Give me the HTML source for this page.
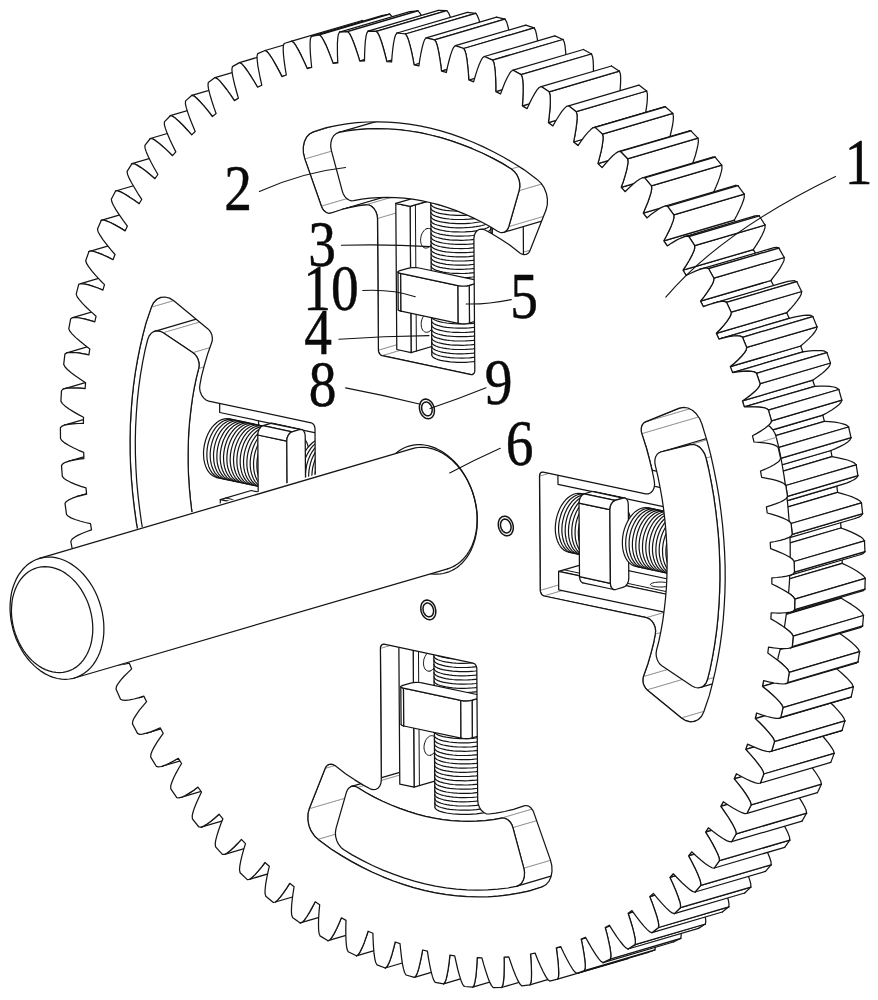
<!DOCTYPE html><html><head><meta charset="utf-8"><style>html,body{margin:0;padding:0;background:#fff}svg{display:block}</style></head><body><svg width="878" height="1000" viewBox="0 0 878 1000" stroke-linejoin="round" stroke-linecap="round"><path d="M86.6,494.2L81.8,495.3 76.7,496.7 147.1,476.1 152.1,474.7 157,473.6Z" fill="#fff"/>
<path d="M86.6,494.2L81.8,495.3 76.7,496.7" fill="none" stroke="#141414" stroke-width="1.25"/>
<path d="M157,473.6L152.1,474.7 147.1,476.1" fill="none" stroke="#141414" stroke-width="1.25"/>
<path d="M86.6,494.2L157,473.6" fill="none" stroke="#141414" stroke-width="1.25"/>
<path d="M76.7,496.7L147.1,476.1" fill="none" stroke="#141414" stroke-width="1.25"/>
<path d="M139.1,697.6L143.8,696.1 214.2,675.4 209.4,676.9Z" fill="#fff"/>
<path d="M139.1,697.6L143.8,696.1" fill="none" stroke="#141414" stroke-width="1.25"/>
<path d="M209.4,676.9L214.2,675.4" fill="none" stroke="#141414" stroke-width="1.25"/>
<path d="M139.1,697.6L209.4,676.9" fill="none" stroke="#141414" stroke-width="1.25"/>
<path d="M143.8,696.1L214.2,675.4" fill="none" stroke="#141414" stroke-width="1.25"/>
<path d="M146.3,733.2L150.7,731.8 155.6,729.9 160.2,727.9 230.6,707.2 226,709.2 221.1,711.2 216.7,712.6Z" fill="#fff"/>
<path d="M146.3,733.2L150.7,731.8 155.6,729.9 160.2,727.9" fill="none" stroke="#141414" stroke-width="1.25"/>
<path d="M216.7,712.6L221.1,711.2 226,709.2 230.6,707.2" fill="none" stroke="#141414" stroke-width="1.25"/>
<path d="M146.3,733.2L216.7,712.6" fill="none" stroke="#141414" stroke-width="1.25"/>
<path d="M160.2,727.9L230.6,707.2" fill="none" stroke="#141414" stroke-width="1.25"/>
<path d="M83.9,458.6L78.9,459.2 73.7,460.1 69.2,461.1 139.6,440.5 144.1,439.4 149.3,438.6 154.3,438Z" fill="#fff"/>
<path d="M83.9,458.6L78.9,459.2 73.7,460.1 69.2,461.1" fill="none" stroke="#141414" stroke-width="1.25"/>
<path d="M154.3,438L149.3,438.6 144.1,439.4 139.6,440.5" fill="none" stroke="#141414" stroke-width="1.25"/>
<path d="M83.9,458.6L154.3,438" fill="none" stroke="#141414" stroke-width="1.25"/>
<path d="M69.2,461.1L139.6,440.5" fill="none" stroke="#141414" stroke-width="1.25"/>
<path d="M161.2,766.5L165,765.2 169.2,763.3 173.9,760.8 178.3,758.3 248.6,737.6 244.3,740.2 239.6,742.6 235.3,744.5 231.6,745.8Z" fill="#fff"/>
<path d="M161.2,766.5L165,765.2 169.2,763.3 173.9,760.8 178.3,758.3" fill="none" stroke="#141414" stroke-width="1.25"/>
<path d="M231.6,745.8L235.3,744.5 239.6,742.6 244.3,740.2 248.6,737.6" fill="none" stroke="#141414" stroke-width="1.25"/>
<path d="M161.2,766.5L231.6,745.8" fill="none" stroke="#141414" stroke-width="1.25"/>
<path d="M178.3,758.3L248.6,737.6" fill="none" stroke="#141414" stroke-width="1.25"/>
<path d="M83.4,423.4L78.3,423.5 73,423.8 68.4,424.3 64.5,425.1 134.9,404.5 138.8,403.6 143.4,403.1 148.7,402.8 153.8,402.8Z" fill="#fff"/>
<path d="M83.4,423.4L78.3,423.5 73,423.8 68.4,424.3 64.5,425.1" fill="none" stroke="#141414" stroke-width="1.25"/>
<path d="M153.8,402.8L148.7,402.8 143.4,403.1 138.8,403.6 134.9,404.5" fill="none" stroke="#141414" stroke-width="1.25"/>
<path d="M83.4,423.4L153.8,402.8" fill="none" stroke="#141414" stroke-width="1.25"/>
<path d="M64.5,425.1L134.9,404.5" fill="none" stroke="#141414" stroke-width="1.25"/>
<path d="M181.6,797.2L185.3,795.5 189.3,793.1 193.8,790.2 197.9,787.1 268.3,766.5 264.1,769.5 259.7,772.5 255.6,774.8 252,776.5Z" fill="#fff"/>
<path d="M181.6,797.2L185.3,795.5 189.3,793.1 193.8,790.2 197.9,787.1" fill="none" stroke="#141414" stroke-width="1.25"/>
<path d="M252,776.5L255.6,774.8 259.7,772.5 264.1,769.5 268.3,766.5" fill="none" stroke="#141414" stroke-width="1.25"/>
<path d="M181.6,797.2L252,776.5" fill="none" stroke="#141414" stroke-width="1.25"/>
<path d="M197.9,787.1L268.3,766.5" fill="none" stroke="#141414" stroke-width="1.25"/>
<path d="M85.1,388.7L79.9,388.2 74.5,388 69.8,388 65.8,388.4 63.2,389.1 133.6,368.4 136.2,367.7 140.2,367.4 144.9,367.3 150.3,367.6 155.4,368.1Z" fill="#fff"/>
<path d="M85.1,388.7L79.9,388.2 74.5,388 69.8,388 65.8,388.4 63.2,389.1" fill="none" stroke="#141414" stroke-width="1.25"/>
<path d="M155.4,368.1L150.3,367.6 144.9,367.3 140.2,367.4 136.2,367.7 133.6,368.4" fill="none" stroke="#141414" stroke-width="1.25"/>
<path d="M85.1,388.7L155.4,368.1" fill="none" stroke="#141414" stroke-width="1.25"/>
<path d="M63.2,389.1L133.6,368.4" fill="none" stroke="#141414" stroke-width="1.25"/>
<path d="M201.1,827.1L203.6,826.1 207.1,824 210.9,821.2 215.1,817.7 219,814.2 289.4,793.6 285.5,797.1 281.3,800.5 277.5,803.4 274,805.5 271.5,806.5Z" fill="#fff"/>
<path d="M201.1,827.1L203.6,826.1 207.1,824 210.9,821.2 215.1,817.7 219,814.2" fill="none" stroke="#141414" stroke-width="1.25"/>
<path d="M271.5,806.5L274,805.5 277.5,803.4 281.3,800.5 285.5,797.1 289.4,793.6" fill="none" stroke="#141414" stroke-width="1.25"/>
<path d="M201.1,827.1L271.5,806.5" fill="none" stroke="#141414" stroke-width="1.25"/>
<path d="M219,814.2L289.4,793.6" fill="none" stroke="#141414" stroke-width="1.25"/>
<path d="M88.9,354.8L83.7,353.8 78.3,352.9 73.5,352.5 69.5,352.5 66.8,352.9 137.1,332.2 139.8,331.8 143.9,331.8 148.7,332.3 154.1,333.1 159.2,334.1Z" fill="#fff"/>
<path d="M88.9,354.8L83.7,353.8 78.3,352.9 73.5,352.5 69.5,352.5 66.8,352.9" fill="none" stroke="#141414" stroke-width="1.25"/>
<path d="M159.2,334.1L154.1,333.1 148.7,332.3 143.9,331.8 139.8,331.8 137.1,332.2" fill="none" stroke="#141414" stroke-width="1.25"/>
<path d="M88.9,354.8L159.2,334.1" fill="none" stroke="#141414" stroke-width="1.25"/>
<path d="M66.8,352.9L137.1,332.2" fill="none" stroke="#141414" stroke-width="1.25"/>
<path d="M224.7,854.3L227.1,853 230.3,850.5 233.9,847.3 237.8,843.3 241.4,839.4 311.8,818.7 308.2,822.7 304.3,826.6 300.7,829.9 297.4,832.4 295,833.7Z" fill="#fff"/>
<path d="M224.7,854.3L227.1,853 230.3,850.5 233.9,847.3 237.8,843.3 241.4,839.4" fill="none" stroke="#141414" stroke-width="1.25"/>
<path d="M295,833.7L297.4,832.4 300.7,829.9 304.3,826.6 308.2,822.7 311.8,818.7" fill="none" stroke="#141414" stroke-width="1.25"/>
<path d="M224.7,854.3L295,833.7" fill="none" stroke="#141414" stroke-width="1.25"/>
<path d="M241.4,839.4L311.8,818.7" fill="none" stroke="#141414" stroke-width="1.25"/>
<path d="M94.8,321.8L89.7,320.3 84.2,318.9 79.5,318 75.4,317.5 72.6,317.6 143,297 145.7,296.9 149.8,297.3 154.6,298.3 160,299.7 165.2,301.2Z" fill="#fff"/>
<path d="M94.8,321.8L89.7,320.3 84.2,318.9 79.5,318 75.4,317.5 72.6,317.6" fill="none" stroke="#141414" stroke-width="1.25"/>
<path d="M165.2,301.2L160,299.7 154.6,298.3 149.8,297.3 145.7,296.9 143,297" fill="none" stroke="#141414" stroke-width="1.25"/>
<path d="M94.8,321.8L165.2,301.2" fill="none" stroke="#141414" stroke-width="1.25"/>
<path d="M72.6,317.6L143,297" fill="none" stroke="#141414" stroke-width="1.25"/>
<path d="M249.5,879.3L251.7,877.7 254.8,874.9 258.1,871.2 261.7,866.8 265,862.5 335.4,841.8 332.1,846.2 328.5,850.6 325.2,854.2 322.1,857.1 319.8,858.7Z" fill="#fff"/>
<path d="M249.5,879.3L251.7,877.7 254.8,874.9 258.1,871.2 261.7,866.8 265,862.5" fill="none" stroke="#141414" stroke-width="1.25"/>
<path d="M319.8,858.7L322.1,857.1 325.2,854.2 328.5,850.6 332.1,846.2 335.4,841.8" fill="none" stroke="#141414" stroke-width="1.25"/>
<path d="M249.5,879.3L319.8,858.7" fill="none" stroke="#141414" stroke-width="1.25"/>
<path d="M265,862.5L335.4,841.8" fill="none" stroke="#141414" stroke-width="1.25"/>
<path d="M102.9,290.1L97.8,288 92.4,286.1 87.6,284.7 83.5,283.8 80.7,283.6 151.1,262.9 153.8,263.1 158,264 162.7,265.4 168.1,267.4 173.2,269.4Z" fill="#fff"/>
<path d="M102.9,290.1L97.8,288 92.4,286.1 87.6,284.7 83.5,283.8 80.7,283.6" fill="none" stroke="#141414" stroke-width="1.25"/>
<path d="M173.2,269.4L168.1,267.4 162.7,265.4 158,264 153.8,263.1 151.1,262.9" fill="none" stroke="#141414" stroke-width="1.25"/>
<path d="M102.9,290.1L173.2,269.4" fill="none" stroke="#141414" stroke-width="1.25"/>
<path d="M80.7,283.6L151.1,262.9" fill="none" stroke="#141414" stroke-width="1.25"/>
<path d="M275.4,902L277.5,900.2 280.4,896.9 283.4,892.9 286.7,888.1 289.7,883.3 360,862.7 357,867.4 353.8,872.2 350.7,876.3 347.9,879.5 345.8,881.3Z" fill="#fff"/>
<path d="M275.4,902L277.5,900.2 280.4,896.9 283.4,892.9 286.7,888.1 289.7,883.3" fill="none" stroke="#141414" stroke-width="1.25"/>
<path d="M345.8,881.3L347.9,879.5 350.7,876.3 353.8,872.2 357,867.4 360,862.7" fill="none" stroke="#141414" stroke-width="1.25"/>
<path d="M275.4,902L345.8,881.3" fill="none" stroke="#141414" stroke-width="1.25"/>
<path d="M289.7,883.3L360,862.7" fill="none" stroke="#141414" stroke-width="1.25"/>
<path d="M113,259.7L108,257.1 102.6,254.7 97.9,252.8 93.8,251.5 91,251 88.9,251.6 159.2,230.9 161.3,230.3 164.1,230.8 168.3,232.1 173,234 178.3,236.5 183.4,239Z" fill="#fff"/>
<path d="M113,259.7L108,257.1 102.6,254.7 97.9,252.8 93.8,251.5 91,251 88.9,251.6" fill="none" stroke="#141414" stroke-width="1.25"/>
<path d="M183.4,239L178.3,236.5 173,234 168.3,232.1 164.1,230.8 161.3,230.3 159.2,230.9" fill="none" stroke="#141414" stroke-width="1.25"/>
<path d="M113,259.7L183.4,239" fill="none" stroke="#141414" stroke-width="1.25"/>
<path d="M88.9,251.6L159.2,230.9" fill="none" stroke="#141414" stroke-width="1.25"/>
<path d="M300.2,922.9L302.3,922.2 304.3,920.1 306.9,916.5 309.6,912.1 312.5,906.9 315.2,901.8 385.5,881.2 382.9,886.3 380,891.5 377.2,895.9 374.6,899.4 372.6,901.5 370.6,902.3Z" fill="#fff"/>
<path d="M300.2,922.9L302.3,922.2 304.3,920.1 306.9,916.5 309.6,912.1 312.5,906.9 315.2,901.8" fill="none" stroke="#141414" stroke-width="1.25"/>
<path d="M370.6,902.3L372.6,901.5 374.6,899.4 377.2,895.9 380,891.5 382.9,886.3 385.5,881.2" fill="none" stroke="#141414" stroke-width="1.25"/>
<path d="M300.2,922.9L370.6,902.3" fill="none" stroke="#141414" stroke-width="1.25"/>
<path d="M315.2,901.8L385.5,881.2" fill="none" stroke="#141414" stroke-width="1.25"/>
<path d="M125.1,230.9L120.2,227.9 114.9,224.9 110.3,222.5 106.2,220.8 103.4,220 101.2,220.4 171.6,199.7 173.7,199.4 176.5,200.1 180.6,201.8 185.3,204.2 190.5,207.2 195.5,210.2Z" fill="#fff"/>
<path d="M125.1,230.9L120.2,227.9 114.9,224.9 110.3,222.5 106.2,220.8 103.4,220 101.2,220.4" fill="none" stroke="#141414" stroke-width="1.25"/>
<path d="M195.5,210.2L190.5,207.2 185.3,204.2 180.6,201.8 176.5,200.1 173.7,199.4 171.6,199.7" fill="none" stroke="#141414" stroke-width="1.25"/>
<path d="M125.1,230.9L195.5,210.2" fill="none" stroke="#141414" stroke-width="1.25"/>
<path d="M101.2,220.4L171.6,199.7" fill="none" stroke="#141414" stroke-width="1.25"/>
<path d="M328,940.7L330,939.7 331.8,937.4 334.1,933.6 336.6,928.8 339.1,923.2 341.4,917.8 411.7,897.2 409.5,902.6 406.9,908.2 404.5,912.9 402.2,916.8 400.3,919.1 398.4,920.1Z" fill="#fff"/>
<path d="M328,940.7L330,939.7 331.8,937.4 334.1,933.6 336.6,928.8 339.1,923.2 341.4,917.8" fill="none" stroke="#141414" stroke-width="1.25"/>
<path d="M398.4,920.1L400.3,919.1 402.2,916.8 404.5,912.9 406.9,908.2 409.5,902.6 411.7,897.2" fill="none" stroke="#141414" stroke-width="1.25"/>
<path d="M328,940.7L398.4,920.1" fill="none" stroke="#141414" stroke-width="1.25"/>
<path d="M341.4,917.8L411.7,897.2" fill="none" stroke="#141414" stroke-width="1.25"/>
<path d="M139.1,203.8L134.3,200.3 129.2,196.9 124.6,194 120.6,191.9 117.8,190.9 115.6,191 186,170.4 188.2,170.2 191,171.3 195,173.4 199.6,176.2 204.7,179.7 209.5,183.2Z" fill="#fff"/>
<path d="M139.1,203.8L134.3,200.3 129.2,196.9 124.6,194 120.6,191.9 117.8,190.9 115.6,191" fill="none" stroke="#141414" stroke-width="1.25"/>
<path d="M209.5,183.2L204.7,179.7 199.6,176.2 195,173.4 191,171.3 188.2,170.2 186,170.4" fill="none" stroke="#141414" stroke-width="1.25"/>
<path d="M139.1,203.8L209.5,183.2" fill="none" stroke="#141414" stroke-width="1.25"/>
<path d="M115.6,191L186,170.4" fill="none" stroke="#141414" stroke-width="1.25"/>
<path d="M356.4,955.8L358.3,954.6 359.9,952.1 362,947.9 364.1,942.9 366.2,937 368.1,931.2 438.5,910.6 436.6,916.3 434.4,922.2 432.4,927.3 430.3,931.4 428.6,933.9 426.8,935.1Z" fill="#fff"/>
<path d="M356.4,955.8L358.3,954.6 359.9,952.1 362,947.9 364.1,942.9 366.2,937 368.1,931.2" fill="none" stroke="#141414" stroke-width="1.25"/>
<path d="M426.8,935.1L428.6,933.9 430.3,931.4 432.4,927.3 434.4,922.2 436.6,916.3 438.5,910.6" fill="none" stroke="#141414" stroke-width="1.25"/>
<path d="M356.4,955.8L426.8,935.1" fill="none" stroke="#141414" stroke-width="1.25"/>
<path d="M368.1,931.2L438.5,910.6" fill="none" stroke="#141414" stroke-width="1.25"/>
<path d="M154.9,178.7L150.3,174.8 145.4,170.8 140.9,167.6 137,165.1 134.3,163.8 132,163.7 202.4,143 204.6,143.1 207.4,144.4 211.3,146.9 215.7,150.2 220.7,154.1 225.3,158.1Z" fill="#fff"/>
<path d="M154.9,178.7L150.3,174.8 145.4,170.8 140.9,167.6 137,165.1 134.3,163.8 132,163.7" fill="none" stroke="#141414" stroke-width="1.25"/>
<path d="M225.3,158.1L220.7,154.1 215.7,150.2 211.3,146.9 207.4,144.4 204.6,143.1 202.4,143" fill="none" stroke="#141414" stroke-width="1.25"/>
<path d="M154.9,178.7L225.3,158.1" fill="none" stroke="#141414" stroke-width="1.25"/>
<path d="M132,163.7L202.4,143" fill="none" stroke="#141414" stroke-width="1.25"/>
<path d="M385.3,968L387,966.6 388.5,963.9 390.3,959.5 392,954.2 393.7,948 395.2,942 465.6,921.3 464.1,927.3 462.4,933.5 460.6,938.8 458.9,943.2 457.4,946 455.6,947.4Z" fill="#fff"/>
<path d="M385.3,968L387,966.6 388.5,963.9 390.3,959.5 392,954.2 393.7,948 395.2,942" fill="none" stroke="#141414" stroke-width="1.25"/>
<path d="M455.6,947.4L457.4,946 458.9,943.2 460.6,938.8 462.4,933.5 464.1,927.3 465.6,921.3" fill="none" stroke="#141414" stroke-width="1.25"/>
<path d="M385.3,968L455.6,947.4" fill="none" stroke="#141414" stroke-width="1.25"/>
<path d="M395.2,942L465.6,921.3" fill="none" stroke="#141414" stroke-width="1.25"/>
<path d="M172.5,155.7L168.1,151.4 163.3,146.9 159,143.3 155.2,140.4 152.5,138.8 150.3,138.5 220.6,117.8 222.9,118.2 225.6,119.7 229.4,122.6 233.7,126.3 238.4,130.7 242.9,135.1Z" fill="#fff"/>
<path d="M172.5,155.7L168.1,151.4 163.3,146.9 159,143.3 155.2,140.4 152.5,138.8 150.3,138.5" fill="none" stroke="#141414" stroke-width="1.25"/>
<path d="M242.9,135.1L238.4,130.7 233.7,126.3 229.4,122.6 225.6,119.7 222.9,118.2 220.6,117.8" fill="none" stroke="#141414" stroke-width="1.25"/>
<path d="M172.5,155.7L242.9,135.1" fill="none" stroke="#141414" stroke-width="1.25"/>
<path d="M150.3,138.5L220.6,117.8" fill="none" stroke="#141414" stroke-width="1.25"/>
<path d="M414.4,977.4L416,975.8 417.3,972.9 418.8,968.2 420.1,962.7 421.5,956.2 422.6,950 492.9,929.3 491.8,935.6 490.5,942 489.1,947.6 487.7,952.2 486.4,955.1 484.7,956.7Z" fill="#fff"/>
<path d="M414.4,977.4L416,975.8 417.3,972.9 418.8,968.2 420.1,962.7 421.5,956.2 422.6,950" fill="none" stroke="#141414" stroke-width="1.25"/>
<path d="M484.7,956.7L486.4,955.1 487.7,952.2 489.1,947.6 490.5,942 491.8,935.6 492.9,929.3" fill="none" stroke="#141414" stroke-width="1.25"/>
<path d="M414.4,977.4L484.7,956.7" fill="none" stroke="#141414" stroke-width="1.25"/>
<path d="M422.6,950L492.9,929.3" fill="none" stroke="#141414" stroke-width="1.25"/>
<path d="M191.7,134.9L187.5,130.2 182.9,125.3 178.8,121.3 175.2,118.1 172.5,116.2 170.3,115.7 240.6,95 242.9,95.6 245.5,97.4 249.2,100.6 253.3,104.7 257.8,109.5 262.1,114.3Z" fill="#fff"/>
<path d="M191.7,134.9L187.5,130.2 182.9,125.3 178.8,121.3 175.2,118.1 172.5,116.2 170.3,115.7" fill="none" stroke="#141414" stroke-width="1.25"/>
<path d="M262.1,114.3L257.8,109.5 253.3,104.7 249.2,100.6 245.5,97.4 242.9,95.6 240.6,95" fill="none" stroke="#141414" stroke-width="1.25"/>
<path d="M191.7,134.9L262.1,114.3" fill="none" stroke="#141414" stroke-width="1.25"/>
<path d="M170.3,115.7L240.6,95" fill="none" stroke="#141414" stroke-width="1.25"/>
<path d="M443.6,983.8L445.1,982 446.2,978.9 447.3,974 448.3,968.3 449.2,961.6 449.9,955.2 520.3,934.6 519.6,941 518.7,947.6 517.7,953.4 516.5,958.2 515.5,961.3 513.9,963.1Z" fill="#fff"/>
<path d="M443.6,983.8L445.1,982 446.2,978.9 447.3,974 448.3,968.3 449.2,961.6 449.9,955.2" fill="none" stroke="#141414" stroke-width="1.25"/>
<path d="M513.9,963.1L515.5,961.3 516.5,958.2 517.7,953.4 518.7,947.6 519.6,941 520.3,934.6" fill="none" stroke="#141414" stroke-width="1.25"/>
<path d="M443.6,983.8L513.9,963.1" fill="none" stroke="#141414" stroke-width="1.25"/>
<path d="M449.9,955.2L520.3,934.6" fill="none" stroke="#141414" stroke-width="1.25"/>
<path d="M212.4,116.5L208.4,111.4 204.1,106.2 200.2,101.8 196.7,98.2 194.2,96.1 191.9,95.3 262.3,74.7 264.5,75.5 267.1,77.5 270.6,81.1 274.5,85.5 278.7,90.8 282.7,95.9Z" fill="#fff"/>
<path d="M212.4,116.5L208.4,111.4 204.1,106.2 200.2,101.8 196.7,98.2 194.2,96.1 191.9,95.3" fill="none" stroke="#141414" stroke-width="1.25"/>
<path d="M282.7,95.9L278.7,90.8 274.5,85.5 270.6,81.1 267.1,77.5 264.5,75.5 262.3,74.7" fill="none" stroke="#141414" stroke-width="1.25"/>
<path d="M212.4,116.5L282.7,95.9" fill="none" stroke="#141414" stroke-width="1.25"/>
<path d="M191.9,95.3L262.3,74.7" fill="none" stroke="#141414" stroke-width="1.25"/>
<path d="M472.7,987.2L474.1,985.2 474.9,981.9 475.8,976.9 476.4,971 476.9,964.2 477.2,957.6 547.5,937 547.2,943.5 546.8,950.4 546.1,956.3 545.3,961.3 544.4,964.5 543,966.5Z" fill="#fff"/>
<path d="M472.7,987.2L474.1,985.2 474.9,981.9 475.8,976.9 476.4,971 476.9,964.2 477.2,957.6" fill="none" stroke="#141414" stroke-width="1.25"/>
<path d="M543,966.5L544.4,964.5 545.3,961.3 546.1,956.3 546.8,950.4 547.2,943.5 547.5,937" fill="none" stroke="#141414" stroke-width="1.25"/>
<path d="M472.7,987.2L543,966.5" fill="none" stroke="#141414" stroke-width="1.25"/>
<path d="M477.2,957.6L547.5,937" fill="none" stroke="#141414" stroke-width="1.25"/>
<path d="M234.4,100.6L230.7,95.1 226.7,89.5 223,84.8 219.7,80.9 217.2,78.6 215,77.6 285.4,57 287.6,58 290,60.3 293.4,64.1 297,68.9 301.1,74.5 304.7,79.9Z" fill="#fff"/>
<path d="M234.4,100.6L230.7,95.1 226.7,89.5 223,84.8 219.7,80.9 217.2,78.6 215,77.6" fill="none" stroke="#141414" stroke-width="1.25"/>
<path d="M304.7,79.9L301.1,74.5 297,68.9 293.4,64.1 290,60.3 287.6,58 285.4,57" fill="none" stroke="#141414" stroke-width="1.25"/>
<path d="M234.4,100.6L304.7,79.9" fill="none" stroke="#141414" stroke-width="1.25"/>
<path d="M215,77.6L285.4,57" fill="none" stroke="#141414" stroke-width="1.25"/>
<path d="M501.5,987.5L502.7,985.4 503.4,982 503.9,976.9 504.1,970.8 504.2,963.9 504.1,957.2 574.4,936.6 574.6,943.2 574.5,950.2 574.2,956.2 573.7,961.4 573.1,964.7 571.9,966.9Z" fill="#fff"/>
<path d="M501.5,987.5L502.7,985.4 503.4,982 503.9,976.9 504.1,970.8 504.2,963.9 504.1,957.2" fill="none" stroke="#141414" stroke-width="1.25"/>
<path d="M571.9,966.9L573.1,964.7 573.7,961.4 574.2,956.2 574.5,950.2 574.6,943.2 574.4,936.6" fill="none" stroke="#141414" stroke-width="1.25"/>
<path d="M501.5,987.5L571.9,966.9" fill="none" stroke="#141414" stroke-width="1.25"/>
<path d="M504.1,957.2L574.4,936.6" fill="none" stroke="#141414" stroke-width="1.25"/>
<path d="M257.6,87.2L254.2,81.5 250.5,75.6 247.1,70.5 244,66.4 241.7,63.8 239.5,62.6 309.8,42 312,43.2 314.4,45.7 317.5,49.9 320.9,54.9 324.6,60.8 328,66.6Z" fill="#fff"/>
<path d="M257.6,87.2L254.2,81.5 250.5,75.6 247.1,70.5 244,66.4 241.7,63.8 239.5,62.6" fill="none" stroke="#141414" stroke-width="1.25"/>
<path d="M328,66.6L324.6,60.8 320.9,54.9 317.5,49.9 314.4,45.7 312,43.2 309.8,42" fill="none" stroke="#141414" stroke-width="1.25"/>
<path d="M257.6,87.2L328,66.6" fill="none" stroke="#141414" stroke-width="1.25"/>
<path d="M239.5,62.6L309.8,42" fill="none" stroke="#141414" stroke-width="1.25"/>
<path d="M529.8,984.9L530.9,982.6 531.4,979.1 531.5,973.8 531.4,967.7 531,960.7 530.5,954 600.9,933.3 601.4,940 601.8,947 601.9,953.2 601.7,958.5 601.3,961.9 600.2,964.2Z" fill="#fff"/>
<path d="M529.8,984.9L530.9,982.6 531.4,979.1 531.5,973.8 531.4,967.7 531,960.7 530.5,954" fill="none" stroke="#141414" stroke-width="1.25"/>
<path d="M600.2,964.2L601.3,961.9 601.7,958.5 601.9,953.2 601.8,947 601.4,940 600.9,933.3" fill="none" stroke="#141414" stroke-width="1.25"/>
<path d="M529.8,984.9L600.2,964.2" fill="none" stroke="#141414" stroke-width="1.25"/>
<path d="M530.5,954L600.9,933.3" fill="none" stroke="#141414" stroke-width="1.25"/>
<path d="M282,76.6L278.9,70.6 275.5,64.4 272.4,59 269.5,54.6 267.3,51.9 265.1,50.5 335.5,29.8 337.6,31.2 339.8,34 342.7,38.4 345.9,43.7 349.2,49.9 352.3,55.9Z" fill="#fff"/>
<path d="M282,76.6L278.9,70.6 275.5,64.4 272.4,59 269.5,54.6 267.3,51.9 265.1,50.5" fill="none" stroke="#141414" stroke-width="1.25"/>
<path d="M352.3,55.9L349.2,49.9 345.9,43.7 342.7,38.4 339.8,34 337.6,31.2 335.5,29.8" fill="none" stroke="#141414" stroke-width="1.25"/>
<path d="M282,76.6L352.3,55.9" fill="none" stroke="#141414" stroke-width="1.25"/>
<path d="M265.1,50.5L335.5,29.8" fill="none" stroke="#141414" stroke-width="1.25"/>
<path d="M557.5,979.2L558.5,976.8 558.7,973.2 558.5,967.9 558,961.7 557.2,954.6 556.3,947.9 626.6,927.3 627.6,934 628.4,941 628.9,947.2 629,952.6 628.8,956.1 627.9,958.6Z" fill="#fff"/>
<path d="M557.5,979.2L558.5,976.8 558.7,973.2 558.5,967.9 558,961.7 557.2,954.6 556.3,947.9" fill="none" stroke="#141414" stroke-width="1.25"/>
<path d="M627.9,958.6L628.8,956.1 629,952.6 628.9,947.2 628.4,941 627.6,934 626.6,927.3" fill="none" stroke="#141414" stroke-width="1.25"/>
<path d="M557.5,979.2L627.9,958.6" fill="none" stroke="#141414" stroke-width="1.25"/>
<path d="M556.3,947.9L626.6,927.3" fill="none" stroke="#141414" stroke-width="1.25"/>
<path d="M556.3,947.9L560.7,946.6 631.1,925.9 626.6,927.3Z" fill="#fff"/>
<path d="M556.3,947.9L560.7,946.6" fill="none" stroke="#141414" stroke-width="1.25"/>
<path d="M626.6,927.3L631.1,925.9" fill="none" stroke="#141414" stroke-width="1.25"/>
<path d="M556.3,947.9L626.6,927.3" fill="none" stroke="#141414" stroke-width="1.25"/>
<path d="M560.7,946.6L631.1,925.9" fill="none" stroke="#141414" stroke-width="1.25"/>
<path d="M307.2,68.6L304.5,62.4 301.4,55.9 298.6,50.4 295.9,45.7 293.9,42.8 291.8,41.2 362.2,20.5 364.3,22.2 366.3,25.1 369,29.7 371.8,35.3 374.8,41.7 377.6,48Z" fill="#fff"/>
<path d="M307.2,68.6L304.5,62.4 301.4,55.9 298.6,50.4 295.9,45.7 293.9,42.8 291.8,41.2" fill="none" stroke="#141414" stroke-width="1.25"/>
<path d="M377.6,48L374.8,41.7 371.8,35.3 369,29.7 366.3,25.1 364.3,22.2 362.2,20.5" fill="none" stroke="#141414" stroke-width="1.25"/>
<path d="M307.2,68.6L377.6,48" fill="none" stroke="#141414" stroke-width="1.25"/>
<path d="M291.8,41.2L362.2,20.5" fill="none" stroke="#141414" stroke-width="1.25"/>
<path d="M311.7,67.5L307.2,68.6 377.6,48 382.1,46.9Z" fill="#fff"/>
<path d="M311.7,67.5L307.2,68.6" fill="none" stroke="#141414" stroke-width="1.25"/>
<path d="M382.1,46.9L377.6,48" fill="none" stroke="#141414" stroke-width="1.25"/>
<path d="M311.7,67.5L382.1,46.9" fill="none" stroke="#141414" stroke-width="1.25"/>
<path d="M307.2,68.6L377.6,48" fill="none" stroke="#141414" stroke-width="1.25"/>
<path d="M576.8,973.3L584.4,970.6 654.8,949.9 647.2,952.7Z" fill="#fff"/>
<path d="M576.8,973.3L584.4,970.6" fill="none" stroke="#141414" stroke-width="1.25"/>
<path d="M647.2,952.7L654.8,949.9" fill="none" stroke="#141414" stroke-width="1.25"/>
<path d="M576.8,973.3L647.2,952.7" fill="none" stroke="#141414" stroke-width="1.25"/>
<path d="M584.4,970.6L654.8,949.9" fill="none" stroke="#141414" stroke-width="1.25"/>
<path d="M584.4,970.6L585.2,968 585.2,964.4 584.7,959 583.8,952.8 582.6,945.8 581.2,939.1 651.6,918.4 652.9,925.1 654.2,932.2 655,938.4 655.5,943.8 655.5,947.4 654.8,949.9Z" fill="#fff"/>
<path d="M584.4,970.6L585.2,968 585.2,964.4 584.7,959 583.8,952.8 582.6,945.8 581.2,939.1" fill="none" stroke="#141414" stroke-width="1.25"/>
<path d="M654.8,949.9L655.5,947.4 655.5,943.8 655,938.4 654.2,932.2 652.9,925.1 651.6,918.4" fill="none" stroke="#141414" stroke-width="1.25"/>
<path d="M584.4,970.6L654.8,949.9" fill="none" stroke="#141414" stroke-width="1.25"/>
<path d="M581.2,939.1L651.6,918.4" fill="none" stroke="#141414" stroke-width="1.25"/>
<path d="M319.4,34.9L311.4,36.4 381.8,15.7 389.7,14.2Z" fill="#fff"/>
<path d="M319.4,34.9L311.4,36.4" fill="none" stroke="#141414" stroke-width="1.25"/>
<path d="M389.7,14.2L381.8,15.7" fill="none" stroke="#141414" stroke-width="1.25"/>
<path d="M319.4,34.9L389.7,14.2" fill="none" stroke="#141414" stroke-width="1.25"/>
<path d="M311.4,36.4L381.8,15.7" fill="none" stroke="#141414" stroke-width="1.25"/>
<path d="M581.2,939.1L585.5,937.2 655.9,916.6 651.6,918.4Z" fill="#fff"/>
<path d="M581.2,939.1L585.5,937.2" fill="none" stroke="#141414" stroke-width="1.25"/>
<path d="M651.6,918.4L655.9,916.6" fill="none" stroke="#141414" stroke-width="1.25"/>
<path d="M581.2,939.1L651.6,918.4" fill="none" stroke="#141414" stroke-width="1.25"/>
<path d="M585.5,937.2L655.9,916.6" fill="none" stroke="#141414" stroke-width="1.25"/>
<path d="M333.2,63.5L330.8,57.1 328.2,50.4 325.7,44.6 323.2,39.8 321.4,36.7 319.4,34.9 389.7,14.2 391.7,16.1 393.6,19.1 396,24 398.5,29.7 401.2,36.4 403.6,42.8Z" fill="#fff"/>
<path d="M333.2,63.5L330.8,57.1 328.2,50.4 325.7,44.6 323.2,39.8 321.4,36.7 319.4,34.9" fill="none" stroke="#141414" stroke-width="1.25"/>
<path d="M403.6,42.8L401.2,36.4 398.5,29.7 396,24 393.6,19.1 391.7,16.1 389.7,14.2" fill="none" stroke="#141414" stroke-width="1.25"/>
<path d="M333.2,63.5L403.6,42.8" fill="none" stroke="#141414" stroke-width="1.25"/>
<path d="M319.4,34.9L389.7,14.2" fill="none" stroke="#141414" stroke-width="1.25"/>
<path d="M337.8,62.9L333.2,63.5 403.6,42.8 408.2,42.2Z" fill="#fff"/>
<path d="M337.8,62.9L333.2,63.5" fill="none" stroke="#141414" stroke-width="1.25"/>
<path d="M408.2,42.2L403.6,42.8" fill="none" stroke="#141414" stroke-width="1.25"/>
<path d="M337.8,62.9L408.2,42.2" fill="none" stroke="#141414" stroke-width="1.25"/>
<path d="M333.2,63.5L403.6,42.8" fill="none" stroke="#141414" stroke-width="1.25"/>
<path d="M603,962.6L610.3,959 680.7,938.4 673.4,942Z" fill="#fff"/>
<path d="M603,962.6L610.3,959" fill="none" stroke="#141414" stroke-width="1.25"/>
<path d="M673.4,942L680.7,938.4" fill="none" stroke="#141414" stroke-width="1.25"/>
<path d="M603,962.6L673.4,942" fill="none" stroke="#141414" stroke-width="1.25"/>
<path d="M610.3,959L680.7,938.4" fill="none" stroke="#141414" stroke-width="1.25"/>
<path d="M610.3,959L610.9,956.3 610.7,952.7 609.9,947.3 608.6,941.1 607,934.1 605.2,927.5 675.6,906.9 677.3,913.5 679,920.5 680.2,926.7 681,932.1 681.2,935.7 680.7,938.4Z" fill="#fff"/>
<path d="M610.3,959L610.9,956.3 610.7,952.7 609.9,947.3 608.6,941.1 607,934.1 605.2,927.5" fill="none" stroke="#141414" stroke-width="1.25"/>
<path d="M680.7,938.4L681.2,935.7 681,932.1 680.2,926.7 679,920.5 677.3,913.5 675.6,906.9" fill="none" stroke="#141414" stroke-width="1.25"/>
<path d="M610.3,959L680.7,938.4" fill="none" stroke="#141414" stroke-width="1.25"/>
<path d="M605.2,927.5L675.6,906.9" fill="none" stroke="#141414" stroke-width="1.25"/>
<path d="M347.6,31.6L339.5,32.2 409.8,11.6 417.9,10.9Z" fill="#fff"/>
<path d="M347.6,31.6L339.5,32.2" fill="none" stroke="#141414" stroke-width="1.25"/>
<path d="M417.9,10.9L409.8,11.6" fill="none" stroke="#141414" stroke-width="1.25"/>
<path d="M347.6,31.6L417.9,10.9" fill="none" stroke="#141414" stroke-width="1.25"/>
<path d="M339.5,32.2L409.8,11.6" fill="none" stroke="#141414" stroke-width="1.25"/>
<path d="M605.2,927.5L609.3,925.2 679.7,904.6 675.6,906.9Z" fill="#fff"/>
<path d="M605.2,927.5L609.3,925.2" fill="none" stroke="#141414" stroke-width="1.25"/>
<path d="M675.6,906.9L679.7,904.6" fill="none" stroke="#141414" stroke-width="1.25"/>
<path d="M605.2,927.5L675.6,906.9" fill="none" stroke="#141414" stroke-width="1.25"/>
<path d="M609.3,925.2L679.7,904.6" fill="none" stroke="#141414" stroke-width="1.25"/>
<path d="M359.8,61.1L357.8,54.6 355.5,47.8 353.3,41.8 351.2,36.8 349.5,33.6 347.6,31.6 417.9,10.9 419.8,12.9 421.6,16.2 423.7,21.2 425.9,27.1 428.2,33.9 430.2,40.5Z" fill="#fff"/>
<path d="M359.8,61.1L357.8,54.6 355.5,47.8 353.3,41.8 351.2,36.8 349.5,33.6 347.6,31.6" fill="none" stroke="#141414" stroke-width="1.25"/>
<path d="M430.2,40.5L428.2,33.9 425.9,27.1 423.7,21.2 421.6,16.2 419.8,12.9 417.9,10.9" fill="none" stroke="#141414" stroke-width="1.25"/>
<path d="M359.8,61.1L430.2,40.5" fill="none" stroke="#141414" stroke-width="1.25"/>
<path d="M347.6,31.6L417.9,10.9" fill="none" stroke="#141414" stroke-width="1.25"/>
<path d="M364.5,61L359.8,61.1 430.2,40.5 434.9,40.4Z" fill="#fff"/>
<path d="M364.5,61L359.8,61.1" fill="none" stroke="#141414" stroke-width="1.25"/>
<path d="M434.9,40.4L430.2,40.5" fill="none" stroke="#141414" stroke-width="1.25"/>
<path d="M364.5,61L434.9,40.4" fill="none" stroke="#141414" stroke-width="1.25"/>
<path d="M359.8,61.1L430.2,40.5" fill="none" stroke="#141414" stroke-width="1.25"/>
<path d="M628.1,949L635,944.6 705.4,924 698.5,928.4Z" fill="#fff"/>
<path d="M628.1,949L635,944.6" fill="none" stroke="#141414" stroke-width="1.25"/>
<path d="M698.5,928.4L705.4,924" fill="none" stroke="#141414" stroke-width="1.25"/>
<path d="M628.1,949L698.5,928.4" fill="none" stroke="#141414" stroke-width="1.25"/>
<path d="M635,944.6L705.4,924" fill="none" stroke="#141414" stroke-width="1.25"/>
<path d="M635,944.6L635.4,941.9 635,938.2 633.9,932.9 632.3,926.7 630.2,919.8 628.1,913.3 698.5,892.7 700.6,899.2 702.6,906.1 704.2,912.2 705.4,917.6 705.8,921.2 705.4,924Z" fill="#fff"/>
<path d="M635,944.6L635.4,941.9 635,938.2 633.9,932.9 632.3,926.7 630.2,919.8 628.1,913.3" fill="none" stroke="#141414" stroke-width="1.25"/>
<path d="M705.4,924L705.8,921.2 705.4,917.6 704.2,912.2 702.6,906.1 700.6,899.2 698.5,892.7" fill="none" stroke="#141414" stroke-width="1.25"/>
<path d="M635,944.6L705.4,924" fill="none" stroke="#141414" stroke-width="1.25"/>
<path d="M628.1,913.3L698.5,892.7" fill="none" stroke="#141414" stroke-width="1.25"/>
<path d="M628.1,913.3L632,910.6 702.4,889.9 698.5,892.7Z" fill="#fff"/>
<path d="M628.1,913.3L632,910.6" fill="none" stroke="#141414" stroke-width="1.25"/>
<path d="M698.5,892.7L702.4,889.9" fill="none" stroke="#141414" stroke-width="1.25"/>
<path d="M628.1,913.3L698.5,892.7" fill="none" stroke="#141414" stroke-width="1.25"/>
<path d="M632,910.6L702.4,889.9" fill="none" stroke="#141414" stroke-width="1.25"/>
<path d="M376.3,31.3L368.1,31.1 438.4,10.4 446.7,10.7Z" fill="#fff"/>
<path d="M376.3,31.3L368.1,31.1" fill="none" stroke="#141414" stroke-width="1.25"/>
<path d="M446.7,10.7L438.4,10.4" fill="none" stroke="#141414" stroke-width="1.25"/>
<path d="M376.3,31.3L446.7,10.7" fill="none" stroke="#141414" stroke-width="1.25"/>
<path d="M368.1,31.1L438.4,10.4" fill="none" stroke="#141414" stroke-width="1.25"/>
<path d="M386.8,61.6L385.2,55 383.3,48 381.5,42 379.6,36.8 378.1,33.5 376.3,31.3 446.7,10.7 448.5,12.8 450,16.2 451.9,21.3 453.7,27.4 455.6,34.3 457.2,41Z" fill="#fff"/>
<path d="M386.8,61.6L385.2,55 383.3,48 381.5,42 379.6,36.8 378.1,33.5 376.3,31.3" fill="none" stroke="#141414" stroke-width="1.25"/>
<path d="M457.2,41L455.6,34.3 453.7,27.4 451.9,21.3 450,16.2 448.5,12.8 446.7,10.7" fill="none" stroke="#141414" stroke-width="1.25"/>
<path d="M386.8,61.6L457.2,41" fill="none" stroke="#141414" stroke-width="1.25"/>
<path d="M376.3,31.3L446.7,10.7" fill="none" stroke="#141414" stroke-width="1.25"/>
<path d="M391.6,62L386.8,61.6 457.2,41 462,41.4Z" fill="#fff"/>
<path d="M391.6,62L386.8,61.6" fill="none" stroke="#141414" stroke-width="1.25"/>
<path d="M462,41.4L457.2,41" fill="none" stroke="#141414" stroke-width="1.25"/>
<path d="M391.6,62L462,41.4" fill="none" stroke="#141414" stroke-width="1.25"/>
<path d="M386.8,61.6L457.2,41" fill="none" stroke="#141414" stroke-width="1.25"/>
<path d="M651.9,932.7L658.5,927.5 728.8,906.8 722.3,912Z" fill="#fff"/>
<path d="M651.9,932.7L658.5,927.5" fill="none" stroke="#141414" stroke-width="1.25"/>
<path d="M722.3,912L728.8,906.8" fill="none" stroke="#141414" stroke-width="1.25"/>
<path d="M651.9,932.7L722.3,912" fill="none" stroke="#141414" stroke-width="1.25"/>
<path d="M658.5,927.5L728.8,906.8" fill="none" stroke="#141414" stroke-width="1.25"/>
<path d="M658.5,927.5L658.7,924.7 658,921 656.6,915.7 654.6,909.7 652.2,902.9 649.7,896.6 720.1,875.9 722.5,882.3 725,889.1 726.9,895.1 728.4,900.4 729,904 728.8,906.8Z" fill="#fff"/>
<path d="M658.5,927.5L658.7,924.7 658,921 656.6,915.7 654.6,909.7 652.2,902.9 649.7,896.6" fill="none" stroke="#141414" stroke-width="1.25"/>
<path d="M728.8,906.8L729,904 728.4,900.4 726.9,895.1 725,889.1 722.5,882.3 720.1,875.9" fill="none" stroke="#141414" stroke-width="1.25"/>
<path d="M658.5,927.5L728.8,906.8" fill="none" stroke="#141414" stroke-width="1.25"/>
<path d="M649.7,896.6L720.1,875.9" fill="none" stroke="#141414" stroke-width="1.25"/>
<path d="M649.7,896.6L653.4,893.4 723.7,872.7 720.1,875.9Z" fill="#fff"/>
<path d="M649.7,896.6L653.4,893.4" fill="none" stroke="#141414" stroke-width="1.25"/>
<path d="M720.1,875.9L723.7,872.7" fill="none" stroke="#141414" stroke-width="1.25"/>
<path d="M649.7,896.6L720.1,875.9" fill="none" stroke="#141414" stroke-width="1.25"/>
<path d="M653.4,893.4L723.7,872.7" fill="none" stroke="#141414" stroke-width="1.25"/>
<path d="M405.4,34L397.1,33 467.4,12.3 475.7,13.4Z" fill="#fff"/>
<path d="M405.4,34L397.1,33" fill="none" stroke="#141414" stroke-width="1.25"/>
<path d="M475.7,13.4L467.4,12.3" fill="none" stroke="#141414" stroke-width="1.25"/>
<path d="M405.4,34L475.7,13.4" fill="none" stroke="#141414" stroke-width="1.25"/>
<path d="M397.1,33L467.4,12.3" fill="none" stroke="#141414" stroke-width="1.25"/>
<path d="M414.1,65L412.9,58.3 411.4,51.2 409.9,45.1 408.4,39.8 407,36.4 405.4,34 475.7,13.4 477.4,15.7 478.8,19.2 480.3,24.4 481.8,30.6 483.3,37.6 484.5,44.3Z" fill="#fff"/>
<path d="M414.1,65L412.9,58.3 411.4,51.2 409.9,45.1 408.4,39.8 407,36.4 405.4,34" fill="none" stroke="#141414" stroke-width="1.25"/>
<path d="M484.5,44.3L483.3,37.6 481.8,30.6 480.3,24.4 478.8,19.2 477.4,15.7 475.7,13.4" fill="none" stroke="#141414" stroke-width="1.25"/>
<path d="M414.1,65L484.5,44.3" fill="none" stroke="#141414" stroke-width="1.25"/>
<path d="M405.4,34L475.7,13.4" fill="none" stroke="#141414" stroke-width="1.25"/>
<path d="M418.9,65.8L414.1,65 484.5,44.3 489.3,45.2Z" fill="#fff"/>
<path d="M418.9,65.8L414.1,65" fill="none" stroke="#141414" stroke-width="1.25"/>
<path d="M489.3,45.2L484.5,44.3" fill="none" stroke="#141414" stroke-width="1.25"/>
<path d="M418.9,65.8L489.3,45.2" fill="none" stroke="#141414" stroke-width="1.25"/>
<path d="M414.1,65L484.5,44.3" fill="none" stroke="#141414" stroke-width="1.25"/>
<path d="M674.3,913.6L680.4,907.7 750.8,887.1 744.7,893Z" fill="#fff"/>
<path d="M674.3,913.6L680.4,907.7" fill="none" stroke="#141414" stroke-width="1.25"/>
<path d="M744.7,893L750.8,887.1" fill="none" stroke="#141414" stroke-width="1.25"/>
<path d="M674.3,913.6L744.7,893" fill="none" stroke="#141414" stroke-width="1.25"/>
<path d="M680.4,907.7L750.8,887.1" fill="none" stroke="#141414" stroke-width="1.25"/>
<path d="M680.4,907.7L680.5,904.8 679.6,901.2 677.8,896 675.5,890.1 672.7,883.6 669.9,877.4 740.3,856.7 743.1,862.9 745.9,869.5 748.2,875.4 749.9,880.6 750.8,884.2 750.8,887.1Z" fill="#fff"/>
<path d="M680.4,907.7L680.5,904.8 679.6,901.2 677.8,896 675.5,890.1 672.7,883.6 669.9,877.4" fill="none" stroke="#141414" stroke-width="1.25"/>
<path d="M750.8,887.1L750.8,884.2 749.9,880.6 748.2,875.4 745.9,869.5 743.1,862.9 740.3,856.7" fill="none" stroke="#141414" stroke-width="1.25"/>
<path d="M680.4,907.7L750.8,887.1" fill="none" stroke="#141414" stroke-width="1.25"/>
<path d="M669.9,877.4L740.3,856.7" fill="none" stroke="#141414" stroke-width="1.25"/>
<path d="M669.9,877.4L673.3,873.8 743.7,853.1 740.3,856.7Z" fill="#fff"/>
<path d="M669.9,877.4L673.3,873.8" fill="none" stroke="#141414" stroke-width="1.25"/>
<path d="M740.3,856.7L743.7,853.1" fill="none" stroke="#141414" stroke-width="1.25"/>
<path d="M669.9,877.4L740.3,856.7" fill="none" stroke="#141414" stroke-width="1.25"/>
<path d="M673.3,873.8L743.7,853.1" fill="none" stroke="#141414" stroke-width="1.25"/>
<path d="M434.6,39.8L426.2,37.8 496.6,17.2 504.9,19.1Z" fill="#fff"/>
<path d="M434.6,39.8L426.2,37.8" fill="none" stroke="#141414" stroke-width="1.25"/>
<path d="M504.9,19.1L496.6,17.2" fill="none" stroke="#141414" stroke-width="1.25"/>
<path d="M434.6,39.8L504.9,19.1" fill="none" stroke="#141414" stroke-width="1.25"/>
<path d="M426.2,37.8L496.6,17.2" fill="none" stroke="#141414" stroke-width="1.25"/>
<path d="M441.5,71.1L440.7,64.4 439.6,57.3 438.5,51.1 437.3,45.8 436.1,42.2 434.6,39.8 504.9,19.1 506.5,21.6 507.6,25.1 508.9,30.5 510,36.7 511,43.7 511.9,50.5Z" fill="#fff"/>
<path d="M441.5,71.1L440.7,64.4 439.6,57.3 438.5,51.1 437.3,45.8 436.1,42.2 434.6,39.8" fill="none" stroke="#141414" stroke-width="1.25"/>
<path d="M511.9,50.5L511,43.7 510,36.7 508.9,30.5 507.6,25.1 506.5,21.6 504.9,19.1" fill="none" stroke="#141414" stroke-width="1.25"/>
<path d="M441.5,71.1L511.9,50.5" fill="none" stroke="#141414" stroke-width="1.25"/>
<path d="M434.6,39.8L504.9,19.1" fill="none" stroke="#141414" stroke-width="1.25"/>
<path d="M446.3,72.5L441.5,71.1 511.9,50.5 516.7,51.8Z" fill="#fff"/>
<path d="M446.3,72.5L441.5,71.1" fill="none" stroke="#141414" stroke-width="1.25"/>
<path d="M516.7,51.8L511.9,50.5" fill="none" stroke="#141414" stroke-width="1.25"/>
<path d="M446.3,72.5L516.7,51.8" fill="none" stroke="#141414" stroke-width="1.25"/>
<path d="M441.5,71.1L511.9,50.5" fill="none" stroke="#141414" stroke-width="1.25"/>
<path d="M695.1,892L700.8,885.4 771.1,864.8 765.5,871.4Z" fill="#fff"/>
<path d="M695.1,892L700.8,885.4" fill="none" stroke="#141414" stroke-width="1.25"/>
<path d="M765.5,871.4L771.1,864.8" fill="none" stroke="#141414" stroke-width="1.25"/>
<path d="M695.1,892L765.5,871.4" fill="none" stroke="#141414" stroke-width="1.25"/>
<path d="M700.8,885.4L771.1,864.8" fill="none" stroke="#141414" stroke-width="1.25"/>
<path d="M688.6,855.9L691.7,851.8 762,831.2 758.9,835.2Z" fill="#fff"/>
<path d="M688.6,855.9L691.7,851.8" fill="none" stroke="#141414" stroke-width="1.25"/>
<path d="M758.9,835.2L762,831.2" fill="none" stroke="#141414" stroke-width="1.25"/>
<path d="M688.6,855.9L758.9,835.2" fill="none" stroke="#141414" stroke-width="1.25"/>
<path d="M691.7,851.8L762,831.2" fill="none" stroke="#141414" stroke-width="1.25"/>
<path d="M700.8,885.4L700.6,882.5 699.6,878.9 697.5,873.8 694.9,868.1 691.7,861.8 688.6,855.9 758.9,835.2 762.1,841.1 765.3,847.5 767.9,853.2 769.9,858.3 771,861.8 771.1,864.8Z" fill="#fff"/>
<path d="M700.8,885.4L700.6,882.5 699.6,878.9 697.5,873.8 694.9,868.1 691.7,861.8 688.6,855.9" fill="none" stroke="#141414" stroke-width="1.25"/>
<path d="M771.1,864.8L771,861.8 769.9,858.3 767.9,853.2 765.3,847.5 762.1,841.1 758.9,835.2" fill="none" stroke="#141414" stroke-width="1.25"/>
<path d="M700.8,885.4L771.1,864.8" fill="none" stroke="#141414" stroke-width="1.25"/>
<path d="M688.6,855.9L758.9,835.2" fill="none" stroke="#141414" stroke-width="1.25"/>
<path d="M463.7,48.5L455.4,45.7 525.8,25.1 534.1,27.9Z" fill="#fff"/>
<path d="M463.7,48.5L455.4,45.7" fill="none" stroke="#141414" stroke-width="1.25"/>
<path d="M534.1,27.9L525.8,25.1" fill="none" stroke="#141414" stroke-width="1.25"/>
<path d="M463.7,48.5L534.1,27.9" fill="none" stroke="#141414" stroke-width="1.25"/>
<path d="M455.4,45.7L525.8,25.1" fill="none" stroke="#141414" stroke-width="1.25"/>
<path d="M473.6,81.9L468.8,80 539.2,59.4 543.9,61.2Z" fill="#fff"/>
<path d="M473.6,81.9L468.8,80" fill="none" stroke="#141414" stroke-width="1.25"/>
<path d="M543.9,61.2L539.2,59.4" fill="none" stroke="#141414" stroke-width="1.25"/>
<path d="M473.6,81.9L543.9,61.2" fill="none" stroke="#141414" stroke-width="1.25"/>
<path d="M468.8,80L539.2,59.4" fill="none" stroke="#141414" stroke-width="1.25"/>
<path d="M468.8,80L468.4,73.3 467.7,66.3 467,60.1 466.1,54.7 465.1,51.1 463.7,48.5 534.1,27.9 535.5,30.4 536.4,34 537.4,39.4 538.1,45.6 538.7,52.7 539.2,59.4Z" fill="#fff"/>
<path d="M468.8,80L468.4,73.3 467.7,66.3 467,60.1 466.1,54.7 465.1,51.1 463.7,48.5" fill="none" stroke="#141414" stroke-width="1.25"/>
<path d="M539.2,59.4L538.7,52.7 538.1,45.6 537.4,39.4 536.4,34 535.5,30.4 534.1,27.9" fill="none" stroke="#141414" stroke-width="1.25"/>
<path d="M468.8,80L539.2,59.4" fill="none" stroke="#141414" stroke-width="1.25"/>
<path d="M463.7,48.5L534.1,27.9" fill="none" stroke="#141414" stroke-width="1.25"/>
<path d="M714.3,868L719.4,860.7 789.8,840.1 784.7,847.3Z" fill="#fff"/>
<path d="M714.3,868L719.4,860.7" fill="none" stroke="#141414" stroke-width="1.25"/>
<path d="M784.7,847.3L789.8,840.1" fill="none" stroke="#141414" stroke-width="1.25"/>
<path d="M714.3,868L784.7,847.3" fill="none" stroke="#141414" stroke-width="1.25"/>
<path d="M719.4,860.7L789.8,840.1" fill="none" stroke="#141414" stroke-width="1.25"/>
<path d="M705.6,832.1L708.4,827.8 778.8,807.1 775.9,811.5Z" fill="#fff"/>
<path d="M705.6,832.1L708.4,827.8" fill="none" stroke="#141414" stroke-width="1.25"/>
<path d="M775.9,811.5L778.8,807.1" fill="none" stroke="#141414" stroke-width="1.25"/>
<path d="M705.6,832.1L775.9,811.5" fill="none" stroke="#141414" stroke-width="1.25"/>
<path d="M708.4,827.8L778.8,807.1" fill="none" stroke="#141414" stroke-width="1.25"/>
<path d="M719.4,860.7L719.1,857.8 717.8,854.3 715.5,849.4 712.6,843.9 709.1,837.8 705.6,832.1 775.9,811.5 779.4,817.2 782.9,823.2 785.9,828.7 788.2,833.6 789.5,837.1 789.8,840.1Z" fill="#fff"/>
<path d="M719.4,860.7L719.1,857.8 717.8,854.3 715.5,849.4 712.6,843.9 709.1,837.8 705.6,832.1" fill="none" stroke="#141414" stroke-width="1.25"/>
<path d="M789.8,840.1L789.5,837.1 788.2,833.6 785.9,828.7 782.9,823.2 779.4,817.2 775.9,811.5" fill="none" stroke="#141414" stroke-width="1.25"/>
<path d="M719.4,860.7L789.8,840.1" fill="none" stroke="#141414" stroke-width="1.25"/>
<path d="M705.6,832.1L775.9,811.5" fill="none" stroke="#141414" stroke-width="1.25"/>
<path d="M500.5,94L495.8,91.6 566.2,71 570.9,73.3Z" fill="#fff"/>
<path d="M500.5,94L495.8,91.6" fill="none" stroke="#141414" stroke-width="1.25"/>
<path d="M570.9,73.3L566.2,71" fill="none" stroke="#141414" stroke-width="1.25"/>
<path d="M500.5,94L570.9,73.3" fill="none" stroke="#141414" stroke-width="1.25"/>
<path d="M495.8,91.6L566.2,71" fill="none" stroke="#141414" stroke-width="1.25"/>
<path d="M492.6,60.1L484.4,56.5 554.8,35.9 563,39.5Z" fill="#fff"/>
<path d="M492.6,60.1L484.4,56.5" fill="none" stroke="#141414" stroke-width="1.25"/>
<path d="M563,39.5L554.8,35.9" fill="none" stroke="#141414" stroke-width="1.25"/>
<path d="M492.6,60.1L563,39.5" fill="none" stroke="#141414" stroke-width="1.25"/>
<path d="M484.4,56.5L554.8,35.9" fill="none" stroke="#141414" stroke-width="1.25"/>
<path d="M495.8,91.6L495.8,85 495.6,78 495.2,71.8 494.6,66.5 493.9,62.8 492.6,60.1 563,39.5 564.3,42.2 565,45.8 565.6,51.2 566,57.4 566.2,64.4 566.2,71Z" fill="#fff"/>
<path d="M495.8,91.6L495.8,85 495.6,78 495.2,71.8 494.6,66.5 493.9,62.8 492.6,60.1" fill="none" stroke="#141414" stroke-width="1.25"/>
<path d="M566.2,71L566.2,64.4 566,57.4 565.6,51.2 565,45.8 564.3,42.2 563,39.5" fill="none" stroke="#141414" stroke-width="1.25"/>
<path d="M495.8,91.6L566.2,71" fill="none" stroke="#141414" stroke-width="1.25"/>
<path d="M492.6,60.1L563,39.5" fill="none" stroke="#141414" stroke-width="1.25"/>
<path d="M720.8,806.4L723.3,801.7 793.7,781 791.2,785.7Z" fill="#fff"/>
<path d="M720.8,806.4L723.3,801.7" fill="none" stroke="#141414" stroke-width="1.25"/>
<path d="M791.2,785.7L793.7,781" fill="none" stroke="#141414" stroke-width="1.25"/>
<path d="M720.8,806.4L791.2,785.7" fill="none" stroke="#141414" stroke-width="1.25"/>
<path d="M723.3,801.7L793.7,781" fill="none" stroke="#141414" stroke-width="1.25"/>
<path d="M731.6,841.7L736.2,833.8 806.6,813.2 802,821.1Z" fill="#fff"/>
<path d="M731.6,841.7L736.2,833.8" fill="none" stroke="#141414" stroke-width="1.25"/>
<path d="M802,821.1L806.6,813.2" fill="none" stroke="#141414" stroke-width="1.25"/>
<path d="M731.6,841.7L802,821.1" fill="none" stroke="#141414" stroke-width="1.25"/>
<path d="M736.2,833.8L806.6,813.2" fill="none" stroke="#141414" stroke-width="1.25"/>
<path d="M736.2,833.8L735.7,830.9 734.2,827.5 731.7,822.8 728.4,817.5 724.6,811.8 720.8,806.4 791.2,785.7 795,791.1 798.8,796.9 802,802.1 804.6,806.8 806.1,810.2 806.6,813.2Z" fill="#fff"/>
<path d="M736.2,833.8L735.7,830.9 734.2,827.5 731.7,822.8 728.4,817.5 724.6,811.8 720.8,806.4" fill="none" stroke="#141414" stroke-width="1.25"/>
<path d="M806.6,813.2L806.1,810.2 804.6,806.8 802,802.1 798.8,796.9 795,791.1 791.2,785.7" fill="none" stroke="#141414" stroke-width="1.25"/>
<path d="M736.2,833.8L806.6,813.2" fill="none" stroke="#141414" stroke-width="1.25"/>
<path d="M720.8,806.4L791.2,785.7" fill="none" stroke="#141414" stroke-width="1.25"/>
<path d="M527,108.7L522.4,105.9 592.8,85.3 597.4,88Z" fill="#fff"/>
<path d="M527,108.7L522.4,105.9" fill="none" stroke="#141414" stroke-width="1.25"/>
<path d="M597.4,88L592.8,85.3" fill="none" stroke="#141414" stroke-width="1.25"/>
<path d="M527,108.7L597.4,88" fill="none" stroke="#141414" stroke-width="1.25"/>
<path d="M522.4,105.9L592.8,85.3" fill="none" stroke="#141414" stroke-width="1.25"/>
<path d="M521.1,74.6L513.1,70.2 583.4,49.5 591.5,54Z" fill="#fff"/>
<path d="M521.1,74.6L513.1,70.2" fill="none" stroke="#141414" stroke-width="1.25"/>
<path d="M591.5,54L583.4,49.5" fill="none" stroke="#141414" stroke-width="1.25"/>
<path d="M521.1,74.6L591.5,54" fill="none" stroke="#141414" stroke-width="1.25"/>
<path d="M513.1,70.2L583.4,49.5" fill="none" stroke="#141414" stroke-width="1.25"/>
<path d="M522.4,105.9L522.8,99.4 523.1,92.5 523.1,86.4 522.8,81 522.3,77.4 521.1,74.6 591.5,54 592.6,56.7 593.1,60.4 593.4,65.7 593.4,71.8 593.2,78.7 592.8,85.3Z" fill="#fff"/>
<path d="M522.4,105.9L522.8,99.4 523.1,92.5 523.1,86.4 522.8,81 522.3,77.4 521.1,74.6" fill="none" stroke="#141414" stroke-width="1.25"/>
<path d="M592.8,85.3L593.2,78.7 593.4,71.8 593.4,65.7 593.1,60.4 592.6,56.7 591.5,54" fill="none" stroke="#141414" stroke-width="1.25"/>
<path d="M522.4,105.9L592.8,85.3" fill="none" stroke="#141414" stroke-width="1.25"/>
<path d="M521.1,74.6L591.5,54" fill="none" stroke="#141414" stroke-width="1.25"/>
<path d="M734.2,778.8L736.4,773.7 806.8,753.1 804.6,758.1Z" fill="#fff"/>
<path d="M734.2,778.8L736.4,773.7" fill="none" stroke="#141414" stroke-width="1.25"/>
<path d="M804.6,758.1L806.8,753.1" fill="none" stroke="#141414" stroke-width="1.25"/>
<path d="M734.2,778.8L804.6,758.1" fill="none" stroke="#141414" stroke-width="1.25"/>
<path d="M736.4,773.7L806.8,753.1" fill="none" stroke="#141414" stroke-width="1.25"/>
<path d="M747,813.3L751.1,804.9 821.4,784.2 817.4,792.7Z" fill="#fff"/>
<path d="M747,813.3L751.1,804.9" fill="none" stroke="#141414" stroke-width="1.25"/>
<path d="M817.4,792.7L821.4,784.2" fill="none" stroke="#141414" stroke-width="1.25"/>
<path d="M747,813.3L817.4,792.7" fill="none" stroke="#141414" stroke-width="1.25"/>
<path d="M751.1,804.9L821.4,784.2" fill="none" stroke="#141414" stroke-width="1.25"/>
<path d="M751.1,804.9L750.4,801.9 748.7,798.7 745.9,794.2 742.4,789.2 738.3,783.8 734.2,778.8 804.6,758.1 808.6,763.1 812.8,768.6 816.3,773.5 819.1,778 820.8,781.3 821.4,784.2Z" fill="#fff"/>
<path d="M751.1,804.9L750.4,801.9 748.7,798.7 745.9,794.2 742.4,789.2 738.3,783.8 734.2,778.8" fill="none" stroke="#141414" stroke-width="1.25"/>
<path d="M821.4,784.2L820.8,781.3 819.1,778 816.3,773.5 812.8,768.6 808.6,763.1 804.6,758.1" fill="none" stroke="#141414" stroke-width="1.25"/>
<path d="M751.1,804.9L821.4,784.2" fill="none" stroke="#141414" stroke-width="1.25"/>
<path d="M734.2,778.8L804.6,758.1" fill="none" stroke="#141414" stroke-width="1.25"/>
<path d="M552.9,125.9L548.4,122.7 618.8,102.1 623.3,105.3Z" fill="#fff"/>
<path d="M552.9,125.9L548.4,122.7" fill="none" stroke="#141414" stroke-width="1.25"/>
<path d="M623.3,105.3L618.8,102.1" fill="none" stroke="#141414" stroke-width="1.25"/>
<path d="M552.9,125.9L623.3,105.3" fill="none" stroke="#141414" stroke-width="1.25"/>
<path d="M548.4,122.7L618.8,102.1" fill="none" stroke="#141414" stroke-width="1.25"/>
<path d="M548.4,122.7L549.2,116.4 549.9,109.6 550.3,103.6 550.3,98.3 550,94.7 549.1,91.8 619.4,71.2 620.4,74 620.7,77.7 620.6,82.9 620.2,89 619.6,95.7 618.8,102.1Z" fill="#fff"/>
<path d="M548.4,122.7L549.2,116.4 549.9,109.6 550.3,103.6 550.3,98.3 550,94.7 549.1,91.8" fill="none" stroke="#141414" stroke-width="1.25"/>
<path d="M618.8,102.1L619.6,95.7 620.2,89 620.6,82.9 620.7,77.7 620.4,74 619.4,71.2" fill="none" stroke="#141414" stroke-width="1.25"/>
<path d="M548.4,122.7L618.8,102.1" fill="none" stroke="#141414" stroke-width="1.25"/>
<path d="M549.1,91.8L619.4,71.2" fill="none" stroke="#141414" stroke-width="1.25"/>
<path d="M549.1,91.8L541.2,86.6 611.5,66 619.4,71.2Z" fill="#fff"/>
<path d="M549.1,91.8L541.2,86.6" fill="none" stroke="#141414" stroke-width="1.25"/>
<path d="M619.4,71.2L611.5,66" fill="none" stroke="#141414" stroke-width="1.25"/>
<path d="M549.1,91.8L619.4,71.2" fill="none" stroke="#141414" stroke-width="1.25"/>
<path d="M541.2,86.6L611.5,66" fill="none" stroke="#141414" stroke-width="1.25"/>
<path d="M745.7,749.4L747.5,744.1 817.9,723.5 816.1,728.8Z" fill="#fff"/>
<path d="M745.7,749.4L747.5,744.1" fill="none" stroke="#141414" stroke-width="1.25"/>
<path d="M816.1,728.8L817.9,723.5" fill="none" stroke="#141414" stroke-width="1.25"/>
<path d="M745.7,749.4L816.1,728.8" fill="none" stroke="#141414" stroke-width="1.25"/>
<path d="M747.5,744.1L817.9,723.5" fill="none" stroke="#141414" stroke-width="1.25"/>
<path d="M763.8,774L763,771.2 761.2,768 758.1,763.8 754.4,759.1 750,754.1 745.7,749.4 816.1,728.8 820.3,733.4 824.7,738.5 828.5,743.1 831.5,747.4 833.4,750.5 834.2,753.4Z" fill="#fff"/>
<path d="M763.8,774L763,771.2 761.2,768 758.1,763.8 754.4,759.1 750,754.1 745.7,749.4" fill="none" stroke="#141414" stroke-width="1.25"/>
<path d="M834.2,753.4L833.4,750.5 831.5,747.4 828.5,743.1 824.7,738.5 820.3,733.4 816.1,728.8" fill="none" stroke="#141414" stroke-width="1.25"/>
<path d="M763.8,774L834.2,753.4" fill="none" stroke="#141414" stroke-width="1.25"/>
<path d="M745.7,749.4L816.1,728.8" fill="none" stroke="#141414" stroke-width="1.25"/>
<path d="M578,145.6L573.6,142 644,121.3 648.3,125Z" fill="#fff"/>
<path d="M578,145.6L573.6,142" fill="none" stroke="#141414" stroke-width="1.25"/>
<path d="M648.3,125L644,121.3" fill="none" stroke="#141414" stroke-width="1.25"/>
<path d="M578,145.6L648.3,125" fill="none" stroke="#141414" stroke-width="1.25"/>
<path d="M573.6,142L644,121.3" fill="none" stroke="#141414" stroke-width="1.25"/>
<path d="M760.4,783L763.8,774 834.2,753.4 830.8,762.4Z" fill="#fff"/>
<path d="M760.4,783L763.8,774" fill="none" stroke="#141414" stroke-width="1.25"/>
<path d="M830.8,762.4L834.2,753.4" fill="none" stroke="#141414" stroke-width="1.25"/>
<path d="M760.4,783L830.8,762.4" fill="none" stroke="#141414" stroke-width="1.25"/>
<path d="M763.8,774L834.2,753.4" fill="none" stroke="#141414" stroke-width="1.25"/>
<path d="M573.6,142L574.8,135.8 575.9,129.3 576.7,123.4 577.1,118.2 577,114.6 576.2,111.7 646.6,91 647.4,93.9 647.4,97.5 647.1,102.7 646.3,108.6 645.2,115.2 644,121.3Z" fill="#fff"/>
<path d="M573.6,142L574.8,135.8 575.9,129.3 576.7,123.4 577.1,118.2 577,114.6 576.2,111.7" fill="none" stroke="#141414" stroke-width="1.25"/>
<path d="M644,121.3L645.2,115.2 646.3,108.6 647.1,102.7 647.4,97.5 647.4,93.9 646.6,91" fill="none" stroke="#141414" stroke-width="1.25"/>
<path d="M573.6,142L644,121.3" fill="none" stroke="#141414" stroke-width="1.25"/>
<path d="M576.2,111.7L646.6,91" fill="none" stroke="#141414" stroke-width="1.25"/>
<path d="M576.2,111.7L568.6,105.8 638.9,85.1 646.6,91Z" fill="#fff"/>
<path d="M576.2,111.7L568.6,105.8" fill="none" stroke="#141414" stroke-width="1.25"/>
<path d="M646.6,91L638.9,85.1" fill="none" stroke="#141414" stroke-width="1.25"/>
<path d="M576.2,111.7L646.6,91" fill="none" stroke="#141414" stroke-width="1.25"/>
<path d="M568.6,105.8L638.9,85.1" fill="none" stroke="#141414" stroke-width="1.25"/>
<path d="M755.2,718.6L756.6,713 827,692.4 825.5,697.9Z" fill="#fff"/>
<path d="M755.2,718.6L756.6,713" fill="none" stroke="#141414" stroke-width="1.25"/>
<path d="M825.5,697.9L827,692.4" fill="none" stroke="#141414" stroke-width="1.25"/>
<path d="M755.2,718.6L825.5,697.9" fill="none" stroke="#141414" stroke-width="1.25"/>
<path d="M756.6,713L827,692.4" fill="none" stroke="#141414" stroke-width="1.25"/>
<path d="M769.6,751.7L771.7,751 842.1,730.3 840,731.1Z" fill="#fff"/>
<path d="M769.6,751.7L771.7,751" fill="none" stroke="#141414" stroke-width="1.25"/>
<path d="M840,731.1L842.1,730.3" fill="none" stroke="#141414" stroke-width="1.25"/>
<path d="M769.6,751.7L840,731.1" fill="none" stroke="#141414" stroke-width="1.25"/>
<path d="M771.7,751L842.1,730.3" fill="none" stroke="#141414" stroke-width="1.25"/>
<path d="M602.1,167.6L597.9,163.6 668.3,142.9 672.5,146.9Z" fill="#fff"/>
<path d="M602.1,167.6L597.9,163.6" fill="none" stroke="#141414" stroke-width="1.25"/>
<path d="M672.5,146.9L668.3,142.9" fill="none" stroke="#141414" stroke-width="1.25"/>
<path d="M602.1,167.6L672.5,146.9" fill="none" stroke="#141414" stroke-width="1.25"/>
<path d="M597.9,163.6L668.3,142.9" fill="none" stroke="#141414" stroke-width="1.25"/>
<path d="M774.5,741.6L773.5,738.7 771.5,735.8 768.2,731.8 764.3,727.5 759.7,722.8 755.2,718.6 825.5,697.9 830,702.2 834.7,706.8 838.6,711.1 841.9,715.1 843.9,718.1 844.9,720.9Z" fill="#fff"/>
<path d="M774.5,741.6L773.5,738.7 771.5,735.8 768.2,731.8 764.3,727.5 759.7,722.8 755.2,718.6" fill="none" stroke="#141414" stroke-width="1.25"/>
<path d="M844.9,720.9L843.9,718.1 841.9,715.1 838.6,711.1 834.7,706.8 830,702.2 825.5,697.9" fill="none" stroke="#141414" stroke-width="1.25"/>
<path d="M774.5,741.6L844.9,720.9" fill="none" stroke="#141414" stroke-width="1.25"/>
<path d="M755.2,718.6L825.5,697.9" fill="none" stroke="#141414" stroke-width="1.25"/>
<path d="M771.7,751L774.5,741.6 844.9,720.9 842.1,730.3Z" fill="#fff"/>
<path d="M771.7,751L774.5,741.6" fill="none" stroke="#141414" stroke-width="1.25"/>
<path d="M842.1,730.3L844.9,720.9" fill="none" stroke="#141414" stroke-width="1.25"/>
<path d="M771.7,751L842.1,730.3" fill="none" stroke="#141414" stroke-width="1.25"/>
<path d="M774.5,741.6L844.9,720.9" fill="none" stroke="#141414" stroke-width="1.25"/>
<path d="M595.1,127.4L592.9,127.8 663.3,107.2 665.4,106.8Z" fill="#fff"/>
<path d="M595.1,127.4L592.9,127.8" fill="none" stroke="#141414" stroke-width="1.25"/>
<path d="M665.4,106.8L663.3,107.2" fill="none" stroke="#141414" stroke-width="1.25"/>
<path d="M595.1,127.4L665.4,106.8" fill="none" stroke="#141414" stroke-width="1.25"/>
<path d="M592.9,127.8L663.3,107.2" fill="none" stroke="#141414" stroke-width="1.25"/>
<path d="M597.9,163.6L599.5,157.6 601.1,151.3 602.2,145.6 602.9,140.5 603.1,137 602.4,134.1 672.8,113.4 673.4,116.3 673.3,119.9 672.6,125 671.4,130.6 669.9,137 668.3,142.9Z" fill="#fff"/>
<path d="M597.9,163.6L599.5,157.6 601.1,151.3 602.2,145.6 602.9,140.5 603.1,137 602.4,134.1" fill="none" stroke="#141414" stroke-width="1.25"/>
<path d="M668.3,142.9L669.9,137 671.4,130.6 672.6,125 673.3,119.9 673.4,116.3 672.8,113.4" fill="none" stroke="#141414" stroke-width="1.25"/>
<path d="M597.9,163.6L668.3,142.9" fill="none" stroke="#141414" stroke-width="1.25"/>
<path d="M602.4,134.1L672.8,113.4" fill="none" stroke="#141414" stroke-width="1.25"/>
<path d="M602.4,134.1L595.1,127.4 665.4,106.8 672.8,113.4Z" fill="#fff"/>
<path d="M602.4,134.1L595.1,127.4" fill="none" stroke="#141414" stroke-width="1.25"/>
<path d="M672.8,113.4L665.4,106.8" fill="none" stroke="#141414" stroke-width="1.25"/>
<path d="M602.4,134.1L672.8,113.4" fill="none" stroke="#141414" stroke-width="1.25"/>
<path d="M595.1,127.4L665.4,106.8" fill="none" stroke="#141414" stroke-width="1.25"/>
<path d="M762.5,686.4L763.6,680.6 834,660 832.9,665.7Z" fill="#fff"/>
<path d="M762.5,686.4L763.6,680.6" fill="none" stroke="#141414" stroke-width="1.25"/>
<path d="M832.9,665.7L834,660" fill="none" stroke="#141414" stroke-width="1.25"/>
<path d="M762.5,686.4L832.9,665.7" fill="none" stroke="#141414" stroke-width="1.25"/>
<path d="M763.6,680.6L834,660" fill="none" stroke="#141414" stroke-width="1.25"/>
<path d="M625.1,191.7L621.2,187.3 691.5,166.7 695.5,171.1Z" fill="#fff"/>
<path d="M625.1,191.7L621.2,187.3" fill="none" stroke="#141414" stroke-width="1.25"/>
<path d="M695.5,171.1L691.5,166.7" fill="none" stroke="#141414" stroke-width="1.25"/>
<path d="M625.1,191.7L695.5,171.1" fill="none" stroke="#141414" stroke-width="1.25"/>
<path d="M621.2,187.3L691.5,166.7" fill="none" stroke="#141414" stroke-width="1.25"/>
<path d="M778.8,718.4L780.8,717.4 851.2,696.8 849.2,697.7Z" fill="#fff"/>
<path d="M778.8,718.4L780.8,717.4" fill="none" stroke="#141414" stroke-width="1.25"/>
<path d="M849.2,697.7L851.2,696.8" fill="none" stroke="#141414" stroke-width="1.25"/>
<path d="M778.8,718.4L849.2,697.7" fill="none" stroke="#141414" stroke-width="1.25"/>
<path d="M780.8,717.4L851.2,696.8" fill="none" stroke="#141414" stroke-width="1.25"/>
<path d="M783,707.6L781.8,704.8 779.7,702.1 776.2,698.4 772.1,694.5 767.2,690.2 762.5,686.4 832.9,665.7 837.6,669.6 842.4,673.8 846.6,677.7 850,681.4 852.2,684.2 853.4,686.9Z" fill="#fff"/>
<path d="M783,707.6L781.8,704.8 779.7,702.1 776.2,698.4 772.1,694.5 767.2,690.2 762.5,686.4" fill="none" stroke="#141414" stroke-width="1.25"/>
<path d="M853.4,686.9L852.2,684.2 850,681.4 846.6,677.7 842.4,673.8 837.6,669.6 832.9,665.7" fill="none" stroke="#141414" stroke-width="1.25"/>
<path d="M783,707.6L853.4,686.9" fill="none" stroke="#141414" stroke-width="1.25"/>
<path d="M762.5,686.4L832.9,665.7" fill="none" stroke="#141414" stroke-width="1.25"/>
<path d="M780.8,717.4L783,707.6 853.4,686.9 851.2,696.8Z" fill="#fff"/>
<path d="M780.8,717.4L783,707.6" fill="none" stroke="#141414" stroke-width="1.25"/>
<path d="M851.2,696.8L853.4,686.9" fill="none" stroke="#141414" stroke-width="1.25"/>
<path d="M780.8,717.4L851.2,696.8" fill="none" stroke="#141414" stroke-width="1.25"/>
<path d="M783,707.6L853.4,686.9" fill="none" stroke="#141414" stroke-width="1.25"/>
<path d="M620.5,151.5L618.3,151.7 688.7,131 690.9,130.9Z" fill="#fff"/>
<path d="M620.5,151.5L618.3,151.7" fill="none" stroke="#141414" stroke-width="1.25"/>
<path d="M690.9,130.9L688.7,131" fill="none" stroke="#141414" stroke-width="1.25"/>
<path d="M620.5,151.5L690.9,130.9" fill="none" stroke="#141414" stroke-width="1.25"/>
<path d="M618.3,151.7L688.7,131" fill="none" stroke="#141414" stroke-width="1.25"/>
<path d="M621.2,187.3L623.2,181.7 625.1,175.6 626.6,170.1 627.6,165.2 628,161.7 627.5,158.8 697.9,138.1 698.4,141.1 698,144.6 696.9,149.5 695.5,155 693.5,161 691.5,166.7Z" fill="#fff"/>
<path d="M621.2,187.3L623.2,181.7 625.1,175.6 626.6,170.1 627.6,165.2 628,161.7 627.5,158.8" fill="none" stroke="#141414" stroke-width="1.25"/>
<path d="M691.5,166.7L693.5,161 695.5,155 696.9,149.5 698,144.6 698.4,141.1 697.9,138.1" fill="none" stroke="#141414" stroke-width="1.25"/>
<path d="M621.2,187.3L691.5,166.7" fill="none" stroke="#141414" stroke-width="1.25"/>
<path d="M627.5,158.8L697.9,138.1" fill="none" stroke="#141414" stroke-width="1.25"/>
<path d="M767.8,653.1L768.5,647.2 838.9,626.5 838.2,632.5Z" fill="#fff"/>
<path d="M767.8,653.1L768.5,647.2" fill="none" stroke="#141414" stroke-width="1.25"/>
<path d="M838.2,632.5L838.9,626.5" fill="none" stroke="#141414" stroke-width="1.25"/>
<path d="M767.8,653.1L838.2,632.5" fill="none" stroke="#141414" stroke-width="1.25"/>
<path d="M768.5,647.2L838.9,626.5" fill="none" stroke="#141414" stroke-width="1.25"/>
<path d="M627.5,158.8L620.5,151.5 690.9,130.9 697.9,138.1Z" fill="#fff"/>
<path d="M627.5,158.8L620.5,151.5" fill="none" stroke="#141414" stroke-width="1.25"/>
<path d="M697.9,138.1L690.9,130.9" fill="none" stroke="#141414" stroke-width="1.25"/>
<path d="M627.5,158.8L697.9,138.1" fill="none" stroke="#141414" stroke-width="1.25"/>
<path d="M620.5,151.5L690.9,130.9" fill="none" stroke="#141414" stroke-width="1.25"/>
<path d="M646.9,217.9L643.2,213.2 713.5,192.5 717.3,197.2Z" fill="#fff"/>
<path d="M646.9,217.9L643.2,213.2" fill="none" stroke="#141414" stroke-width="1.25"/>
<path d="M717.3,197.2L713.5,192.5" fill="none" stroke="#141414" stroke-width="1.25"/>
<path d="M646.9,217.9L717.3,197.2" fill="none" stroke="#141414" stroke-width="1.25"/>
<path d="M643.2,213.2L713.5,192.5" fill="none" stroke="#141414" stroke-width="1.25"/>
<path d="M789.2,672.4L787.9,669.7 785.6,667.1 782,663.8 777.7,660.2 772.6,656.5 767.8,653.1 838.2,632.5 843,635.8 848,639.6 852.4,643.1 856,646.5 858.3,649.1 859.6,651.7Z" fill="#fff"/>
<path d="M789.2,672.4L787.9,669.7 785.6,667.1 782,663.8 777.7,660.2 772.6,656.5 767.8,653.1" fill="none" stroke="#141414" stroke-width="1.25"/>
<path d="M859.6,651.7L858.3,649.1 856,646.5 852.4,643.1 848,639.6 843,635.8 838.2,632.5" fill="none" stroke="#141414" stroke-width="1.25"/>
<path d="M789.2,672.4L859.6,651.7" fill="none" stroke="#141414" stroke-width="1.25"/>
<path d="M767.8,653.1L838.2,632.5" fill="none" stroke="#141414" stroke-width="1.25"/>
<path d="M785.8,683.7L787.7,682.5 858,661.9 856.1,663.1Z" fill="#fff"/>
<path d="M785.8,683.7L787.7,682.5" fill="none" stroke="#141414" stroke-width="1.25"/>
<path d="M856.1,663.1L858,661.9" fill="none" stroke="#141414" stroke-width="1.25"/>
<path d="M785.8,683.7L856.1,663.1" fill="none" stroke="#141414" stroke-width="1.25"/>
<path d="M787.7,682.5L858,661.9" fill="none" stroke="#141414" stroke-width="1.25"/>
<path d="M787.7,682.5L789.2,672.4 859.6,651.7 858,661.9Z" fill="#fff"/>
<path d="M787.7,682.5L789.2,672.4" fill="none" stroke="#141414" stroke-width="1.25"/>
<path d="M858,661.9L859.6,651.7" fill="none" stroke="#141414" stroke-width="1.25"/>
<path d="M787.7,682.5L858,661.9" fill="none" stroke="#141414" stroke-width="1.25"/>
<path d="M789.2,672.4L859.6,651.7" fill="none" stroke="#141414" stroke-width="1.25"/>
<path d="M770.9,618.9L771.2,612.8 841.6,592.2 841.3,598.2Z" fill="#fff"/>
<path d="M770.9,618.9L771.2,612.8" fill="none" stroke="#141414" stroke-width="1.25"/>
<path d="M841.3,598.2L841.6,592.2" fill="none" stroke="#141414" stroke-width="1.25"/>
<path d="M770.9,618.9L841.3,598.2" fill="none" stroke="#141414" stroke-width="1.25"/>
<path d="M771.2,612.8L841.6,592.2" fill="none" stroke="#141414" stroke-width="1.25"/>
<path d="M643.2,213.2L645.5,207.8 647.9,202 649.7,196.8 651.1,192.1 651.7,188.7 651.4,185.8 721.7,165.1 722,168.1 721.4,171.4 720.1,176.1 718.2,181.4 715.9,187.1 713.5,192.5Z" fill="#fff"/>
<path d="M643.2,213.2L645.5,207.8 647.9,202 649.7,196.8 651.1,192.1 651.7,188.7 651.4,185.8" fill="none" stroke="#141414" stroke-width="1.25"/>
<path d="M713.5,192.5L715.9,187.1 718.2,181.4 720.1,176.1 721.4,171.4 722,168.1 721.7,165.1" fill="none" stroke="#141414" stroke-width="1.25"/>
<path d="M643.2,213.2L713.5,192.5" fill="none" stroke="#141414" stroke-width="1.25"/>
<path d="M651.4,185.8L721.7,165.1" fill="none" stroke="#141414" stroke-width="1.25"/>
<path d="M644.7,177.8L642.5,177.8 712.8,157.2 715.1,157.2Z" fill="#fff"/>
<path d="M644.7,177.8L642.5,177.8" fill="none" stroke="#141414" stroke-width="1.25"/>
<path d="M715.1,157.2L712.8,157.2" fill="none" stroke="#141414" stroke-width="1.25"/>
<path d="M644.7,177.8L715.1,157.2" fill="none" stroke="#141414" stroke-width="1.25"/>
<path d="M642.5,177.8L712.8,157.2" fill="none" stroke="#141414" stroke-width="1.25"/>
<path d="M667.3,245.9L663.8,240.8 734.2,220.2 737.7,225.2Z" fill="#fff"/>
<path d="M667.3,245.9L663.8,240.8" fill="none" stroke="#141414" stroke-width="1.25"/>
<path d="M737.7,225.2L734.2,220.2" fill="none" stroke="#141414" stroke-width="1.25"/>
<path d="M667.3,245.9L737.7,225.2" fill="none" stroke="#141414" stroke-width="1.25"/>
<path d="M663.8,240.8L734.2,220.2" fill="none" stroke="#141414" stroke-width="1.25"/>
<path d="M651.4,185.8L644.7,177.8 715.1,157.2 721.7,165.1Z" fill="#fff"/>
<path d="M651.4,185.8L644.7,177.8" fill="none" stroke="#141414" stroke-width="1.25"/>
<path d="M721.7,165.1L715.1,157.2" fill="none" stroke="#141414" stroke-width="1.25"/>
<path d="M651.4,185.8L721.7,165.1" fill="none" stroke="#141414" stroke-width="1.25"/>
<path d="M644.7,177.8L715.1,157.2" fill="none" stroke="#141414" stroke-width="1.25"/>
<path d="M793.2,636.1L791.7,633.6 789.3,631.2 785.5,628.2 781.1,625.1 775.9,621.8 770.9,618.9 841.3,598.2 846.2,601.2 851.4,604.4 855.9,607.5 859.7,610.6 862.1,612.9 863.5,615.5Z" fill="#fff"/>
<path d="M793.2,636.1L791.7,633.6 789.3,631.2 785.5,628.2 781.1,625.1 775.9,621.8 770.9,618.9" fill="none" stroke="#141414" stroke-width="1.25"/>
<path d="M863.5,615.5L862.1,612.9 859.7,610.6 855.9,607.5 851.4,604.4 846.2,601.2 841.3,598.2" fill="none" stroke="#141414" stroke-width="1.25"/>
<path d="M793.2,636.1L863.5,615.5" fill="none" stroke="#141414" stroke-width="1.25"/>
<path d="M770.9,618.9L841.3,598.2" fill="none" stroke="#141414" stroke-width="1.25"/>
<path d="M771.9,584L771.8,577.8 842.2,557.2 842.2,563.4Z" fill="#fff"/>
<path d="M771.9,584L771.8,577.8" fill="none" stroke="#141414" stroke-width="1.25"/>
<path d="M842.2,563.4L842.2,557.2" fill="none" stroke="#141414" stroke-width="1.25"/>
<path d="M771.9,584L842.2,563.4" fill="none" stroke="#141414" stroke-width="1.25"/>
<path d="M771.8,577.8L842.2,557.2" fill="none" stroke="#141414" stroke-width="1.25"/>
<path d="M790.5,647.9L792.3,646.6 862.6,625.9 860.9,627.3Z" fill="#fff"/>
<path d="M790.5,647.9L792.3,646.6" fill="none" stroke="#141414" stroke-width="1.25"/>
<path d="M860.9,627.3L862.6,625.9" fill="none" stroke="#141414" stroke-width="1.25"/>
<path d="M790.5,647.9L860.9,627.3" fill="none" stroke="#141414" stroke-width="1.25"/>
<path d="M792.3,646.6L862.6,625.9" fill="none" stroke="#141414" stroke-width="1.25"/>
<path d="M663.8,240.8L666.5,235.8 669.2,230.4 671.4,225.4 673.1,220.9 673.9,217.7 673.8,214.8 744.2,194.1 744.3,197 743.5,200.3 741.8,204.8 739.6,209.7 736.9,215.2 734.2,220.2Z" fill="#fff"/>
<path d="M663.8,240.8L666.5,235.8 669.2,230.4 671.4,225.4 673.1,220.9 673.9,217.7 673.8,214.8" fill="none" stroke="#141414" stroke-width="1.25"/>
<path d="M734.2,220.2L736.9,215.2 739.6,209.7 741.8,204.8 743.5,200.3 744.3,197 744.2,194.1" fill="none" stroke="#141414" stroke-width="1.25"/>
<path d="M663.8,240.8L734.2,220.2" fill="none" stroke="#141414" stroke-width="1.25"/>
<path d="M673.8,214.8L744.2,194.1" fill="none" stroke="#141414" stroke-width="1.25"/>
<path d="M686.2,275.5L683,270.2 753.3,249.6 756.5,254.9Z" fill="#fff"/>
<path d="M686.2,275.5L683,270.2" fill="none" stroke="#141414" stroke-width="1.25"/>
<path d="M756.5,254.9L753.3,249.6" fill="none" stroke="#141414" stroke-width="1.25"/>
<path d="M686.2,275.5L756.5,254.9" fill="none" stroke="#141414" stroke-width="1.25"/>
<path d="M683,270.2L753.3,249.6" fill="none" stroke="#141414" stroke-width="1.25"/>
<path d="M792.3,646.6L793.2,636.1 863.5,615.5 862.6,625.9Z" fill="#fff"/>
<path d="M792.3,646.6L793.2,636.1" fill="none" stroke="#141414" stroke-width="1.25"/>
<path d="M862.6,625.9L863.5,615.5" fill="none" stroke="#141414" stroke-width="1.25"/>
<path d="M792.3,646.6L862.6,625.9" fill="none" stroke="#141414" stroke-width="1.25"/>
<path d="M793.2,636.1L863.5,615.5" fill="none" stroke="#141414" stroke-width="1.25"/>
<path d="M667.6,206.3L665.3,206 735.7,185.4 737.9,185.6Z" fill="#fff"/>
<path d="M667.6,206.3L665.3,206" fill="none" stroke="#141414" stroke-width="1.25"/>
<path d="M737.9,185.6L735.7,185.4" fill="none" stroke="#141414" stroke-width="1.25"/>
<path d="M667.6,206.3L737.9,185.6" fill="none" stroke="#141414" stroke-width="1.25"/>
<path d="M665.3,206L735.7,185.4" fill="none" stroke="#141414" stroke-width="1.25"/>
<path d="M673.8,214.8L667.6,206.3 737.9,185.6 744.2,194.1Z" fill="#fff"/>
<path d="M673.8,214.8L667.6,206.3" fill="none" stroke="#141414" stroke-width="1.25"/>
<path d="M744.2,194.1L737.9,185.6" fill="none" stroke="#141414" stroke-width="1.25"/>
<path d="M673.8,214.8L744.2,194.1" fill="none" stroke="#141414" stroke-width="1.25"/>
<path d="M667.6,206.3L737.9,185.6" fill="none" stroke="#141414" stroke-width="1.25"/>
<path d="M770.6,548.6L770.2,542.4 840.6,521.7 841,528Z" fill="#fff"/>
<path d="M770.6,548.6L770.2,542.4" fill="none" stroke="#141414" stroke-width="1.25"/>
<path d="M841,528L840.6,521.7" fill="none" stroke="#141414" stroke-width="1.25"/>
<path d="M770.6,548.6L841,528" fill="none" stroke="#141414" stroke-width="1.25"/>
<path d="M770.2,542.4L840.6,521.7" fill="none" stroke="#141414" stroke-width="1.25"/>
<path d="M794.8,599.1L793.2,596.7 790.7,594.5 786.8,591.9 782.2,589.2 776.9,586.4 771.9,584 842.2,563.4 847.3,565.8 852.6,568.5 857.2,571.2 861.1,573.9 863.6,576 865.2,578.4Z" fill="#fff"/>
<path d="M794.8,599.1L793.2,596.7 790.7,594.5 786.8,591.9 782.2,589.2 776.9,586.4 771.9,584" fill="none" stroke="#141414" stroke-width="1.25"/>
<path d="M865.2,578.4L863.6,576 861.1,573.9 857.2,571.2 852.6,568.5 847.3,565.8 842.2,563.4" fill="none" stroke="#141414" stroke-width="1.25"/>
<path d="M794.8,599.1L865.2,578.4" fill="none" stroke="#141414" stroke-width="1.25"/>
<path d="M771.9,584L842.2,563.4" fill="none" stroke="#141414" stroke-width="1.25"/>
<path d="M703.4,306.7L700.5,301.1 770.9,280.5 773.8,286Z" fill="#fff"/>
<path d="M703.4,306.7L700.5,301.1" fill="none" stroke="#141414" stroke-width="1.25"/>
<path d="M773.8,286L770.9,280.5" fill="none" stroke="#141414" stroke-width="1.25"/>
<path d="M703.4,306.7L773.8,286" fill="none" stroke="#141414" stroke-width="1.25"/>
<path d="M700.5,301.1L770.9,280.5" fill="none" stroke="#141414" stroke-width="1.25"/>
<path d="M790.3,612.1L792.9,611.3 794.6,609.7 864.9,589.1 863.3,590.7 860.7,591.5Z" fill="#fff"/>
<path d="M790.3,612.1L792.9,611.3 794.6,609.7" fill="none" stroke="#141414" stroke-width="1.25"/>
<path d="M860.7,591.5L863.3,590.7 864.9,589.1" fill="none" stroke="#141414" stroke-width="1.25"/>
<path d="M790.3,612.1L860.7,591.5" fill="none" stroke="#141414" stroke-width="1.25"/>
<path d="M794.6,609.7L864.9,589.1" fill="none" stroke="#141414" stroke-width="1.25"/>
<path d="M683,270.2L686,265.6 689.1,260.5 691.6,255.9 693.6,251.6 694.6,248.5 694.7,245.6 765,225 765,227.9 763.9,231 762,235.2 759.5,239.9 756.4,244.9 753.3,249.6Z" fill="#fff"/>
<path d="M683,270.2L686,265.6 689.1,260.5 691.6,255.9 693.6,251.6 694.6,248.5 694.7,245.6" fill="none" stroke="#141414" stroke-width="1.25"/>
<path d="M753.3,249.6L756.4,244.9 759.5,239.9 762,235.2 763.9,231 765,227.9 765,225" fill="none" stroke="#141414" stroke-width="1.25"/>
<path d="M683,270.2L753.3,249.6" fill="none" stroke="#141414" stroke-width="1.25"/>
<path d="M694.7,245.6L765,225" fill="none" stroke="#141414" stroke-width="1.25"/>
<path d="M688.9,236.7L686.6,236.1 684,236.8 754.3,216.1 757,215.5 759.3,216Z" fill="#fff"/>
<path d="M688.9,236.7L686.6,236.1 684,236.8" fill="none" stroke="#141414" stroke-width="1.25"/>
<path d="M759.3,216L757,215.5 754.3,216.1" fill="none" stroke="#141414" stroke-width="1.25"/>
<path d="M688.9,236.7L759.3,216" fill="none" stroke="#141414" stroke-width="1.25"/>
<path d="M684,236.8L754.3,216.1" fill="none" stroke="#141414" stroke-width="1.25"/>
<path d="M767.2,513L766.4,506.8 836.8,486.1 837.6,492.4Z" fill="#fff"/>
<path d="M767.2,513L766.4,506.8" fill="none" stroke="#141414" stroke-width="1.25"/>
<path d="M837.6,492.4L836.8,486.1" fill="none" stroke="#141414" stroke-width="1.25"/>
<path d="M767.2,513L837.6,492.4" fill="none" stroke="#141414" stroke-width="1.25"/>
<path d="M766.4,506.8L836.8,486.1" fill="none" stroke="#141414" stroke-width="1.25"/>
<path d="M794.6,609.7L794.8,599.1 865.2,578.4 864.9,589.1Z" fill="#fff"/>
<path d="M794.6,609.7L794.8,599.1" fill="none" stroke="#141414" stroke-width="1.25"/>
<path d="M864.9,589.1L865.2,578.4" fill="none" stroke="#141414" stroke-width="1.25"/>
<path d="M794.6,609.7L864.9,589.1" fill="none" stroke="#141414" stroke-width="1.25"/>
<path d="M794.8,599.1L865.2,578.4" fill="none" stroke="#141414" stroke-width="1.25"/>
<path d="M718.9,339.1L716.3,333.3 786.7,312.7 789.3,318.4Z" fill="#fff"/>
<path d="M718.9,339.1L716.3,333.3" fill="none" stroke="#141414" stroke-width="1.25"/>
<path d="M789.3,318.4L786.7,312.7" fill="none" stroke="#141414" stroke-width="1.25"/>
<path d="M718.9,339.1L789.3,318.4" fill="none" stroke="#141414" stroke-width="1.25"/>
<path d="M716.3,333.3L786.7,312.7" fill="none" stroke="#141414" stroke-width="1.25"/>
<path d="M694.7,245.6L688.9,236.7 759.3,216 765,225Z" fill="#fff"/>
<path d="M694.7,245.6L688.9,236.7" fill="none" stroke="#141414" stroke-width="1.25"/>
<path d="M765,225L759.3,216" fill="none" stroke="#141414" stroke-width="1.25"/>
<path d="M694.7,245.6L765,225" fill="none" stroke="#141414" stroke-width="1.25"/>
<path d="M688.9,236.7L759.3,216" fill="none" stroke="#141414" stroke-width="1.25"/>
<path d="M794.1,561.5L792.4,559.2 789.8,557.3 785.8,555 781.1,552.8 775.8,550.6 770.6,548.6 841,528 846.1,529.9 851.5,532.1 856.2,534.4 860.2,536.6 862.8,538.5 864.5,540.8Z" fill="#fff"/>
<path d="M794.1,561.5L792.4,559.2 789.8,557.3 785.8,555 781.1,552.8 775.8,550.6 770.6,548.6" fill="none" stroke="#141414" stroke-width="1.25"/>
<path d="M864.5,540.8L862.8,538.5 860.2,536.6 856.2,534.4 851.5,532.1 846.1,529.9 841,528" fill="none" stroke="#141414" stroke-width="1.25"/>
<path d="M794.1,561.5L864.5,540.8" fill="none" stroke="#141414" stroke-width="1.25"/>
<path d="M770.6,548.6L841,528" fill="none" stroke="#141414" stroke-width="1.25"/>
<path d="M761.7,477.4L760.5,471.1 830.9,450.5 832,456.7Z" fill="#fff"/>
<path d="M761.7,477.4L760.5,471.1" fill="none" stroke="#141414" stroke-width="1.25"/>
<path d="M832,456.7L830.9,450.5" fill="none" stroke="#141414" stroke-width="1.25"/>
<path d="M761.7,477.4L832,456.7" fill="none" stroke="#141414" stroke-width="1.25"/>
<path d="M760.5,471.1L830.9,450.5" fill="none" stroke="#141414" stroke-width="1.25"/>
<path d="M732.6,372.6L730.3,366.6 800.7,346 802.9,351.9Z" fill="#fff"/>
<path d="M732.6,372.6L730.3,366.6" fill="none" stroke="#141414" stroke-width="1.25"/>
<path d="M802.9,351.9L800.7,346" fill="none" stroke="#141414" stroke-width="1.25"/>
<path d="M732.6,372.6L802.9,351.9" fill="none" stroke="#141414" stroke-width="1.25"/>
<path d="M730.3,366.6L800.7,346" fill="none" stroke="#141414" stroke-width="1.25"/>
<path d="M700.5,301.1L703.9,296.9 707.3,292.2 710.1,287.9 712.4,284 713.6,281 713.9,278.2 784.2,257.5 784,260.4 782.7,263.3 780.5,267.3 777.7,271.6 774.2,276.2 770.9,280.5Z" fill="#fff"/>
<path d="M700.5,301.1L703.9,296.9 707.3,292.2 710.1,287.9 712.4,284 713.6,281 713.9,278.2" fill="none" stroke="#141414" stroke-width="1.25"/>
<path d="M770.9,280.5L774.2,276.2 777.7,271.6 780.5,267.3 782.7,263.3 784,260.4 784.2,257.5" fill="none" stroke="#141414" stroke-width="1.25"/>
<path d="M700.5,301.1L770.9,280.5" fill="none" stroke="#141414" stroke-width="1.25"/>
<path d="M713.9,278.2L784.2,257.5" fill="none" stroke="#141414" stroke-width="1.25"/>
<path d="M790.5,575.1L793,574 794.5,572.2 864.9,551.6 863.4,553.4 860.9,554.5Z" fill="#fff"/>
<path d="M790.5,575.1L793,574 794.5,572.2" fill="none" stroke="#141414" stroke-width="1.25"/>
<path d="M860.9,554.5L863.4,553.4 864.9,551.6" fill="none" stroke="#141414" stroke-width="1.25"/>
<path d="M790.5,575.1L860.9,554.5" fill="none" stroke="#141414" stroke-width="1.25"/>
<path d="M794.5,572.2L864.9,551.6" fill="none" stroke="#141414" stroke-width="1.25"/>
<path d="M754,442L752.5,435.8 822.8,415.1 824.4,421.3Z" fill="#fff"/>
<path d="M754,442L752.5,435.8" fill="none" stroke="#141414" stroke-width="1.25"/>
<path d="M824.4,421.3L822.8,415.1" fill="none" stroke="#141414" stroke-width="1.25"/>
<path d="M754,442L824.4,421.3" fill="none" stroke="#141414" stroke-width="1.25"/>
<path d="M752.5,435.8L822.8,415.1" fill="none" stroke="#141414" stroke-width="1.25"/>
<path d="M744.3,406.9L742.4,400.9 812.7,380.2 814.7,386.3Z" fill="#fff"/>
<path d="M744.3,406.9L742.4,400.9" fill="none" stroke="#141414" stroke-width="1.25"/>
<path d="M814.7,386.3L812.7,380.2" fill="none" stroke="#141414" stroke-width="1.25"/>
<path d="M744.3,406.9L814.7,386.3" fill="none" stroke="#141414" stroke-width="1.25"/>
<path d="M742.4,400.9L812.7,380.2" fill="none" stroke="#141414" stroke-width="1.25"/>
<path d="M708.6,268.7L706.3,268 703.6,268.3 699.8,269.4 770.1,248.8 774,247.7 776.7,247.3 778.9,248.1Z" fill="#fff"/>
<path d="M708.6,268.7L706.3,268 703.6,268.3 699.8,269.4" fill="none" stroke="#141414" stroke-width="1.25"/>
<path d="M778.9,248.1L776.7,247.3 774,247.7 770.1,248.8" fill="none" stroke="#141414" stroke-width="1.25"/>
<path d="M708.6,268.7L778.9,248.1" fill="none" stroke="#141414" stroke-width="1.25"/>
<path d="M699.8,269.4L770.1,248.8" fill="none" stroke="#141414" stroke-width="1.25"/>
<path d="M794.5,572.2L794.1,561.5 864.5,540.8 864.9,551.6Z" fill="#fff"/>
<path d="M794.5,572.2L794.1,561.5" fill="none" stroke="#141414" stroke-width="1.25"/>
<path d="M864.9,551.6L864.5,540.8" fill="none" stroke="#141414" stroke-width="1.25"/>
<path d="M794.5,572.2L864.9,551.6" fill="none" stroke="#141414" stroke-width="1.25"/>
<path d="M794.1,561.5L864.5,540.8" fill="none" stroke="#141414" stroke-width="1.25"/>
<path d="M791.1,523.5L789.3,521.4 786.6,519.7 782.5,517.9 777.8,516.1 772.4,514.4 767.2,513 837.6,492.4 842.7,493.8 848.2,495.5 852.9,497.2 857,499.1 859.6,500.7 861.5,502.9Z" fill="#fff"/>
<path d="M791.1,523.5L789.3,521.4 786.6,519.7 782.5,517.9 777.8,516.1 772.4,514.4 767.2,513" fill="none" stroke="#141414" stroke-width="1.25"/>
<path d="M861.5,502.9L859.6,500.7 857,499.1 852.9,497.2 848.2,495.5 842.7,493.8 837.6,492.4" fill="none" stroke="#141414" stroke-width="1.25"/>
<path d="M791.1,523.5L861.5,502.9" fill="none" stroke="#141414" stroke-width="1.25"/>
<path d="M767.2,513L837.6,492.4" fill="none" stroke="#141414" stroke-width="1.25"/>
<path d="M713.9,278.2L708.6,268.7 778.9,248.1 784.2,257.5Z" fill="#fff"/>
<path d="M713.9,278.2L708.6,268.7" fill="none" stroke="#141414" stroke-width="1.25"/>
<path d="M784.2,257.5L778.9,248.1" fill="none" stroke="#141414" stroke-width="1.25"/>
<path d="M713.9,278.2L784.2,257.5" fill="none" stroke="#141414" stroke-width="1.25"/>
<path d="M708.6,268.7L778.9,248.1" fill="none" stroke="#141414" stroke-width="1.25"/>
<path d="M716.3,333.3L720,329.5 723.7,325.3 726.9,321.4 729.4,317.7 730.8,314.9 731.2,312.2 801.6,291.5 801.2,294.3 799.7,297.1 797.2,300.7 794.1,304.6 790.4,308.8 786.7,312.7Z" fill="#fff"/>
<path d="M716.3,333.3L720,329.5 723.7,325.3 726.9,321.4 729.4,317.7 730.8,314.9 731.2,312.2" fill="none" stroke="#141414" stroke-width="1.25"/>
<path d="M786.7,312.7L790.4,308.8 794.1,304.6 797.2,300.7 799.7,297.1 801.2,294.3 801.6,291.5" fill="none" stroke="#141414" stroke-width="1.25"/>
<path d="M716.3,333.3L786.7,312.7" fill="none" stroke="#141414" stroke-width="1.25"/>
<path d="M731.2,312.2L801.6,291.5" fill="none" stroke="#141414" stroke-width="1.25"/>
<path d="M784.7,539.2L788.4,537.7 790.8,536.3 792.2,534.4 862.6,513.7 861.2,515.7 858.8,517.1 855,518.5Z" fill="#fff"/>
<path d="M784.7,539.2L788.4,537.7 790.8,536.3 792.2,534.4" fill="none" stroke="#141414" stroke-width="1.25"/>
<path d="M855,518.5L858.8,517.1 861.2,515.7 862.6,513.7" fill="none" stroke="#141414" stroke-width="1.25"/>
<path d="M784.7,539.2L855,518.5" fill="none" stroke="#141414" stroke-width="1.25"/>
<path d="M792.2,534.4L862.6,513.7" fill="none" stroke="#141414" stroke-width="1.25"/>
<path d="M726.5,302.3L724.2,301.4 721.5,301.4 717.5,302.1 713.1,303.3 783.4,282.6 787.9,281.4 791.8,280.8 794.6,280.7 796.8,281.7Z" fill="#fff"/>
<path d="M726.5,302.3L724.2,301.4 721.5,301.4 717.5,302.1 713.1,303.3" fill="none" stroke="#141414" stroke-width="1.25"/>
<path d="M796.8,281.7L794.6,280.7 791.8,280.8 787.9,281.4 783.4,282.6" fill="none" stroke="#141414" stroke-width="1.25"/>
<path d="M726.5,302.3L796.8,281.7" fill="none" stroke="#141414" stroke-width="1.25"/>
<path d="M713.1,303.3L783.4,282.6" fill="none" stroke="#141414" stroke-width="1.25"/>
<path d="M742.5,337.3L740.3,336.1 737.5,335.8 733.5,336 728.9,336.7 723.7,337.8 718.9,339.1 789.3,318.4 794.1,317.2 799.2,316.1 803.8,315.4 807.9,315.2 810.6,315.4 812.8,316.6Z" fill="#fff"/>
<path d="M742.5,337.3L740.3,336.1 737.5,335.8 733.5,336 728.9,336.7 723.7,337.8 718.9,339.1" fill="none" stroke="#141414" stroke-width="1.25"/>
<path d="M812.8,316.6L810.6,315.4 807.9,315.2 803.8,315.4 799.2,316.1 794.1,317.2 789.3,318.4" fill="none" stroke="#141414" stroke-width="1.25"/>
<path d="M742.5,337.3L812.8,316.6" fill="none" stroke="#141414" stroke-width="1.25"/>
<path d="M718.9,339.1L789.3,318.4" fill="none" stroke="#141414" stroke-width="1.25"/>
<path d="M771.2,505.4L776.2,503.7 780.5,502 784,500.1 786.3,498.5 787.5,496.3 857.9,475.7 856.6,477.8 854.4,479.5 850.8,481.3 846.5,483.1 841.6,484.7Z" fill="#fff"/>
<path d="M771.2,505.4L776.2,503.7 780.5,502 784,500.1 786.3,498.5 787.5,496.3" fill="none" stroke="#141414" stroke-width="1.25"/>
<path d="M841.6,484.7L846.5,483.1 850.8,481.3 854.4,479.5 856.6,477.8 857.9,475.7" fill="none" stroke="#141414" stroke-width="1.25"/>
<path d="M771.2,505.4L841.6,484.7" fill="none" stroke="#141414" stroke-width="1.25"/>
<path d="M787.5,496.3L857.9,475.7" fill="none" stroke="#141414" stroke-width="1.25"/>
<path d="M785.8,485.5L783.9,483.5 781.1,482.1 777,480.7 772.3,479.4 766.8,478.3 761.7,477.4 832,456.7 837.2,457.6 842.6,458.8 847.4,460 851.5,461.5 854.2,462.9 856.2,464.8Z" fill="#fff"/>
<path d="M785.8,485.5L783.9,483.5 781.1,482.1 777,480.7 772.3,479.4 766.8,478.3 761.7,477.4" fill="none" stroke="#141414" stroke-width="1.25"/>
<path d="M856.2,464.8L854.2,462.9 851.5,461.5 847.4,460 842.6,458.8 837.2,457.6 832,456.7" fill="none" stroke="#141414" stroke-width="1.25"/>
<path d="M785.8,485.5L856.2,464.8" fill="none" stroke="#141414" stroke-width="1.25"/>
<path d="M761.7,477.4L832,456.7" fill="none" stroke="#141414" stroke-width="1.25"/>
<path d="M730.3,366.6L734.3,363.3 738.3,359.5 741.7,356 744.5,352.7 746.1,350.1 746.7,347.4 817,326.8 816.4,329.4 814.8,332 812.1,335.4 808.7,338.9 804.6,342.6 800.7,346Z" fill="#fff"/>
<path d="M730.3,366.6L734.3,363.3 738.3,359.5 741.7,356 744.5,352.7 746.1,350.1 746.7,347.4" fill="none" stroke="#141414" stroke-width="1.25"/>
<path d="M800.7,346L804.6,342.6 808.7,338.9 812.1,335.4 814.8,332 816.4,329.4 817,326.8" fill="none" stroke="#141414" stroke-width="1.25"/>
<path d="M730.3,366.6L800.7,346" fill="none" stroke="#141414" stroke-width="1.25"/>
<path d="M746.7,347.4L817,326.8" fill="none" stroke="#141414" stroke-width="1.25"/>
<path d="M760.5,471.1L765.1,469.2 769.9,467 774,464.8 777.4,462.6 779.5,460.7 780.6,458.4 851,437.7 849.9,440 847.8,441.9 844.4,444.2 840.3,446.4 835.5,448.6 830.9,450.5Z" fill="#fff"/>
<path d="M760.5,471.1L765.1,469.2 769.9,467 774,464.8 777.4,462.6 779.5,460.7 780.6,458.4" fill="none" stroke="#141414" stroke-width="1.25"/>
<path d="M830.9,450.5L835.5,448.6 840.3,446.4 844.4,444.2 847.8,441.9 849.9,440 851,437.7" fill="none" stroke="#141414" stroke-width="1.25"/>
<path d="M760.5,471.1L830.9,450.5" fill="none" stroke="#141414" stroke-width="1.25"/>
<path d="M780.6,458.4L851,437.7" fill="none" stroke="#141414" stroke-width="1.25"/>
<path d="M792.2,534.4L791.1,523.5 861.5,502.9 862.6,513.7Z" fill="#fff"/>
<path d="M792.2,534.4L791.1,523.5" fill="none" stroke="#141414" stroke-width="1.25"/>
<path d="M862.6,513.7L861.5,502.9" fill="none" stroke="#141414" stroke-width="1.25"/>
<path d="M792.2,534.4L862.6,513.7" fill="none" stroke="#141414" stroke-width="1.25"/>
<path d="M791.1,523.5L861.5,502.9" fill="none" stroke="#141414" stroke-width="1.25"/>
<path d="M756.5,373.3L754.3,371.9 751.5,371.3 747.5,371.1 742.8,371.3 737.5,371.9 732.6,372.6 802.9,351.9 807.9,351.2 813.1,350.7 817.8,350.5 821.9,350.7 824.7,351.2 826.9,352.6Z" fill="#fff"/>
<path d="M756.5,373.3L754.3,371.9 751.5,371.3 747.5,371.1 742.8,371.3 737.5,371.9 732.6,372.6" fill="none" stroke="#141414" stroke-width="1.25"/>
<path d="M826.9,352.6L824.7,351.2 821.9,350.7 817.8,350.5 813.1,350.7 807.9,351.2 802.9,351.9" fill="none" stroke="#141414" stroke-width="1.25"/>
<path d="M756.5,373.3L826.9,352.6" fill="none" stroke="#141414" stroke-width="1.25"/>
<path d="M732.6,372.6L802.9,351.9" fill="none" stroke="#141414" stroke-width="1.25"/>
<path d="M778.2,447.6L776.2,445.8 773.4,444.7 769.3,443.7 764.5,442.9 759.1,442.3 754,442 824.4,421.3 829.5,421.6 834.9,422.2 839.7,423 843.8,424.1 846.6,425.2 848.6,427Z" fill="#fff"/>
<path d="M778.2,447.6L776.2,445.8 773.4,444.7 769.3,443.7 764.5,442.9 759.1,442.3 754,442" fill="none" stroke="#141414" stroke-width="1.25"/>
<path d="M848.6,427L846.6,425.2 843.8,424.1 839.7,423 834.9,422.2 829.5,421.6 824.4,421.3" fill="none" stroke="#141414" stroke-width="1.25"/>
<path d="M778.2,447.6L848.6,427" fill="none" stroke="#141414" stroke-width="1.25"/>
<path d="M754,442L824.4,421.3" fill="none" stroke="#141414" stroke-width="1.25"/>
<path d="M742.4,400.9L746.6,398 750.9,394.7 754.6,391.6 757.5,388.6 759.3,386.2 760.1,383.7 830.5,363 829.7,365.6 827.9,368 824.9,371 821.3,374.1 816.9,377.3 812.7,380.2Z" fill="#fff"/>
<path d="M742.4,400.9L746.6,398 750.9,394.7 754.6,391.6 757.5,388.6 759.3,386.2 760.1,383.7" fill="none" stroke="#141414" stroke-width="1.25"/>
<path d="M812.7,380.2L816.9,377.3 821.3,374.1 824.9,371 827.9,368 829.7,365.6 830.5,363" fill="none" stroke="#141414" stroke-width="1.25"/>
<path d="M742.4,400.9L812.7,380.2" fill="none" stroke="#141414" stroke-width="1.25"/>
<path d="M760.1,383.7L830.5,363" fill="none" stroke="#141414" stroke-width="1.25"/>
<path d="M752.5,435.8L756.9,433.4 761.5,430.6 765.3,428 768.6,425.3 770.5,423.2 771.5,420.8 841.8,400.1 840.9,402.5 838.9,404.7 835.7,407.3 831.8,410 827.2,412.7 822.8,415.1Z" fill="#fff"/>
<path d="M752.5,435.8L756.9,433.4 761.5,430.6 765.3,428 768.6,425.3 770.5,423.2 771.5,420.8" fill="none" stroke="#141414" stroke-width="1.25"/>
<path d="M822.8,415.1L827.2,412.7 831.8,410 835.7,407.3 838.9,404.7 840.9,402.5 841.8,400.1" fill="none" stroke="#141414" stroke-width="1.25"/>
<path d="M752.5,435.8L822.8,415.1" fill="none" stroke="#141414" stroke-width="1.25"/>
<path d="M771.5,420.8L841.8,400.1" fill="none" stroke="#141414" stroke-width="1.25"/>
<path d="M768.4,410.1L766.4,408.5 763.6,407.7 759.4,407.1 754.7,406.8 749.4,406.8 744.3,406.9 814.7,386.3 819.7,386.1 825.1,386.1 829.8,386.4 833.9,387 836.7,387.9 838.8,389.5Z" fill="#fff"/>
<path d="M768.4,410.1L766.4,408.5 763.6,407.7 759.4,407.1 754.7,406.8 749.4,406.8 744.3,406.9" fill="none" stroke="#141414" stroke-width="1.25"/>
<path d="M838.8,389.5L836.7,387.9 833.9,387 829.8,386.4 825.1,386.1 819.7,386.1 814.7,386.3" fill="none" stroke="#141414" stroke-width="1.25"/>
<path d="M768.4,410.1L838.8,389.5" fill="none" stroke="#141414" stroke-width="1.25"/>
<path d="M744.3,406.9L814.7,386.3" fill="none" stroke="#141414" stroke-width="1.25"/>
<path d="M731.2,312.2L726.5,302.3 796.8,281.7 801.6,291.5Z" fill="#fff"/>
<path d="M731.2,312.2L726.5,302.3" fill="none" stroke="#141414" stroke-width="1.25"/>
<path d="M801.6,291.5L796.8,281.7" fill="none" stroke="#141414" stroke-width="1.25"/>
<path d="M731.2,312.2L801.6,291.5" fill="none" stroke="#141414" stroke-width="1.25"/>
<path d="M726.5,302.3L796.8,281.7" fill="none" stroke="#141414" stroke-width="1.25"/>
<path d="M787.5,496.3L785.8,485.5 856.2,464.8 857.9,475.7Z" fill="#fff"/>
<path d="M787.5,496.3L785.8,485.5" fill="none" stroke="#141414" stroke-width="1.25"/>
<path d="M857.9,475.7L856.2,464.8" fill="none" stroke="#141414" stroke-width="1.25"/>
<path d="M787.5,496.3L857.9,475.7" fill="none" stroke="#141414" stroke-width="1.25"/>
<path d="M785.8,485.5L856.2,464.8" fill="none" stroke="#141414" stroke-width="1.25"/>
<path d="M746.7,347.4L742.5,337.3 812.8,316.6 817,326.8Z" fill="#fff"/>
<path d="M746.7,347.4L742.5,337.3" fill="none" stroke="#141414" stroke-width="1.25"/>
<path d="M817,326.8L812.8,316.6" fill="none" stroke="#141414" stroke-width="1.25"/>
<path d="M746.7,347.4L817,326.8" fill="none" stroke="#141414" stroke-width="1.25"/>
<path d="M742.5,337.3L812.8,316.6" fill="none" stroke="#141414" stroke-width="1.25"/>
<path d="M780.6,458.4L778.2,447.6 848.6,427 851,437.7Z" fill="#fff"/>
<path d="M780.6,458.4L778.2,447.6" fill="none" stroke="#141414" stroke-width="1.25"/>
<path d="M851,437.7L848.6,427" fill="none" stroke="#141414" stroke-width="1.25"/>
<path d="M780.6,458.4L851,437.7" fill="none" stroke="#141414" stroke-width="1.25"/>
<path d="M778.2,447.6L848.6,427" fill="none" stroke="#141414" stroke-width="1.25"/>
<path d="M760.1,383.7L756.5,373.3 826.9,352.6 830.5,363Z" fill="#fff"/>
<path d="M760.1,383.7L756.5,373.3" fill="none" stroke="#141414" stroke-width="1.25"/>
<path d="M830.5,363L826.9,352.6" fill="none" stroke="#141414" stroke-width="1.25"/>
<path d="M760.1,383.7L830.5,363" fill="none" stroke="#141414" stroke-width="1.25"/>
<path d="M756.5,373.3L826.9,352.6" fill="none" stroke="#141414" stroke-width="1.25"/>
<path d="M771.5,420.8L768.4,410.1 838.8,389.5 841.8,400.1Z" fill="#fff"/>
<path d="M771.5,420.8L768.4,410.1" fill="none" stroke="#141414" stroke-width="1.25"/>
<path d="M841.8,400.1L838.8,389.5" fill="none" stroke="#141414" stroke-width="1.25"/>
<path d="M771.5,420.8L841.8,400.1" fill="none" stroke="#141414" stroke-width="1.25"/>
<path d="M768.4,410.1L838.8,389.5" fill="none" stroke="#141414" stroke-width="1.25"/>
<path d="M304.8,158.9L321.4,206.2 391.7,185.6 375.2,138.3Z" fill="#fff"/>
<path d="M304.8,158.9L321.4,206.2" fill="none" stroke="#141414" stroke-width="1.25"/>
<path d="M375.2,138.3L391.7,185.6" fill="none" stroke="#141414" stroke-width="1.25"/>
<path d="M304.8,158.9L375.2,138.3" fill="none" stroke="#8a8a8a" stroke-width="0.8"/>
<path d="M321.4,206.2L391.7,185.6" fill="none" stroke="#8a8a8a" stroke-width="0.8"/>
<path d="M321.4,206.2L322.4,208.5 323.9,210.5 325.6,212 327.4,213 329.3,213.3 331.2,213 401.5,192.4 399.7,192.7 397.8,192.3 395.9,191.4 394.2,189.8 392.8,187.9 391.7,185.6Z" fill="#fff"/>
<path d="M321.4,206.2L322.4,208.5 323.9,210.5 325.6,212 327.4,213 329.3,213.3 331.2,213" fill="none" stroke="#141414" stroke-width="1.25"/>
<path d="M391.7,185.6L392.8,187.9 394.2,189.8 395.9,191.4 397.8,192.3 399.7,192.7 401.5,192.4" fill="none" stroke="#141414" stroke-width="1.25"/>
<path d="M321.4,206.2L391.7,185.6" fill="none" stroke="#8a8a8a" stroke-width="0.8"/>
<path d="M331.2,213L401.5,192.4" fill="none" stroke="#141414" stroke-width="1.25"/>
<path d="M313.2,131.9L309.4,134 306.3,137.4 304.2,142 303.2,147.4 303.4,153.2 304.8,158.9 375.2,138.3 373.8,132.5 373.6,126.7 374.5,121.4 376.7,116.8 379.8,113.3 383.6,111.3Z" fill="#fff"/>
<path d="M313.2,131.9L309.4,134 306.3,137.4 304.2,142 303.2,147.4 303.4,153.2 304.8,158.9" fill="none" stroke="#141414" stroke-width="1.25"/>
<path d="M383.6,111.3L379.8,113.3 376.7,116.8 374.5,121.4 373.6,126.7 373.8,132.5 375.2,138.3" fill="none" stroke="#141414" stroke-width="1.25"/>
<path d="M313.2,131.9L383.6,111.3" fill="none" stroke="#8a8a8a" stroke-width="0.8"/>
<path d="M304.8,158.9L375.2,138.3" fill="none" stroke="#8a8a8a" stroke-width="0.8"/>
<path d="M378.4,350.1L378.5,351.4 378.9,352.6 379.5,353.7 380.3,354.7 381.2,355.3 382.2,355.7 452.5,335.1 451.6,334.7 450.6,334 449.9,333.1 449.3,332 448.9,330.7 448.7,329.4Z" fill="#fff"/>
<path d="M378.4,350.1L378.5,351.4 378.9,352.6 379.5,353.7 380.3,354.7 381.2,355.3 382.2,355.7" fill="none" stroke="#141414" stroke-width="1.25"/>
<path d="M448.7,329.4L448.9,330.7 449.3,332 449.9,333.1 450.6,334 451.6,334.7 452.5,335.1" fill="none" stroke="#141414" stroke-width="1.25"/>
<path d="M378.4,350.1L448.7,329.4" fill="none" stroke="#8a8a8a" stroke-width="0.8"/>
<path d="M382.2,355.7L452.5,335.1" fill="none" stroke="#8a8a8a" stroke-width="0.8"/>
<path d="M326.4,127.7L313.2,131.9 383.6,111.3 396.8,107.1Z" fill="#fff"/>
<path d="M326.4,127.7L313.2,131.9" fill="none" stroke="#141414" stroke-width="1.25"/>
<path d="M396.8,107.1L383.6,111.3" fill="none" stroke="#141414" stroke-width="1.25"/>
<path d="M326.4,127.7L396.8,107.1" fill="none" stroke="#141414" stroke-width="1.25"/>
<path d="M313.2,131.9L383.6,111.3" fill="none" stroke="#8a8a8a" stroke-width="0.8"/>
<path d="M341.7,209.5L350.4,207.3 359.3,205.6 366.2,204.8 436.5,184.1 429.7,184.9 420.8,186.6 412,188.8Z" fill="#fff"/>
<path d="M341.7,209.5L350.4,207.3 359.3,205.6 366.2,204.8" fill="none" stroke="#141414" stroke-width="1.25"/>
<path d="M412,188.8L420.8,186.6 429.7,184.9 436.5,184.1" fill="none" stroke="#141414" stroke-width="1.25"/>
<path d="M341.7,209.5L412,188.8" fill="none" stroke="#141414" stroke-width="1.25"/>
<path d="M366.2,204.8L436.5,184.1" fill="none" stroke="#8a8a8a" stroke-width="0.8"/>
<path d="M377.5,218.4L378.4,350.1 448.7,329.4 447.8,197.8Z" fill="#fff"/>
<path d="M377.5,218.4L378.4,350.1" fill="none" stroke="#141414" stroke-width="1.25"/>
<path d="M447.8,197.8L448.7,329.4" fill="none" stroke="#141414" stroke-width="1.25"/>
<path d="M377.5,218.4L447.8,197.8" fill="none" stroke="#8a8a8a" stroke-width="0.8"/>
<path d="M378.4,350.1L448.7,329.4" fill="none" stroke="#8a8a8a" stroke-width="0.8"/>
<path d="M366.2,204.8L368.9,205 371.5,206.3 373.9,208.5 375.8,211.5 377,214.9 377.5,218.4 447.8,197.8 447.4,194.2 446.2,190.8 444.3,187.9 441.9,185.7 439.2,184.4 436.5,184.1Z" fill="#fff"/>
<path d="M366.2,204.8L368.9,205 371.5,206.3 373.9,208.5 375.8,211.5 377,214.9 377.5,218.4" fill="none" stroke="#141414" stroke-width="1.25"/>
<path d="M436.5,184.1L439.2,184.4 441.9,185.7 444.3,187.9 446.2,190.8 447.4,194.2 447.8,197.8" fill="none" stroke="#141414" stroke-width="1.25"/>
<path d="M366.2,204.8L436.5,184.1" fill="none" stroke="#8a8a8a" stroke-width="0.8"/>
<path d="M377.5,218.4L447.8,197.8" fill="none" stroke="#8a8a8a" stroke-width="0.8"/>
<path d="M382.2,355.7L471.1,374.6 541.4,353.9 452.5,335.1Z" fill="#fff"/>
<path d="M382.2,355.7L471.1,374.6" fill="none" stroke="#141414" stroke-width="1.25"/>
<path d="M452.5,335.1L541.4,353.9" fill="none" stroke="#141414" stroke-width="1.25"/>
<path d="M382.2,355.7L452.5,335.1" fill="none" stroke="#8a8a8a" stroke-width="0.8"/>
<path d="M471.1,374.6L541.4,353.9" fill="none" stroke="#8a8a8a" stroke-width="0.8"/>
<path d="M471.1,374.6L472,374.6 542.4,354 541.4,353.9Z" fill="#fff"/>
<path d="M471.1,374.6L472,374.6" fill="none" stroke="#141414" stroke-width="1.25"/>
<path d="M541.4,353.9L542.4,354" fill="none" stroke="#141414" stroke-width="1.25"/>
<path d="M471.1,374.6L541.4,353.9" fill="none" stroke="#8a8a8a" stroke-width="0.8"/>
<path d="M472,374.6L542.4,354" fill="none" stroke="#141414" stroke-width="1.25"/>
<path d="M479.7,229.3L482.3,229.1 485.1,230 555.4,209.4 552.7,208.5 550,208.6Z" fill="#fff"/>
<path d="M479.7,229.3L482.3,229.1 485.1,230" fill="none" stroke="#141414" stroke-width="1.25"/>
<path d="M550,208.6L552.7,208.5 555.4,209.4" fill="none" stroke="#141414" stroke-width="1.25"/>
<path d="M479.7,229.3L550,208.6" fill="none" stroke="#141414" stroke-width="1.25"/>
<path d="M485.1,230L555.4,209.4" fill="none" stroke="#8a8a8a" stroke-width="0.8"/>
<path d="M485.1,230L491.9,233.7 500.9,239.2 509.7,245.1 520.2,253.2 590.6,232.5 580.1,224.5 571.2,218.6 562.3,213.1 555.4,209.4Z" fill="#fff"/>
<path d="M485.1,230L491.9,233.7 500.9,239.2 509.7,245.1 520.2,253.2" fill="none" stroke="#141414" stroke-width="1.25"/>
<path d="M555.4,209.4L562.3,213.1 571.2,218.6 580.1,224.5 590.6,232.5" fill="none" stroke="#141414" stroke-width="1.25"/>
<path d="M485.1,230L555.4,209.4" fill="none" stroke="#8a8a8a" stroke-width="0.8"/>
<path d="M520.2,253.2L590.6,232.5" fill="none" stroke="#8a8a8a" stroke-width="0.8"/>
<path d="M520.2,253.2L522.1,254.2 524,254.7 525.9,254.5 596.2,233.9 594.4,234.1 592.5,233.6 590.6,232.5Z" fill="#fff"/>
<path d="M520.2,253.2L522.1,254.2 524,254.7 525.9,254.5" fill="none" stroke="#141414" stroke-width="1.25"/>
<path d="M590.6,232.5L592.5,233.6 594.4,234.1 596.2,233.9" fill="none" stroke="#141414" stroke-width="1.25"/>
<path d="M520.2,253.2L590.6,232.5" fill="none" stroke="#8a8a8a" stroke-width="0.8"/>
<path d="M525.9,254.5L596.2,233.9" fill="none" stroke="#141414" stroke-width="1.25"/>
<path d="M411.1,352.6L410.1,206.4 441,197.3 442,343.5Z" fill="#fff"/>
<path d="M411.1,352.6L410.1,206.4 441,197.3 442,343.5 411.1,352.6" fill="none" stroke="#141414" stroke-width="1.25"/>
<path d="M411.1,352.6L410.1,206.4 395.8,203.3 396.8,349.5Z" fill="#fff"/>
<path d="M411.1,352.6L410.1,206.4 395.8,203.3 396.8,349.5 411.1,352.6" fill="none" stroke="#141414" stroke-width="1.25"/>
<path d="M410.1,206.4L395.8,203.3 426.7,194.3 441,197.3Z" fill="#fff"/>
<path d="M410.1,206.4L395.8,203.3 426.7,194.3 441,197.3 410.1,206.4" fill="none" stroke="#141414" stroke-width="1.25"/>
<path d="M416.4,351L415.4,204.8" fill="none" stroke="#141414" stroke-width="1"/>
<path d="M493.2,370L492.2,223.8 523.2,214.7 524.1,360.9Z" fill="#fff"/>
<path d="M493.2,370L492.2,223.8 523.2,214.7 524.1,360.9 493.2,370" fill="none" stroke="#141414" stroke-width="1.25"/>
<path d="M493.2,370L492.2,223.8 477.9,220.8 478.9,366.9Z" fill="#fff"/>
<path d="M493.2,370L492.2,223.8 477.9,220.8 478.9,366.9 493.2,370" fill="none" stroke="#141414" stroke-width="1.25"/>
<path d="M492.2,223.8L477.9,220.8 508.8,211.7 523.2,214.7Z" fill="#fff"/>
<path d="M492.2,223.8L477.9,220.8 508.8,211.7 523.2,214.7 492.2,223.8" fill="none" stroke="#141414" stroke-width="1.25"/>
<path d="M427.7,312.8L426.5,313.3 425.4,314 424.4,315 423.5,316.3 422.6,317.7 422,319.3 421.5,321 421.2,322.7 421.2,324.4 421.3,326 421.6,327.6 422.1,329 422.7,330.2 423.6,331.1 424.5,331.8 425.5,332.2 426.7,332.3 427.8,332.1 428.9,331.7 430,330.9 431.1,329.9 432,328.6 432.8,327.2 433.5,325.6 433.9,324 434.2,322.2 434.3,320.5 434.2,318.9 433.9,317.3 433.4,315.9 432.7,314.8 431.9,313.8 431,313.1 429.9,312.7 428.8,312.6 427.7,312.8" fill="none" stroke="#141414" stroke-width="1"/>
<path d="M427.1,228.6L425.9,229 424.8,229.8 423.8,230.8 422.9,232.1 422.1,233.5 421.4,235.1 421,236.7 420.7,238.5 420.6,240.2 420.7,241.8 421,243.4 421.5,244.7 422.2,245.9 423,246.9 423.9,247.6 425,248 426.1,248.1 427.2,247.9 428.4,247.4 429.5,246.7 430.5,245.7 431.4,244.4 432.2,243 432.9,241.4 433.4,239.7 433.6,238 433.7,236.3 433.6,234.7 433.3,233.1 432.8,231.7 432.1,230.5 431.3,229.6 430.4,228.9 429.3,228.5 428.2,228.4 427.1,228.6" fill="none" stroke="#141414" stroke-width="1"/>
<path d="M431.9,354.5L431.5,307.6 432,306.6 433,305.7 434.5,304.7 436.5,303.9 438.9,303.1 441.6,302.4 444.8,301.7 448.1,301.2 451.8,300.8 455.6,300.5 459.4,300.4 463.4,300.4 467.3,300.5 471.1,300.7 474.7,301 478.1,301.5 481.2,302.1 484,302.8 486.4,303.5 488.4,304.4 489.9,305.3 490.9,306.2 491.4,307.2 491.4,308.2 491.7,355.1 491.2,356.1 490.2,357 488.7,358 486.8,358.8 484.4,359.6 481.6,360.3 478.5,361 475.1,361.5 471.5,361.9 467.7,362.2 463.8,362.3 459.9,362.3 456,362.2 452.2,362 448.6,361.7 445.2,361.2 442.1,360.6 439.3,359.9 436.9,359.2 434.9,358.3 433.4,357.4 432.4,356.5 431.9,355.5Z" fill="#fff"/>
<path d="M431.8,355L431.5,308.1" fill="none" stroke="#141414" stroke-width="1.25"/>
<path d="M491.8,354.6L491.5,307.7" fill="none" stroke="#141414" stroke-width="1.25"/>
<path d="M484.1,312.7L486.5,311.9 488.4,311 489.9,310.1 490.9,309.1 491.4,308.2 491.4,307.2 490.9,306.2 489.9,305.3 488.4,304.4 486.4,303.5 484,302.8 481.2,302.1 478.1,301.5 474.7,301 471.1,300.7 467.3,300.5 463.4,300.4 459.4,300.4 455.6,300.5 451.8,300.8 448.1,301.2 444.8,301.7 441.6,302.4 438.9,303.1 436.5,303.9 434.5,304.7 433,305.7 432,306.6 431.5,307.6 431.5,308.6 432.1,309.5 433.1,310.5 434.6,311.4 436.6,312.2 439,313 441.8,313.7 444.9,314.2 448.3,314.7 451.9,315.1 455.7,315.3 459.6,315.4 463.5,315.4 467.4,315.2 471.2,314.9 474.8,314.5 478.2,314 481.3,313.4 484.1,312.7" fill="none" stroke="#141414" stroke-width="1.2"/>
<path d="M431.8,355L432.1,356 432.8,357 434.1,357.9 435.8,358.8 438,359.6 440.6,360.3 443.6,360.9 446.8,361.4 450.4,361.9 454.1,362.1 457.9,362.3 461.8,362.3 465.8,362.3 469.6,362 473.3,361.7 476.8,361.2 480.1,360.7 483,360 485.6,359.2 487.8,358.4 489.5,357.5 490.8,356.6 491.5,355.6 491.8,354.6" fill="none" stroke="#141414" stroke-width="1.2"/>
<path d="M431.8,350.8L432,351.7 432.8,352.7 434.1,353.6 435.8,354.5 438,355.3 440.6,356 443.5,356.6 446.8,357.2 450.3,357.6 454.1,357.9 457.9,358 461.8,358.1 465.7,358 469.6,357.8 473.3,357.4 476.8,357 480.1,356.4 483,355.7 485.6,355 487.8,354.1 489.5,353.2 490.8,352.3 491.5,351.3 491.8,350.4" fill="none" stroke="#141414" stroke-width="1.2"/>
<path d="M431.7,346.5L432,347.5 432.8,348.4 434,349.4 435.8,350.2 438,351 440.6,351.8 443.5,352.4 446.8,352.9 450.3,353.3 454,353.6 457.9,353.8 461.8,353.8 465.7,353.7 469.6,353.5 473.3,353.2 476.8,352.7 480,352.1 483,351.5 485.6,350.7 487.7,349.9 489.5,349 490.7,348 491.5,347.1 491.7,346.1" fill="none" stroke="#141414" stroke-width="1.2"/>
<path d="M431.7,342.2L432,343.2 432.7,344.2 434,345.1 435.8,346 437.9,346.8 440.5,347.5 443.5,348.1 446.8,348.6 450.3,349 454,349.3 457.8,349.5 461.8,349.5 465.7,349.4 469.5,349.2 473.2,348.9 476.8,348.4 480,347.9 483,347.2 485.5,346.4 487.7,345.6 489.4,344.7 490.7,343.8 491.5,342.8 491.7,341.8" fill="none" stroke="#141414" stroke-width="1.2"/>
<path d="M431.7,338L431.9,338.9 432.7,339.9 434,340.8 435.7,341.7 437.9,342.5 440.5,343.2 443.5,343.8 446.7,344.4 450.2,344.8 454,345.1 457.8,345.2 461.7,345.3 465.6,345.2 469.5,345 473.2,344.6 476.7,344.2 480,343.6 482.9,342.9 485.5,342.2 487.7,341.3 489.4,340.4 490.7,339.5 491.4,338.5 491.7,337.5" fill="none" stroke="#141414" stroke-width="1.2"/>
<path d="M431.7,333.7L431.9,334.7 432.7,335.6 434,336.6 435.7,337.4 437.9,338.2 440.5,338.9 443.4,339.6 446.7,340.1 450.2,340.5 453.9,340.8 457.8,341 461.7,341 465.6,340.9 469.5,340.7 473.2,340.4 476.7,339.9 480,339.3 482.9,338.7 485.5,337.9 487.7,337.1 489.4,336.2 490.6,335.2 491.4,334.3 491.7,333.3" fill="none" stroke="#141414" stroke-width="1.2"/>
<path d="M431.6,329.4L431.9,330.4 432.7,331.4 433.9,332.3 435.7,333.2 437.9,334 440.4,334.7 443.4,335.3 446.7,335.8 450.2,336.2 453.9,336.5 457.8,336.7 461.7,336.7 465.6,336.6 469.4,336.4 473.2,336.1 476.7,335.6 479.9,335.1 482.9,334.4 485.5,333.6 487.6,332.8 489.4,331.9 490.6,331 491.4,330 491.6,329" fill="none" stroke="#141414" stroke-width="1.2"/>
<path d="M431.6,325.2L431.9,326.1 432.6,327.1 433.9,328 435.6,328.9 437.8,329.7 440.4,330.4 443.4,331 446.6,331.6 450.2,332 453.9,332.3 457.7,332.4 461.6,332.5 465.6,332.4 469.4,332.2 473.1,331.8 476.6,331.4 479.9,330.8 482.8,330.1 485.4,329.4 487.6,328.5 489.3,327.6 490.6,326.7 491.3,325.7 491.6,324.7" fill="none" stroke="#141414" stroke-width="1.2"/>
<path d="M431.6,320.9L431.8,321.9 432.6,322.8 433.9,323.7 435.6,324.6 437.8,325.4 440.4,326.1 443.3,326.8 446.6,327.3 450.1,327.7 453.9,328 457.7,328.2 461.6,328.2 465.5,328.1 469.4,327.9 473.1,327.5 476.6,327.1 479.9,326.5 482.8,325.8 485.4,325.1 487.6,324.3 489.3,323.4 490.6,322.4 491.3,321.5 491.6,320.5" fill="none" stroke="#141414" stroke-width="1.2"/>
<path d="M431.5,316.6L431.8,317.6 432.6,318.6 433.8,319.5 435.6,320.3 437.8,321.2 440.4,321.9 443.3,322.5 446.6,323 450.1,323.4 453.8,323.7 457.7,323.9 461.6,323.9 465.5,323.8 469.3,323.6 473.1,323.3 476.6,322.8 479.8,322.2 482.8,321.6 485.4,320.8 487.5,320 489.3,319.1 490.5,318.2 491.3,317.2 491.5,316.2" fill="none" stroke="#141414" stroke-width="1.2"/>
<path d="M431.5,312.3L431.8,313.3 432.5,314.3 433.8,315.2 435.6,316.1 437.7,316.9 440.3,317.6 443.3,318.2 446.6,318.8 450.1,319.2 453.8,319.5 457.6,319.6 461.6,319.7 465.5,319.6 469.3,319.3 473,319 476.6,318.5 479.8,318 482.8,317.3 485.3,316.6 487.5,315.7 489.2,314.8 490.5,313.9 491.3,312.9 491.5,311.9" fill="none" stroke="#141414" stroke-width="1.2"/>
<path d="M490.1,189.5L490.6,190.5 490.6,191.5 491.2,270.4 490.7,271.4 489.6,272.3 488.2,273.3 486.2,274.1 483.8,274.9 481.1,275.6 477.9,276.3 474.5,276.8 470.9,277.2 467.1,277.4 463.3,277.6 459.3,277.6 455.4,277.5 451.6,277.3 448,277 444.6,276.5 441.5,275.9 438.7,275.2 436.3,274.5 434.3,273.6 432.8,272.7 431.8,271.8 431.3,270.8 431.3,269.8 430.7,190.9 431.2,190 432.3,189 433.7,188.1 435.7,187.2 438.1,186.4 440.9,185.7 444,185.1 447.4,184.6 451,184.2 454.8,183.9 458.7,183.7 462.6,183.7 466.5,183.8 470.3,184 473.9,184.4 477.3,184.9 480.4,185.4 483.2,186.1 485.6,186.9 487.6,187.7 489.1,188.6Z" fill="#fff"/>
<path d="M431.2,270.3L430.7,191.4" fill="none" stroke="#141414" stroke-width="1.25"/>
<path d="M491.2,269.9L490.7,191" fill="none" stroke="#141414" stroke-width="1.25"/>
<path d="M483.3,196L485.7,195.2 487.6,194.4 489.1,193.4 490.1,192.5 490.6,191.5 490.6,190.5 490.1,189.5 489.1,188.6 487.6,187.7 485.6,186.9 483.2,186.1 480.4,185.4 477.3,184.9 473.9,184.4 470.3,184 466.5,183.8 462.6,183.7 458.7,183.7 454.8,183.9 451,184.2 447.4,184.6 444,185.1 440.9,185.7 438.1,186.4 435.7,187.2 433.7,188.1 432.3,189 431.2,190 430.7,190.9 430.8,191.9 431.3,192.9 432.3,193.8 433.8,194.7 435.8,195.6 438.2,196.3 441,197 444.1,197.6 447.5,198.1 451.1,198.4 454.9,198.6 458.8,198.7 462.7,198.7 466.6,198.5 470.4,198.3 474,197.9 477.4,197.4 480.5,196.7 483.3,196" fill="none" stroke="#141414" stroke-width="1.2"/>
<path d="M431.2,270.3L431.5,271.3 432.3,272.3 433.5,273.2 435.3,274.1 437.5,274.9 440,275.6 443,276.2 446.3,276.7 449.8,277.1 453.5,277.4 457.4,277.6 461.3,277.6 465.2,277.5 469,277.3 472.7,277 476.3,276.5 479.5,276 482.5,275.3 485.1,274.5 487.2,273.7 489,272.8 490.2,271.9 491,270.9 491.2,269.9" fill="none" stroke="#141414" stroke-width="1.2"/>
<path d="M431.2,266.2L431.5,267.2 432.2,268.1 433.5,269 435.2,269.9 437.4,270.7 440,271.4 443,272.1 446.2,272.6 449.8,273 453.5,273.3 457.3,273.4 461.2,273.5 465.2,273.4 469,273.2 472.7,272.8 476.2,272.4 479.5,271.8 482.4,271.1 485,270.4 487.2,269.5 488.9,268.7 490.2,267.7 490.9,266.7 491.2,265.8" fill="none" stroke="#141414" stroke-width="1.2"/>
<path d="M431.2,262L431.4,263 432.2,264 433.5,264.9 435.2,265.8 437.4,266.6 440,267.3 442.9,267.9 446.2,268.4 449.7,268.8 453.4,269.1 457.3,269.3 461.2,269.3 465.1,269.2 469,269 472.7,268.7 476.2,268.2 479.5,267.7 482.4,267 485,266.2 487.2,265.4 488.9,264.5 490.2,263.6 490.9,262.6 491.2,261.6" fill="none" stroke="#141414" stroke-width="1.2"/>
<path d="M431.1,257.9L431.4,258.8 432.2,259.8 433.4,260.7 435.2,261.6 437.4,262.4 440,263.1 442.9,263.7 446.2,264.3 449.7,264.7 453.4,265 457.3,265.1 461.2,265.2 465.1,265.1 468.9,264.9 472.7,264.5 476.2,264.1 479.4,263.5 482.4,262.8 485,262.1 487.1,261.2 488.9,260.3 490.1,259.4 490.9,258.4 491.1,257.5" fill="none" stroke="#141414" stroke-width="1.2"/>
<path d="M431.1,253.7L431.4,254.7 432.1,255.7 433.4,256.6 435.2,257.4 437.3,258.2 439.9,259 442.9,259.6 446.2,260.1 449.7,260.5 453.4,260.8 457.2,261 461.2,261 465.1,260.9 468.9,260.7 472.6,260.4 476.2,259.9 479.4,259.3 482.4,258.7 484.9,257.9 487.1,257.1 488.8,256.2 490.1,255.3 490.9,254.3 491.1,253.3" fill="none" stroke="#141414" stroke-width="1.2"/>
<path d="M431.1,249.6L431.3,250.5 432.1,251.5 433.4,252.4 435.1,253.3 437.3,254.1 439.9,254.8 442.9,255.4 446.1,256 449.6,256.4 453.4,256.7 457.2,256.8 461.1,256.9 465,256.8 468.9,256.6 472.6,256.2 476.1,255.8 479.4,255.2 482.3,254.5 484.9,253.8 487.1,252.9 488.8,252 490.1,251.1 490.8,250.1 491.1,249.1" fill="none" stroke="#141414" stroke-width="1.2"/>
<path d="M431.1,245.4L431.3,246.4 432.1,247.3 433.4,248.3 435.1,249.1 437.3,249.9 439.9,250.7 442.8,251.3 446.1,251.8 449.6,252.2 453.3,252.5 457.2,252.7 461.1,252.7 465,252.6 468.9,252.4 472.6,252.1 476.1,251.6 479.4,251 482.3,250.4 484.9,249.6 487.1,248.8 488.8,247.9 490,246.9 490.8,246 491,245" fill="none" stroke="#141414" stroke-width="1.2"/>
<path d="M431,241.3L431.3,242.2 432.1,243.2 433.3,244.1 435.1,245 437.3,245.8 439.8,246.5 442.8,247.1 446.1,247.7 449.6,248.1 453.3,248.4 457.2,248.5 461.1,248.6 465,248.5 468.8,248.3 472.5,247.9 476.1,247.5 479.3,246.9 482.3,246.2 484.9,245.5 487,244.6 488.8,243.7 490,242.8 490.8,241.8 491,240.8" fill="none" stroke="#141414" stroke-width="1.2"/>
<path d="M431,237.1L431.3,238.1 432,239 433.3,240 435,240.8 437.2,241.6 439.8,242.4 442.8,243 446,243.5 449.6,243.9 453.3,244.2 457.1,244.4 461,244.4 465,244.3 468.8,244.1 472.5,243.8 476,243.3 479.3,242.7 482.2,242.1 484.8,241.3 487,240.5 488.7,239.6 490,238.6 490.7,237.7 491,236.7" fill="none" stroke="#141414" stroke-width="1.2"/>
<path d="M431,233L431.2,233.9 432,234.9 433.3,235.8 435,236.7 437.2,237.5 439.8,238.2 442.7,238.8 446,239.4 449.5,239.8 453.3,240.1 457.1,240.2 461,240.3 464.9,240.2 468.8,240 472.5,239.6 476,239.2 479.3,238.6 482.2,237.9 484.8,237.2 487,236.3 488.7,235.4 490,234.5 490.7,233.5 491,232.5" fill="none" stroke="#141414" stroke-width="1.2"/>
<path d="M430.9,228.8L431.2,229.8 432,230.7 433.2,231.7 435,232.5 437.2,233.3 439.8,234.1 442.7,234.7 446,235.2 449.5,235.6 453.2,235.9 457.1,236.1 461,236.1 464.9,236 468.8,235.8 472.5,235.5 476,235 479.2,234.4 482.2,233.8 484.8,233 486.9,232.2 488.7,231.3 489.9,230.3 490.7,229.4 490.9,228.4" fill="none" stroke="#141414" stroke-width="1.2"/>
<path d="M430.9,224.6L431.2,225.6 431.9,226.6 433.2,227.5 435,228.4 437.1,229.2 439.7,229.9 442.7,230.5 446,231.1 449.5,231.5 453.2,231.8 457,231.9 461,232 464.9,231.9 468.7,231.6 472.4,231.3 476,230.8 479.2,230.3 482.2,229.6 484.7,228.9 486.9,228 488.6,227.1 489.9,226.2 490.7,225.2 490.9,224.2" fill="none" stroke="#141414" stroke-width="1.2"/>
<path d="M430.9,220.5L431.1,221.5 431.9,222.4 433.2,223.4 434.9,224.2 437.1,225 439.7,225.7 442.7,226.4 445.9,226.9 449.4,227.3 453.2,227.6 457,227.8 460.9,227.8 464.8,227.7 468.7,227.5 472.4,227.2 475.9,226.7 479.2,226.1 482.1,225.5 484.7,224.7 486.9,223.9 488.6,223 489.9,222 490.6,221.1 490.9,220.1" fill="none" stroke="#141414" stroke-width="1.2"/>
<path d="M430.9,216.3L431.1,217.3 431.9,218.3 433.2,219.2 434.9,220.1 437.1,220.9 439.7,221.6 442.6,222.2 445.9,222.7 449.4,223.2 453.1,223.4 457,223.6 460.9,223.7 464.8,223.6 468.7,223.3 472.4,223 475.9,222.5 479.2,222 482.1,221.3 484.7,220.5 486.9,219.7 488.6,218.8 489.8,217.9 490.6,216.9 490.9,215.9" fill="none" stroke="#141414" stroke-width="1.2"/>
<path d="M430.8,212.2L431.1,213.2 431.9,214.1 433.1,215 434.9,215.9 437.1,216.7 439.6,217.4 442.6,218.1 445.9,218.6 449.4,219 453.1,219.3 457,219.5 460.9,219.5 464.8,219.4 468.6,219.2 472.4,218.8 475.9,218.4 479.1,217.8 482.1,217.2 484.7,216.4 486.8,215.6 488.6,214.7 489.8,213.7 490.6,212.8 490.8,211.8" fill="none" stroke="#141414" stroke-width="1.2"/>
<path d="M430.8,208L431.1,209 431.8,210 433.1,210.9 434.8,211.8 437,212.6 439.6,213.3 442.6,213.9 445.8,214.4 449.4,214.9 453.1,215.1 456.9,215.3 460.8,215.3 464.8,215.3 468.6,215 472.3,214.7 475.8,214.2 479.1,213.7 482,213 484.6,212.2 486.8,211.4 488.5,210.5 489.8,209.6 490.5,208.6 490.8,207.6" fill="none" stroke="#141414" stroke-width="1.2"/>
<path d="M430.8,203.9L431,204.9 431.8,205.8 433.1,206.7 434.8,207.6 437,208.4 439.6,209.1 442.5,209.8 445.8,210.3 449.3,210.7 453.1,211 456.9,211.2 460.8,211.2 464.7,211.1 468.6,210.9 472.3,210.5 475.8,210.1 479.1,209.5 482,208.8 484.6,208.1 486.8,207.3 488.5,206.4 489.8,205.4 490.5,204.5 490.8,203.5" fill="none" stroke="#141414" stroke-width="1.2"/>
<path d="M430.7,199.7L431,200.7 431.8,201.7 433,202.6 434.8,203.5 437,204.3 439.6,205 442.5,205.6 445.8,206.1 449.3,206.5 453,206.8 456.9,207 460.8,207 464.7,206.9 468.6,206.7 472.3,206.4 475.8,205.9 479,205.4 482,204.7 484.6,203.9 486.7,203.1 488.5,202.2 489.7,201.3 490.5,200.3 490.7,199.3" fill="none" stroke="#141414" stroke-width="1.2"/>
<path d="M430.7,195.6L431,196.6 431.7,197.5 433,198.4 434.8,199.3 436.9,200.1 439.5,200.8 442.5,201.5 445.8,202 449.3,202.4 453,202.7 456.8,202.9 460.8,202.9 464.7,202.8 468.5,202.6 472.2,202.2 475.8,201.8 479,201.2 482,200.5 484.5,199.8 486.7,199 488.4,198.1 489.7,197.1 490.5,196.1 490.7,195.2" fill="none" stroke="#141414" stroke-width="1.2"/>
<path d="M398.2,309.8L399.1,310.6 401,311.2 400.7,273.4 398.8,272.8 398,272Z" fill="#fff"/>
<path d="M398.2,309.8L399.1,310.6 401,311.2" fill="none" stroke="#141414" stroke-width="1.25"/>
<path d="M398,272L398.8,272.8 400.7,273.4" fill="none" stroke="#141414" stroke-width="1.25"/>
<path d="M398.2,309.8L398,272" fill="none" stroke="#141414" stroke-width="1.25"/>
<path d="M401,311.2L400.7,273.4" fill="none" stroke="#141414" stroke-width="1.25"/>
<path d="M401,311.2L458.2,323.3 458,285.6 400.7,273.4Z" fill="#fff"/>
<path d="M401,311.2L458.2,323.3" fill="none" stroke="#141414" stroke-width="1.25"/>
<path d="M400.7,273.4L458,285.6" fill="none" stroke="#141414" stroke-width="1.25"/>
<path d="M401,311.2L400.7,273.4" fill="none" stroke="#141414" stroke-width="1.25"/>
<path d="M458.2,323.3L458,285.6" fill="none" stroke="#141414" stroke-width="1.25"/>
<path d="M477.4,320.7L478.9,320 479.3,319.3 479.1,281.5 478.7,282.3 477.1,283Z" fill="#fff"/>
<path d="M477.4,320.7L478.9,320 479.3,319.3" fill="none" stroke="#141414" stroke-width="1.25"/>
<path d="M477.1,283L478.7,282.3 479.1,281.5" fill="none" stroke="#141414" stroke-width="1.25"/>
<path d="M477.4,320.7L477.1,283" fill="none" stroke="#141414" stroke-width="1.25"/>
<path d="M479.3,319.3L479.1,281.5" fill="none" stroke="#141414" stroke-width="1.25"/>
<path d="M469.5,323L477.4,320.7 477.1,283 469.2,285.3Z" fill="#fff"/>
<path d="M469.5,323L477.4,320.7" fill="none" stroke="#141414" stroke-width="1.25"/>
<path d="M469.2,285.3L477.1,283" fill="none" stroke="#141414" stroke-width="1.25"/>
<path d="M469.5,323L469.2,285.3" fill="none" stroke="#141414" stroke-width="1.25"/>
<path d="M477.4,320.7L477.1,283" fill="none" stroke="#141414" stroke-width="1.25"/>
<path d="M458.2,323.3L460.9,323.7 464,323.8 467,323.5 469.5,323 469.2,285.3 466.8,285.8 463.8,286 460.7,285.9 458,285.6Z" fill="#fff"/>
<path d="M458.2,323.3L460.9,323.7 464,323.8 467,323.5 469.5,323" fill="none" stroke="#141414" stroke-width="1.25"/>
<path d="M458,285.6L460.7,285.9 463.8,286 466.8,285.8 469.2,285.3" fill="none" stroke="#141414" stroke-width="1.25"/>
<path d="M458.2,323.3L458,285.6" fill="none" stroke="#141414" stroke-width="1.25"/>
<path d="M469.5,323L469.2,285.3" fill="none" stroke="#141414" stroke-width="1.25"/>
<path d="M477.1,283L478.7,282.3 479.1,281.5 478.3,280.8 476.4,280.2 419.1,268 416.4,267.6 413.3,267.5 410.3,267.8 407.8,268.3 399.9,270.6 398.4,271.3 398,272 398.8,272.8 400.7,273.4 458,285.6 460.7,285.9 463.8,286 466.8,285.8 469.2,285.3Z" fill="#fff"/>
<path d="M477.1,283L478.7,282.3 479.1,281.5 478.3,280.8 476.4,280.2 419.1,268 416.4,267.6 413.3,267.5 410.3,267.8 407.8,268.3 399.9,270.6 398.4,271.3 398,272 398.8,272.8 400.7,273.4 458,285.6 460.7,285.9 463.8,286 466.8,285.8 469.2,285.3 477.1,283" fill="none" stroke="#141414" stroke-width="1.25"/>
<path d="M511.3,169L503.1,163.9 492.9,158.4 482.6,153.3 472.2,148.7 461.8,144.6 451.3,140.9 440.8,137.7 430.3,135 419.8,132.7 409.3,131 398.8,129.7 388.3,129 377.9,128.7 367.6,128.9 357.3,129.6 347.2,130.8 339,132.4 409.4,111.8 417.5,110.2 427.7,109 437.9,108.3 448.3,108 458.7,108.3 469.1,109.1 479.6,110.3 490.1,112.1 500.7,114.3 511.2,117 521.7,120.2 532.2,123.9 542.6,128.1 553,132.7 563.3,137.8 573.5,143.3 581.6,148.3Z" fill="#fff"/>
<path d="M511.3,169L503.1,163.9 492.9,158.4 482.6,153.3 472.2,148.7 461.8,144.6 451.3,140.9 440.8,137.7 430.3,135 419.8,132.7 409.3,131 398.8,129.7 388.3,129 377.9,128.7 367.6,128.9 357.3,129.6 347.2,130.8 339,132.4" fill="none" stroke="#141414" stroke-width="1.25"/>
<path d="M581.6,148.3L573.5,143.3 563.3,137.8 553,132.7 542.6,128.1 532.2,123.9 521.7,120.2 511.2,117 500.7,114.3 490.1,112.1 479.6,110.3 469.1,109.1 458.7,108.3 448.3,108 437.9,108.3 427.7,109 417.5,110.2 409.4,111.8" fill="none" stroke="#141414" stroke-width="1.25"/>
<path d="M511.3,169L581.6,148.3" fill="none" stroke="#8a8a8a" stroke-width="0.8"/>
<path d="M339,132.4L409.4,111.8" fill="none" stroke="#141414" stroke-width="1.25"/>
<path d="M504.4,232.1L506.3,230.8 507.8,228.9 508.8,226.5 579.2,205.9 578.2,208.3 576.7,210.2 574.7,211.4Z" fill="#fff"/>
<path d="M504.4,232.1L506.3,230.8 507.8,228.9 508.8,226.5" fill="none" stroke="#141414" stroke-width="1.25"/>
<path d="M574.7,211.4L576.7,210.2 578.2,208.3 579.2,205.9" fill="none" stroke="#141414" stroke-width="1.25"/>
<path d="M504.4,232.1L574.7,211.4" fill="none" stroke="#141414" stroke-width="1.25"/>
<path d="M508.8,226.5L579.2,205.9" fill="none" stroke="#8a8a8a" stroke-width="0.8"/>
<path d="M508.8,226.5L519.1,190.6 589.5,169.9 579.2,205.9Z" fill="#fff"/>
<path d="M508.8,226.5L519.1,190.6" fill="none" stroke="#141414" stroke-width="1.25"/>
<path d="M579.2,205.9L589.5,169.9" fill="none" stroke="#141414" stroke-width="1.25"/>
<path d="M508.8,226.5L579.2,205.9" fill="none" stroke="#8a8a8a" stroke-width="0.8"/>
<path d="M519.1,190.6L589.5,169.9" fill="none" stroke="#8a8a8a" stroke-width="0.8"/>
<path d="M519.1,190.6L519.8,186.7 519.6,182.5 518.5,178.4 516.7,174.6 514.2,171.4 511.3,169 581.6,148.3 584.6,150.7 587,153.9 588.9,157.7 589.9,161.9 590.1,166 589.5,169.9Z" fill="#fff"/>
<path d="M519.1,190.6L519.8,186.7 519.6,182.5 518.5,178.4 516.7,174.6 514.2,171.4 511.3,169" fill="none" stroke="#141414" stroke-width="1.25"/>
<path d="M589.5,169.9L590.1,166 589.9,161.9 588.9,157.7 587,153.9 584.6,150.7 581.6,148.3" fill="none" stroke="#141414" stroke-width="1.25"/>
<path d="M519.1,190.6L589.5,169.9" fill="none" stroke="#8a8a8a" stroke-width="0.8"/>
<path d="M511.3,169L581.6,148.3" fill="none" stroke="#8a8a8a" stroke-width="0.8"/>
<path d="M519.1,190.6L519.8,186.7 519.6,182.5 518.5,178.4 516.7,174.6 514.2,171.4 511.3,169 503.1,163.9 492.9,158.4 482.6,153.3 472.2,148.7 461.8,144.6 451.3,140.9 440.8,137.7 430.3,135 419.8,132.7 409.3,131 398.8,129.7 388.3,129 377.9,128.7 367.6,128.9 357.3,129.6 347.2,130.8 339,132.4 336.1,133.6 333.7,135.7 331.9,138.8 330.9,142.5 330.7,146.6 331.4,150.7 342.3,191.1 343.3,194 344.9,196.6 346.8,198.6 349,200 351.3,200.8 353.6,200.7 361.7,199.1 370,198.1 378.4,197.6 386.9,197.4 395.4,197.6 404,198.2 412.6,199.2 421.2,200.7 429.8,202.5 438.4,204.7 447,207.4 455.6,210.4 464.2,213.8 472.7,217.6 481.1,221.7 489.5,226.3 497.6,231.3 499.9,232.3 502.2,232.6 504.4,232.1 506.3,230.8 507.8,228.9 508.8,226.5Z" fill="#fff" stroke="#141414" stroke-width="1.25"/>
<path d="M540.2,590.3L540.4,591.6 540.8,592.9 541.4,594 542.1,594.9 543.1,595.6 544,596 614.4,575.3 613.4,575 612.5,574.3 611.7,573.3 611.1,572.2 610.7,571 610.6,569.7Z" fill="#fff"/>
<path d="M540.2,590.3L540.4,591.6 540.8,592.9 541.4,594 542.1,594.9 543.1,595.6 544,596" fill="none" stroke="#141414" stroke-width="1.25"/>
<path d="M610.6,569.7L610.7,571 611.1,572.2 611.7,573.3 612.5,574.3 613.4,575 614.4,575.3" fill="none" stroke="#141414" stroke-width="1.25"/>
<path d="M540.2,590.3L610.6,569.7" fill="none" stroke="#8a8a8a" stroke-width="0.8"/>
<path d="M544,596L614.4,575.3" fill="none" stroke="#8a8a8a" stroke-width="0.8"/>
<path d="M539.5,476.1L540.2,590.3 610.6,569.7 609.8,455.5Z" fill="#fff"/>
<path d="M539.5,476.1L540.2,590.3" fill="none" stroke="#141414" stroke-width="1.25"/>
<path d="M609.8,455.5L610.6,569.7" fill="none" stroke="#141414" stroke-width="1.25"/>
<path d="M539.5,476.1L609.8,455.5" fill="none" stroke="#8a8a8a" stroke-width="0.8"/>
<path d="M540.2,590.3L610.6,569.7" fill="none" stroke="#8a8a8a" stroke-width="0.8"/>
<path d="M542.2,472L541.3,472.3 540.5,472.9 539.9,473.8 539.6,474.9 539.5,476.1 609.8,455.5 609.9,454.2 610.3,453.1 610.9,452.3 611.7,451.7 612.6,451.4Z" fill="#fff"/>
<path d="M542.2,472L541.3,472.3 540.5,472.9 539.9,473.8 539.6,474.9 539.5,476.1" fill="none" stroke="#141414" stroke-width="1.25"/>
<path d="M612.6,451.4L611.7,451.7 610.9,452.3 610.3,453.1 609.9,454.2 609.8,455.5" fill="none" stroke="#141414" stroke-width="1.25"/>
<path d="M542.2,472L612.6,451.4" fill="none" stroke="#141414" stroke-width="1.25"/>
<path d="M539.5,476.1L609.8,455.5" fill="none" stroke="#8a8a8a" stroke-width="0.8"/>
<path d="M544,596L646.5,617.7 716.8,597.1 614.4,575.3Z" fill="#fff"/>
<path d="M544,596L646.5,617.7" fill="none" stroke="#141414" stroke-width="1.25"/>
<path d="M614.4,575.3L716.8,597.1" fill="none" stroke="#141414" stroke-width="1.25"/>
<path d="M544,596L614.4,575.3" fill="none" stroke="#8a8a8a" stroke-width="0.8"/>
<path d="M646.5,617.7L716.8,597.1" fill="none" stroke="#8a8a8a" stroke-width="0.8"/>
<path d="M643.4,676.5L642.9,678.8 642.9,681.2 643.3,683.7 644.3,686.1 645.6,688.2 647.2,689.9 717.5,669.2 715.9,667.5 714.6,665.4 713.7,663.1 713.2,660.6 713.3,658.1 713.8,655.9Z" fill="#fff"/>
<path d="M643.4,676.5L642.9,678.8 642.9,681.2 643.3,683.7 644.3,686.1 645.6,688.2 647.2,689.9" fill="none" stroke="#141414" stroke-width="1.25"/>
<path d="M713.8,655.9L713.3,658.1 713.2,660.6 713.7,663.1 714.6,665.4 715.9,667.5 717.5,669.2" fill="none" stroke="#141414" stroke-width="1.25"/>
<path d="M643.4,676.5L713.8,655.9" fill="none" stroke="#8a8a8a" stroke-width="0.8"/>
<path d="M647.2,689.9L717.5,669.2" fill="none" stroke="#8a8a8a" stroke-width="0.8"/>
<path d="M647.2,689.9L681.4,718 751.8,697.4 717.5,669.2Z" fill="#fff"/>
<path d="M647.2,689.9L681.4,718" fill="none" stroke="#141414" stroke-width="1.25"/>
<path d="M717.5,669.2L751.8,697.4" fill="none" stroke="#141414" stroke-width="1.25"/>
<path d="M647.2,689.9L717.5,669.2" fill="none" stroke="#8a8a8a" stroke-width="0.8"/>
<path d="M681.4,718L751.8,697.4" fill="none" stroke="#8a8a8a" stroke-width="0.8"/>
<path d="M655.3,634L653.7,642.5 650.9,653.3 647.8,664 643.4,676.5 713.8,655.9 718.2,643.3 721.3,632.7 724,621.8 725.7,613.4Z" fill="#fff"/>
<path d="M655.3,634L653.7,642.5 650.9,653.3 647.8,664 643.4,676.5" fill="none" stroke="#141414" stroke-width="1.25"/>
<path d="M725.7,613.4L724,621.8 721.3,632.7 718.2,643.3 713.8,655.9" fill="none" stroke="#141414" stroke-width="1.25"/>
<path d="M655.3,634L725.7,613.4" fill="none" stroke="#8a8a8a" stroke-width="0.8"/>
<path d="M643.4,676.5L713.8,655.9" fill="none" stroke="#8a8a8a" stroke-width="0.8"/>
<path d="M646.5,617.7L649.2,618.8 651.6,620.9 653.6,623.7 655,627.1 655.6,630.6 655.3,634 725.7,613.4 725.9,610 725.3,606.4 724,603.1 722,600.2 719.5,598.2 716.8,597.1Z" fill="#fff"/>
<path d="M646.5,617.7L649.2,618.8 651.6,620.9 653.6,623.7 655,627.1 655.6,630.6 655.3,634" fill="none" stroke="#141414" stroke-width="1.25"/>
<path d="M716.8,597.1L719.5,598.2 722,600.2 724,603.1 725.3,606.4 725.9,610 725.7,613.4" fill="none" stroke="#141414" stroke-width="1.25"/>
<path d="M646.5,617.7L716.8,597.1" fill="none" stroke="#8a8a8a" stroke-width="0.8"/>
<path d="M655.3,634L725.7,613.4" fill="none" stroke="#8a8a8a" stroke-width="0.8"/>
<path d="M681.4,718L685.7,720.7 690.2,721.8 694.5,721.4 764.9,700.8 760.6,701.2 756.1,700 751.8,697.4Z" fill="#fff"/>
<path d="M681.4,718L685.7,720.7 690.2,721.8 694.5,721.4" fill="none" stroke="#141414" stroke-width="1.25"/>
<path d="M751.8,697.4L756.1,700 760.6,701.2 764.9,700.8" fill="none" stroke="#141414" stroke-width="1.25"/>
<path d="M681.4,718L751.8,697.4" fill="none" stroke="#8a8a8a" stroke-width="0.8"/>
<path d="M694.5,721.4L764.9,700.8" fill="none" stroke="#141414" stroke-width="1.25"/>
<path d="M654.3,481.2L654.6,484.8 654,488.1 652.7,490.8 650.7,492.8 648.3,493.9 718.7,473.2 721.1,472.2 723.1,470.2 724.4,467.4 724.9,464.1 724.6,460.6Z" fill="#fff"/>
<path d="M654.3,481.2L654.6,484.8 654,488.1 652.7,490.8 650.7,492.8 648.3,493.9" fill="none" stroke="#141414" stroke-width="1.25"/>
<path d="M724.6,460.6L724.9,464.1 724.4,467.4 723.1,470.2 721.1,472.2 718.7,473.2" fill="none" stroke="#141414" stroke-width="1.25"/>
<path d="M654.3,481.2L724.6,460.6" fill="none" stroke="#8a8a8a" stroke-width="0.8"/>
<path d="M648.3,493.9L718.7,473.2" fill="none" stroke="#141414" stroke-width="1.25"/>
<path d="M641.8,433.6L646.4,448 649.6,460 652.5,472 654.3,481.2 724.6,460.6 722.9,451.4 720,439.3 716.7,427.4 712.1,412.9Z" fill="#fff"/>
<path d="M641.8,433.6L646.4,448 649.6,460 652.5,472 654.3,481.2" fill="none" stroke="#141414" stroke-width="1.25"/>
<path d="M712.1,412.9L716.7,427.4 720,439.3 722.9,451.4 724.6,460.6" fill="none" stroke="#141414" stroke-width="1.25"/>
<path d="M641.8,433.6L712.1,412.9" fill="none" stroke="#8a8a8a" stroke-width="0.8"/>
<path d="M654.3,481.2L724.6,460.6" fill="none" stroke="#8a8a8a" stroke-width="0.8"/>
<path d="M645.4,421.8L643.8,422.8 642.5,424.3 641.6,426.3 641.2,428.6 641.2,431.1 641.8,433.6 712.1,412.9 711.6,410.4 711.5,407.9 711.9,405.6 712.8,403.7 714.1,402.1 715.7,401.1Z" fill="#fff"/>
<path d="M645.4,421.8L643.8,422.8 642.5,424.3 641.6,426.3 641.2,428.6 641.2,431.1 641.8,433.6" fill="none" stroke="#141414" stroke-width="1.25"/>
<path d="M715.7,401.1L714.1,402.1 712.8,403.7 711.9,405.6 711.5,407.9 711.6,410.4 712.1,412.9" fill="none" stroke="#141414" stroke-width="1.25"/>
<path d="M645.4,421.8L715.7,401.1" fill="none" stroke="#8a8a8a" stroke-width="0.8"/>
<path d="M641.8,433.6L712.1,412.9" fill="none" stroke="#8a8a8a" stroke-width="0.8"/>
<path d="M679.3,408.1L645.4,421.8 715.7,401.1 749.7,387.5Z" fill="#fff"/>
<path d="M679.3,408.1L645.4,421.8" fill="none" stroke="#141414" stroke-width="1.25"/>
<path d="M749.7,387.5L715.7,401.1" fill="none" stroke="#141414" stroke-width="1.25"/>
<path d="M679.3,408.1L749.7,387.5" fill="none" stroke="#141414" stroke-width="1.25"/>
<path d="M645.4,421.8L715.7,401.1" fill="none" stroke="#8a8a8a" stroke-width="0.8"/>
<path d="M558.6,571.4L672.3,595.5 703.2,586.5 589.5,562.3Z" fill="#fff"/>
<path d="M558.6,571.4L672.3,595.5 703.2,586.5 589.5,562.3 558.6,571.4" fill="none" stroke="#141414" stroke-width="1.25"/>
<path d="M558.7,589.8L672.4,613.9 672.3,595.5 558.6,571.4Z" fill="#fff"/>
<path d="M558.7,589.8L672.4,613.9 672.3,595.5 558.6,571.4 558.7,589.8" fill="none" stroke="#141414" stroke-width="1.25"/>
<path d="M672.4,613.9L672.3,595.5 703.2,586.5 703.3,604.9Z" fill="#fff"/>
<path d="M672.4,613.9L672.3,595.5 703.2,586.5 703.3,604.9 672.4,613.9" fill="none" stroke="#141414" stroke-width="1.25"/>
<path d="M563.8,569.8L677.6,594" fill="none" stroke="#141414" stroke-width="1"/>
<path d="M557.8,465.9L671.6,490 702.5,480.9 588.7,456.8Z" fill="#fff"/>
<path d="M557.8,465.9L671.6,490 702.5,480.9 588.7,456.8 557.8,465.9" fill="none" stroke="#141414" stroke-width="1.25"/>
<path d="M558,484.3L671.7,508.4 671.6,490 557.8,465.9Z" fill="#fff"/>
<path d="M558,484.3L671.7,508.4 671.6,490 557.8,465.9 558,484.3" fill="none" stroke="#141414" stroke-width="1.25"/>
<path d="M671.7,508.4L671.6,490 702.5,480.9 702.6,499.3Z" fill="#fff"/>
<path d="M671.7,508.4L671.6,490 702.5,480.9 702.6,499.3 671.7,508.4" fill="none" stroke="#141414" stroke-width="1.25"/>
<path d="M602.4,572.2L601.2,572.5 599.7,572.8 598.1,573 596.4,573.1 594.7,573.1 593,573.1 591.3,573 589.7,572.8 588.3,572.6 587.1,572.2 586.2,571.9 585.4,571.5 585,571.1 584.9,570.6 585.1,570.2 585.6,569.8 586.3,569.4 587.4,569 588.6,568.7 590.1,568.5 591.7,568.3 593.4,568.2 595.1,568.1 596.8,568.2 598.5,568.3 600.1,568.4 601.5,568.7 602.7,569 603.7,569.4 604.4,569.7 604.8,570.2 604.9,570.6 604.7,571 604.2,571.5 603.5,571.9 602.4,572.2" fill="none" stroke="#141414" stroke-width="1"/>
<path d="M668,586.1L666.7,586.4 665.3,586.7 663.7,586.9 662,587 660.2,587 658.5,587 656.8,586.9 655.3,586.7 653.9,586.5 652.7,586.2 651.7,585.8 651,585.4 650.6,585 650.4,584.5 650.6,584.1 651.1,583.7 651.9,583.3 652.9,582.9 654.2,582.6 655.6,582.4 657.2,582.2 658.9,582.1 660.6,582 662.4,582.1 664,582.2 665.6,582.4 667,582.6 668.2,582.9 669.2,583.3 669.9,583.7 670.3,584.1 670.4,584.5 670.3,585 669.8,585.4 669,585.8 668,586.1" fill="none" stroke="#141414" stroke-width="1"/>
<path d="M618.5,501.5L620.9,502.5 623,504 625,505.9 626.7,508.3 628.2,511 629.3,514.1 630.2,517.5 630.7,521 630.9,524.8 630.8,528.6 630.3,532.5 629.5,536.3 628.4,540.1 627,543.7 625.3,547 623.3,550.1 621.2,552.8 618.9,555.2 616.5,557.1 614,558.6 611.4,559.6 608.8,560.1 606.3,560.1 603.8,559.6 567.7,551.9 565.3,550.9 563.2,549.5 561.2,547.5 559.5,545.2 558,542.4 556.9,539.4 556,536 555.5,532.4 555.3,528.7 555.4,524.8 555.9,521 556.7,517.1 557.8,513.4 559.3,509.8 560.9,506.5 562.9,503.4 565,500.6 567.3,498.3 569.7,496.3 572.3,494.9 574.8,493.9 577.4,493.3 579.9,493.3 582.4,493.9Z" fill="#fff"/>
<path d="M581.3,493.6L617.4,501.2" fill="none" stroke="#141414" stroke-width="1.25"/>
<path d="M568.8,552.2L605,559.9" fill="none" stroke="#141414" stroke-width="1.25"/>
<path d="M611.4,559.6L614,558.6 616.5,557.1 618.9,555.2 621.2,552.8 623.3,550.1 625.3,547 627,543.7 628.4,540.1 629.5,536.3 630.3,532.5 630.8,528.6 630.9,524.8 630.7,521 630.2,517.5 629.3,514.1 628.2,511 626.7,508.3 625,505.9 623,504 620.9,502.5 618.5,501.5 616.1,501 613.6,501 611,501.5 608.4,502.5 605.9,504 603.4,506 601.1,508.3 599,511.1 597.1,514.1 595.4,517.5 594,521.1 592.9,524.8 592.1,528.7 591.6,532.5 591.5,536.4 591.6,540.1 592.2,543.7 593,547 594.2,550.1 595.7,552.8 597.4,555.2 599.3,557.1 601.5,558.6 603.8,559.6 606.3,560.1 608.8,560.1 611.4,559.6" fill="none" stroke="#141414" stroke-width="1.2"/>
<path d="M581.3,493.6L578.8,493.3 576.2,493.5 573.6,494.3 571.1,495.5 568.6,497.2 566.2,499.3 564,501.9 561.9,504.8 560.1,508 558.6,511.5 557.3,515.1 556.3,518.9 555.7,522.8 555.3,526.7 555.3,530.5 555.7,534.1 556.4,537.6 557.4,540.8 558.7,543.8 560.3,546.3 562.1,548.5 564.2,550.2 566.4,551.5 568.8,552.2" fill="none" stroke="#141414" stroke-width="1.2"/>
<path d="M584.5,494.3L582,494 579.5,494.2 576.9,495 574.3,496.2 571.9,497.9 569.5,500 567.3,502.6 565.2,505.5 563.4,508.7 561.8,512.2 560.6,515.8 559.6,519.6 558.9,523.5 558.6,527.4 558.6,531.2 559,534.8 559.7,538.3 560.7,541.5 562,544.5 563.6,547 565.4,549.2 567.4,550.9 569.7,552.2 572.1,552.9" fill="none" stroke="#141414" stroke-width="1.2"/>
<path d="M587.8,494.9L585.3,494.7 582.8,494.9 580.2,495.7 577.6,496.9 575.1,498.6 572.8,500.7 570.5,503.3 568.5,506.2 566.7,509.4 565.1,512.9 563.9,516.5 562.9,520.3 562.2,524.2 561.9,528.1 561.9,531.9 562.3,535.5 563,539 564,542.2 565.3,545.2 566.8,547.7 568.7,549.9 570.7,551.6 573,552.9 575.4,553.6" fill="none" stroke="#141414" stroke-width="1.2"/>
<path d="M591.1,495.6L588.6,495.4 586.1,495.6 583.5,496.4 580.9,497.6 578.4,499.3 576.1,501.4 573.8,504 571.8,506.9 570,510.1 568.4,513.6 567.1,517.2 566.2,521 565.5,524.9 565.2,528.8 565.2,532.6 565.6,536.2 566.2,539.7 567.2,542.9 568.5,545.9 570.1,548.4 572,550.6 574,552.3 576.3,553.6 578.7,554.3" fill="none" stroke="#141414" stroke-width="1.2"/>
<path d="M594.4,496.3L591.9,496.1 589.3,496.3 586.8,497.1 584.2,498.3 581.7,500 579.3,502.1 577.1,504.7 575.1,507.6 573.3,510.8 571.7,514.3 570.4,517.9 569.5,521.7 568.8,525.6 568.5,529.4 568.5,533.3 568.8,536.9 569.5,540.4 570.5,543.6 571.8,546.6 573.4,549.1 575.3,551.3 577.3,553 579.6,554.3 581.9,555" fill="none" stroke="#141414" stroke-width="1.2"/>
<path d="M597.7,497L595.2,496.8 592.6,497 590.1,497.8 587.5,499 585,500.7 582.6,502.8 580.4,505.4 578.4,508.3 576.5,511.5 575,515 573.7,518.6 572.7,522.4 572.1,526.3 571.8,530.1 571.8,533.9 572.1,537.6 572.8,541.1 573.8,544.3 575.1,547.3 576.7,549.8 578.5,552 580.6,553.7 582.8,555 585.2,555.7" fill="none" stroke="#141414" stroke-width="1.2"/>
<path d="M601,497.7L598.5,497.5 595.9,497.7 593.3,498.5 590.8,499.7 588.3,501.4 585.9,503.5 583.7,506.1 581.7,509 579.8,512.2 578.3,515.7 577,519.3 576,523.1 575.4,527 575.1,530.8 575.1,534.6 575.4,538.3 576.1,541.8 577.1,545 578.4,547.9 580,550.5 581.8,552.7 583.9,554.4 586.1,555.7 588.5,556.4" fill="none" stroke="#141414" stroke-width="1.2"/>
<path d="M604.3,498.4L601.8,498.2 599.2,498.4 596.6,499.2 594.1,500.4 591.6,502.1 589.2,504.2 587,506.8 584.9,509.7 583.1,512.9 581.6,516.4 580.3,520 579.3,523.8 578.7,527.7 578.3,531.5 578.4,535.3 578.7,539 579.4,542.5 580.4,545.7 581.7,548.6 583.3,551.2 585.1,553.4 587.2,555.1 589.4,556.4 591.8,557.1" fill="none" stroke="#141414" stroke-width="1.2"/>
<path d="M607.6,499.1L605.1,498.9 602.5,499.1 599.9,499.8 597.4,501.1 594.9,502.8 592.5,504.9 590.3,507.5 588.2,510.4 586.4,513.6 584.9,517 583.6,520.7 582.6,524.5 581.9,528.4 581.6,532.2 581.6,536 582,539.7 582.7,543.2 583.7,546.4 585,549.3 586.6,551.9 588.4,554.1 590.5,555.8 592.7,557.1 595.1,557.8" fill="none" stroke="#141414" stroke-width="1.2"/>
<path d="M610.8,499.8L608.3,499.6 605.8,499.8 603.2,500.5 600.6,501.8 598.2,503.5 595.8,505.6 593.5,508.2 591.5,511.1 589.7,514.3 588.1,517.7 586.9,521.4 585.9,525.2 585.2,529.1 584.9,532.9 584.9,536.7 585.3,540.4 586,543.9 587,547.1 588.3,550 589.9,552.6 591.7,554.8 593.7,556.5 596,557.8 598.4,558.5" fill="none" stroke="#141414" stroke-width="1.2"/>
<path d="M614.1,500.5L611.6,500.3 609.1,500.5 606.5,501.2 603.9,502.5 601.4,504.2 599.1,506.3 596.8,508.9 594.8,511.8 593,515 591.4,518.4 590.1,522.1 589.2,525.9 588.5,529.8 588.2,533.6 588.2,537.4 588.6,541.1 589.3,544.6 590.3,547.8 591.6,550.7 593.1,553.3 595,555.5 597,557.2 599.3,558.5 601.7,559.2" fill="none" stroke="#141414" stroke-width="1.2"/>
<path d="M579.5,576.7L580,579.6 581.1,581.7 582.8,582.9 613.7,589.5 612,588.3 610.8,586.1 610.4,583.3Z" fill="#fff"/>
<path d="M579.5,576.7L580,579.6 581.1,581.7 582.8,582.9" fill="none" stroke="#141414" stroke-width="1.25"/>
<path d="M610.4,583.3L610.8,586.1 612,588.3 613.7,589.5" fill="none" stroke="#141414" stroke-width="1.25"/>
<path d="M579.5,576.7L610.4,583.3" fill="none" stroke="#141414" stroke-width="1.25"/>
<path d="M582.8,582.9L613.7,589.5" fill="none" stroke="#141414" stroke-width="1.25"/>
<path d="M594.2,491.5L592.1,491.5 623,498.1 625,498.1Z" fill="#fff"/>
<path d="M594.2,491.5L592.1,491.5" fill="none" stroke="#141414" stroke-width="1.25"/>
<path d="M625,498.1L623,498.1" fill="none" stroke="#141414" stroke-width="1.25"/>
<path d="M594.2,491.5L625,498.1" fill="none" stroke="#141414" stroke-width="1.25"/>
<path d="M592.1,491.5L623,498.1" fill="none" stroke="#141414" stroke-width="1.25"/>
<path d="M579,503.1L579.5,576.7 610.4,583.3 609.9,509.7Z" fill="#fff"/>
<path d="M579,503.1L579.5,576.7" fill="none" stroke="#141414" stroke-width="1.25"/>
<path d="M609.9,509.7L610.4,583.3" fill="none" stroke="#141414" stroke-width="1.25"/>
<path d="M579,503.1L609.9,509.7" fill="none" stroke="#141414" stroke-width="1.25"/>
<path d="M579.5,576.7L610.4,583.3" fill="none" stroke="#141414" stroke-width="1.25"/>
<path d="M592.1,491.5L584.2,493.9 615.1,500.4 623,498.1Z" fill="#fff"/>
<path d="M592.1,491.5L584.2,493.9" fill="none" stroke="#141414" stroke-width="1.25"/>
<path d="M623,498.1L615.1,500.4" fill="none" stroke="#141414" stroke-width="1.25"/>
<path d="M592.1,491.5L623,498.1" fill="none" stroke="#141414" stroke-width="1.25"/>
<path d="M584.2,493.9L615.1,500.4" fill="none" stroke="#141414" stroke-width="1.25"/>
<path d="M584.2,493.9L582.2,495 580.5,497.2 579.4,500.1 579,503.1 609.9,509.7 610.3,506.6 611.4,503.8 613.1,501.6 615.1,500.4Z" fill="#fff"/>
<path d="M584.2,493.9L582.2,495 580.5,497.2 579.4,500.1 579,503.1" fill="none" stroke="#141414" stroke-width="1.25"/>
<path d="M615.1,500.4L613.1,501.6 611.4,503.8 610.3,506.6 609.9,509.7" fill="none" stroke="#141414" stroke-width="1.25"/>
<path d="M584.2,493.9L615.1,500.4" fill="none" stroke="#141414" stroke-width="1.25"/>
<path d="M579,503.1L609.9,509.7" fill="none" stroke="#141414" stroke-width="1.25"/>
<path d="M623.6,587.2L625.6,586 627.3,583.8 628.5,581 628.8,577.9 628.3,504.3 627.9,501.5 626.8,499.3 625,498.1 623,498.1 615.1,500.4 613.1,501.6 611.4,503.8 610.3,506.6 609.9,509.7 610.4,583.3 610.8,586.1 612,588.3 613.7,589.5 615.7,589.5Z" fill="#fff"/>
<path d="M623.6,587.2L625.6,586 627.3,583.8 628.5,581 628.8,577.9 628.3,504.3 627.9,501.5 626.8,499.3 625,498.1 623,498.1 615.1,500.4 613.1,501.6 611.4,503.8 610.3,506.6 609.9,509.7 610.4,583.3 610.8,586.1 612,588.3 613.7,589.5 615.7,589.5 623.6,587.2" fill="none" stroke="#141414" stroke-width="1.25"/>
<path d="M709.7,520.9L712,521.9 714.2,523.4 716.1,525.3 717.9,527.6 719.3,530.4 720.5,533.5 721.3,536.8 721.9,540.4 722.1,544.1 721.9,548 721.4,551.8 720.6,555.7 719.5,559.4 718.1,563 716.4,566.4 714.5,569.4 712.4,572.2 710.1,574.5 707.6,576.5 705.1,578 702.5,579 700,579.5 697.4,579.5 695,579 634.7,566.2 632.4,565.2 630.2,563.7 628.3,561.8 626.5,559.4 625.1,556.7 623.9,553.6 623.1,550.2 622.5,546.7 622.3,542.9 622.5,539.1 623,535.2 623.8,531.4 624.9,527.6 626.3,524 628,520.7 629.9,517.6 632,514.9 634.3,512.5 636.8,510.6 639.3,509.1 641.9,508.1 644.4,507.6 647,507.6 649.4,508.1Z" fill="#fff"/>
<path d="M648.3,507.8L708.6,520.6" fill="none" stroke="#141414" stroke-width="1.25"/>
<path d="M635.8,566.5L696.1,579.3" fill="none" stroke="#141414" stroke-width="1.25"/>
<path d="M702.5,579L705.1,578 707.6,576.5 710.1,574.5 712.4,572.2 714.5,569.4 716.4,566.4 718.1,563 719.5,559.4 720.6,555.7 721.4,551.8 721.9,548 722.1,544.1 721.9,540.4 721.3,536.8 720.5,533.5 719.3,530.4 717.9,527.6 716.1,525.3 714.2,523.4 712,521.9 709.7,520.9 707.2,520.4 704.7,520.4 702.1,520.9 699.6,521.9 697,523.4 694.6,525.3 692.3,527.7 690.2,530.4 688.2,533.5 686.6,536.8 685.1,540.4 684,544.2 683.2,548 682.7,551.9 682.6,555.7 682.8,559.5 683.3,563 684.2,566.4 685.3,569.5 686.8,572.2 688.5,574.6 690.5,576.5 692.6,578 695,579 697.4,579.5 700,579.5 702.5,579" fill="none" stroke="#141414" stroke-width="1.2"/>
<path d="M648.3,507.8L645.8,507.5 643.2,507.8 640.7,508.5 638.1,509.7 635.6,511.4 633.2,513.6 631,516.1 629,519 627.2,522.2 625.6,525.7 624.3,529.4 623.3,533.2 622.7,537 622.4,540.9 622.4,544.7 622.7,548.4 623.4,551.8 624.4,555.1 625.7,558 627.3,560.6 629.1,562.7 631.2,564.4 633.4,565.7 635.8,566.5" fill="none" stroke="#141414" stroke-width="1.2"/>
<path d="M651.6,508.5L649.1,508.2 646.6,508.5 644,509.2 641.5,510.4 639,512.1 636.6,514.3 634.4,516.8 632.3,519.7 630.5,522.9 628.9,526.4 627.7,530.1 626.7,533.9 626,537.7 625.7,541.6 625.7,545.4 626.1,549.1 626.8,552.6 627.8,555.8 629.1,558.7 630.7,561.3 632.5,563.4 634.6,565.2 636.8,566.4 639.2,567.2" fill="none" stroke="#141414" stroke-width="1.2"/>
<path d="M655,509.2L652.5,508.9 649.9,509.2 647.4,509.9 644.8,511.2 642.3,512.9 639.9,515 637.7,517.5 635.7,520.4 633.9,523.7 632.3,527.1 631,530.8 630,534.6 629.4,538.4 629.1,542.3 629.1,546.1 629.4,549.8 630.1,553.3 631.1,556.5 632.4,559.4 634,562 635.8,564.1 637.9,565.9 640.1,567.1 642.5,567.9" fill="none" stroke="#141414" stroke-width="1.2"/>
<path d="M658.3,509.9L655.8,509.6 653.3,509.9 650.7,510.6 648.1,511.9 645.7,513.6 643.3,515.7 641.1,518.2 639,521.1 637.2,524.4 635.6,527.8 634.4,531.5 633.4,535.3 632.7,539.2 632.4,543 632.4,546.8 632.8,550.5 633.5,554 634.5,557.2 635.8,560.1 637.4,562.7 639.2,564.9 641.2,566.6 643.5,567.8 645.9,568.6" fill="none" stroke="#141414" stroke-width="1.2"/>
<path d="M661.7,510.6L659.2,510.4 656.6,510.6 654.1,511.3 651.5,512.6 649,514.3 646.6,516.4 644.4,519 642.4,521.9 640.5,525.1 639,528.5 637.7,532.2 636.7,536 636.1,539.9 635.8,543.7 635.8,547.5 636.1,551.2 636.8,554.7 637.8,557.9 639.1,560.8 640.7,563.4 642.5,565.6 644.6,567.3 646.8,568.6 649.2,569.3" fill="none" stroke="#141414" stroke-width="1.2"/>
<path d="M665,511.3L662.5,511.1 660,511.3 657.4,512.1 654.8,513.3 652.4,515 650,517.1 647.7,519.7 645.7,522.6 643.9,525.8 642.3,529.3 641.1,532.9 640.1,536.7 639.4,540.6 639.1,544.4 639.1,548.2 639.5,551.9 640.2,555.4 641.2,558.6 642.5,561.5 644.1,564.1 645.9,566.3 647.9,568 650.2,569.3 652.6,570" fill="none" stroke="#141414" stroke-width="1.2"/>
<path d="M668.4,512L665.9,511.8 663.3,512 660.7,512.8 658.2,514 655.7,515.7 653.3,517.8 651.1,520.4 649.1,523.3 647.2,526.5 645.7,530 644.4,533.6 643.4,537.4 642.8,541.3 642.5,545.2 642.5,549 642.8,552.6 643.5,556.1 644.5,559.3 645.8,562.3 647.4,564.8 649.2,567 651.3,568.7 653.5,570 655.9,570.7" fill="none" stroke="#141414" stroke-width="1.2"/>
<path d="M671.7,512.8L669.2,512.5 666.7,512.7 664.1,513.5 661.5,514.7 659.1,516.4 656.7,518.5 654.4,521.1 652.4,524 650.6,527.2 649,530.7 647.8,534.3 646.8,538.1 646.1,542 645.8,545.9 645.8,549.7 646.2,553.3 646.9,556.8 647.9,560 649.2,563 650.7,565.5 652.6,567.7 654.6,569.4 656.9,570.7 659.3,571.5" fill="none" stroke="#141414" stroke-width="1.2"/>
<path d="M675.1,513.5L672.6,513.2 670,513.4 667.4,514.2 664.9,515.4 662.4,517.1 660,519.3 657.8,521.8 655.8,524.7 653.9,527.9 652.4,531.4 651.1,535 650.1,538.8 649.5,542.7 649.2,546.6 649.2,550.4 649.5,554 650.2,557.5 651.2,560.8 652.5,563.7 654.1,566.2 655.9,568.4 658,570.1 660.2,571.4 662.6,572.2" fill="none" stroke="#141414" stroke-width="1.2"/>
<path d="M678.4,514.2L675.9,513.9 673.4,514.2 670.8,514.9 668.2,516.1 665.7,517.8 663.4,520 661.1,522.5 659.1,525.4 657.3,528.6 655.7,532.1 654.5,535.8 653.5,539.6 652.8,543.4 652.5,547.3 652.5,551.1 652.9,554.8 653.6,558.2 654.6,561.5 655.9,564.4 657.4,567 659.3,569.1 661.3,570.8 663.6,572.1 666,572.9" fill="none" stroke="#141414" stroke-width="1.2"/>
<path d="M681.8,514.9L679.3,514.6 676.7,514.9 674.1,515.6 671.6,516.8 669.1,518.5 666.7,520.7 664.5,523.2 662.5,526.1 660.6,529.3 659.1,532.8 657.8,536.5 656.8,540.3 656.2,544.1 655.9,548 655.9,551.8 656.2,555.5 656.9,559 657.9,562.2 659.2,565.1 660.8,567.7 662.6,569.8 664.7,571.6 666.9,572.8 669.3,573.6" fill="none" stroke="#141414" stroke-width="1.2"/>
<path d="M685.1,515.6L682.6,515.3 680.1,515.6 677.5,516.3 674.9,517.5 672.4,519.2 670.1,521.4 667.8,523.9 665.8,526.8 664,530 662.4,533.5 661.1,537.2 660.2,541 659.5,544.8 659.2,548.7 659.2,552.5 659.6,556.2 660.3,559.7 661.3,562.9 662.6,565.8 664.1,568.4 666,570.5 668,572.3 670.3,573.5 672.7,574.3" fill="none" stroke="#141414" stroke-width="1.2"/>
<path d="M688.5,516.3L686,516 683.4,516.3 680.8,517 678.3,518.3 675.8,520 673.4,522.1 671.2,524.6 669.1,527.5 667.3,530.8 665.8,534.2 664.5,537.9 663.5,541.7 662.9,545.5 662.5,549.4 662.6,553.2 662.9,556.9 663.6,560.4 664.6,563.6 665.9,566.5 667.5,569.1 669.3,571.3 671.4,573 673.6,574.2 676,575" fill="none" stroke="#141414" stroke-width="1.2"/>
<path d="M691.8,517L689.3,516.8 686.8,517 684.2,517.7 681.6,519 679.1,520.7 676.8,522.8 674.5,525.4 672.5,528.3 670.7,531.5 669.1,534.9 667.8,538.6 666.9,542.4 666.2,546.3 665.9,550.1 665.9,553.9 666.3,557.6 666.9,561.1 667.9,564.3 669.3,567.2 670.8,569.8 672.7,572 674.7,573.7 677,574.9 679.4,575.7" fill="none" stroke="#141414" stroke-width="1.2"/>
<path d="M695.2,517.7L692.7,517.5 690.1,517.7 687.5,518.4 685,519.7 682.5,521.4 680.1,523.5 677.9,526.1 675.8,529 674,532.2 672.5,535.6 671.2,539.3 670.2,543.1 669.6,547 669.2,550.8 669.3,554.6 669.6,558.3 670.3,561.8 671.3,565 672.6,567.9 674.2,570.5 676,572.7 678.1,574.4 680.3,575.7 682.7,576.4" fill="none" stroke="#141414" stroke-width="1.2"/>
<path d="M698.5,518.4L696,518.2 693.5,518.4 690.9,519.2 688.3,520.4 685.8,522.1 683.5,524.2 681.2,526.8 679.2,529.7 677.4,532.9 675.8,536.4 674.5,540 673.6,543.8 672.9,547.7 672.6,551.5 672.6,555.4 673,559 673.6,562.5 674.6,565.7 675.9,568.7 677.5,571.2 679.4,573.4 681.4,575.1 683.7,576.4 686.1,577.1" fill="none" stroke="#141414" stroke-width="1.2"/>
<path d="M701.9,519.2L699.4,518.9 696.8,519.1 694.2,519.9 691.7,521.1 689.2,522.8 686.8,524.9 684.6,527.5 682.5,530.4 680.7,533.6 679.2,537.1 677.9,540.7 676.9,544.5 676.3,548.4 675.9,552.3 676,556.1 676.3,559.7 677,563.2 678,566.4 679.3,569.4 680.9,571.9 682.7,574.1 684.8,575.8 687,577.1 689.4,577.8" fill="none" stroke="#141414" stroke-width="1.2"/>
<path d="M705.2,519.9L702.7,519.6 700.2,519.8 697.6,520.6 695,521.8 692.5,523.5 690.2,525.7 687.9,528.2 685.9,531.1 684.1,534.3 682.5,537.8 681.2,541.4 680.3,545.2 679.6,549.1 679.3,553 679.3,556.8 679.7,560.4 680.3,563.9 681.3,567.2 682.6,570.1 684.2,572.6 686.1,574.8 688.1,576.5 690.4,577.8 692.8,578.6" fill="none" stroke="#141414" stroke-width="1.2"/>
<path d="M701.4,687.2L704,685.5 706.1,682.8 707.5,679.3 777.8,658.7 776.5,662.1 774.4,664.8 771.8,666.6Z" fill="#fff"/>
<path d="M701.4,687.2L704,685.5 706.1,682.8 707.5,679.3" fill="none" stroke="#141414" stroke-width="1.25"/>
<path d="M771.8,666.6L774.4,664.8 776.5,662.1 777.8,658.7" fill="none" stroke="#141414" stroke-width="1.25"/>
<path d="M701.4,687.2L771.8,666.6" fill="none" stroke="#141414" stroke-width="1.25"/>
<path d="M707.5,679.3L777.8,658.7" fill="none" stroke="#8a8a8a" stroke-width="0.8"/>
<path d="M690.4,444.7L660.8,452 731.1,431.4 760.7,424.1Z" fill="#fff"/>
<path d="M690.4,444.7L660.8,452" fill="none" stroke="#141414" stroke-width="1.25"/>
<path d="M760.7,424.1L731.1,431.4" fill="none" stroke="#141414" stroke-width="1.25"/>
<path d="M690.4,444.7L760.7,424.1" fill="none" stroke="#8a8a8a" stroke-width="0.8"/>
<path d="M660.8,452L731.1,431.4" fill="none" stroke="#141414" stroke-width="1.25"/>
<path d="M707.5,679.3L710,669.4 712.5,656.9 714.7,644.1 716.5,631.2 717.9,618.2 718.9,605 719.6,591.6 719.9,578.2 719.8,564.7 719.3,551.1 718.5,537.4 717.2,523.7 715.6,510 713.7,496.3 711.3,482.6 708.6,469 706,458 776.3,437.3 779,448.3 781.7,462 784,475.7 786,489.4 787.6,503.1 788.8,516.8 789.7,530.4 790.2,544 790.2,557.5 790,571 789.3,584.3 788.2,597.5 786.8,610.6 785,623.5 782.9,636.2 780.3,648.8 777.8,658.7Z" fill="#fff"/>
<path d="M707.5,679.3L710,669.4 712.5,656.9 714.7,644.1 716.5,631.2 717.9,618.2 718.9,605 719.6,591.6 719.9,578.2 719.8,564.7 719.3,551.1 718.5,537.4 717.2,523.7 715.6,510 713.7,496.3 711.3,482.6 708.6,469 706,458" fill="none" stroke="#141414" stroke-width="1.25"/>
<path d="M777.8,658.7L780.3,648.8 782.9,636.2 785,623.5 786.8,610.6 788.2,597.5 789.3,584.3 790,571 790.2,557.5 790.2,544 789.7,530.4 788.8,516.8 787.6,503.1 786,489.4 784,475.7 781.7,462 779,448.3 776.3,437.3" fill="none" stroke="#141414" stroke-width="1.25"/>
<path d="M707.5,679.3L777.8,658.7" fill="none" stroke="#8a8a8a" stroke-width="0.8"/>
<path d="M706,458L776.3,437.3" fill="none" stroke="#8a8a8a" stroke-width="0.8"/>
<path d="M706,458L704.6,453.9 702.4,450.3 699.8,447.4 696.7,445.5 693.5,444.5 690.4,444.7 760.7,424.1 763.9,423.9 767.1,424.8 770.1,426.8 772.8,429.7 774.9,433.3 776.3,437.3Z" fill="#fff"/>
<path d="M706,458L704.6,453.9 702.4,450.3 699.8,447.4 696.7,445.5 693.5,444.5 690.4,444.7" fill="none" stroke="#141414" stroke-width="1.25"/>
<path d="M776.3,437.3L774.9,433.3 772.8,429.7 770.1,426.8 767.1,424.8 763.9,423.9 760.7,424.1" fill="none" stroke="#141414" stroke-width="1.25"/>
<path d="M706,458L776.3,437.3" fill="none" stroke="#8a8a8a" stroke-width="0.8"/>
<path d="M690.4,444.7L760.7,424.1" fill="none" stroke="#8a8a8a" stroke-width="0.8"/>
<path d="M692,686L695.2,687.5 698.4,687.9 701.4,687.2 704,685.5 706.1,682.8 707.5,679.3 710,669.4 712.5,656.9 714.7,644.1 716.5,631.2 717.9,618.2 718.9,605 719.6,591.6 719.9,578.2 719.8,564.7 719.3,551.1 718.5,537.4 717.2,523.7 715.6,510 713.7,496.3 711.3,482.6 708.6,469 706,458 704.6,453.9 702.4,450.3 699.8,447.4 696.7,445.5 693.5,444.5 690.4,444.7 660.8,452 658.7,452.9 657,454.5 655.7,456.7 655,459.4 654.8,462.3 655.3,465.3 657.9,476.3 660.1,487.5 662.1,498.7 663.7,509.9 665,521.1 666,532.4 666.7,543.6 667.1,554.7 667.1,565.8 666.9,576.8 666.4,587.7 665.5,598.5 664.3,609.2 662.9,619.8 661.1,630.3 659,640.5 656.5,650.4 656.1,653.3 656.3,656.3 657.1,659.2 658.4,662 660.1,664.3 662.2,666.1Z" fill="#fff" stroke="#141414" stroke-width="1.25"/>
<path d="M309.2,808.7L307.9,813.9 307.8,819.6 308.8,825.4 311,830.9 314.2,835.7 318.1,839.4 388.4,818.7 384.5,815 381.4,810.2 379.2,804.7 378.1,798.9 378.3,793.2 379.6,788Z" fill="#fff"/>
<path d="M309.2,808.7L307.9,813.9 307.8,819.6 308.8,825.4 311,830.9 314.2,835.7 318.1,839.4" fill="none" stroke="#141414" stroke-width="1.25"/>
<path d="M379.6,788L378.3,793.2 378.1,798.9 379.2,804.7 381.4,810.2 384.5,815 388.4,818.7" fill="none" stroke="#141414" stroke-width="1.25"/>
<path d="M309.2,808.7L379.6,788" fill="none" stroke="#8a8a8a" stroke-width="0.8"/>
<path d="M318.1,839.4L388.4,818.7" fill="none" stroke="#8a8a8a" stroke-width="0.8"/>
<path d="M325.2,768.3L309.2,808.7 379.6,788 395.6,747.6Z" fill="#fff"/>
<path d="M325.2,768.3L309.2,808.7" fill="none" stroke="#141414" stroke-width="1.25"/>
<path d="M395.6,747.6L379.6,788" fill="none" stroke="#141414" stroke-width="1.25"/>
<path d="M325.2,768.3L395.6,747.6" fill="none" stroke="#8a8a8a" stroke-width="0.8"/>
<path d="M309.2,808.7L379.6,788" fill="none" stroke="#8a8a8a" stroke-width="0.8"/>
<path d="M329.3,764.3L327.6,765.1 326.2,766.4 325.2,768.3 395.6,747.6 396.6,745.8 398,744.4 399.7,743.6Z" fill="#fff"/>
<path d="M329.3,764.3L327.6,765.1 326.2,766.4 325.2,768.3" fill="none" stroke="#141414" stroke-width="1.25"/>
<path d="M399.7,743.6L398,744.4 396.6,745.8 395.6,747.6" fill="none" stroke="#141414" stroke-width="1.25"/>
<path d="M329.3,764.3L399.7,743.6" fill="none" stroke="#141414" stroke-width="1.25"/>
<path d="M325.2,768.3L395.6,747.6" fill="none" stroke="#8a8a8a" stroke-width="0.8"/>
<path d="M381.3,779.9L380.9,783.3 379.7,786.2 377.9,788.3 375.5,789.5 445.9,768.9 448.2,767.7 450.1,765.5 451.3,762.6 451.7,759.2Z" fill="#fff"/>
<path d="M381.3,779.9L380.9,783.3 379.7,786.2 377.9,788.3 375.5,789.5" fill="none" stroke="#141414" stroke-width="1.25"/>
<path d="M451.7,759.2L451.3,762.6 450.1,765.5 448.2,767.7 445.9,768.9" fill="none" stroke="#141414" stroke-width="1.25"/>
<path d="M381.3,779.9L451.7,759.2" fill="none" stroke="#8a8a8a" stroke-width="0.8"/>
<path d="M375.5,789.5L445.9,768.9" fill="none" stroke="#141414" stroke-width="1.25"/>
<path d="M318.1,839.4L331.3,849.2 341.4,855.6 351.6,861.6 361.9,867.1 372.3,872.2 382.7,876.8 393.2,881 403.7,884.7 414.3,887.9 424.9,890.6 435.5,892.9 446.1,894.6 456.6,895.9 467.2,896.7 477.6,897 488.1,896.8 498.4,896.1 508.6,894.9 518.8,893.2 528.8,891.1 599.2,870.4 589.1,872.6 579,874.3 568.8,875.4 558.4,876.1 548,876.3 537.5,876 527,875.2 516.5,874 505.9,872.2 495.3,870 484.7,867.2 474.1,864 463.6,860.3 453.1,856.2 442.6,851.6 432.3,846.5 422,840.9 411.8,834.9 401.7,828.5 388.4,818.7Z" fill="#fff"/>
<path d="M318.1,839.4L331.3,849.2 341.4,855.6 351.6,861.6 361.9,867.1 372.3,872.2 382.7,876.8 393.2,881 403.7,884.7 414.3,887.9 424.9,890.6 435.5,892.9 446.1,894.6 456.6,895.9 467.2,896.7 477.6,897 488.1,896.8 498.4,896.1 508.6,894.9 518.8,893.2 528.8,891.1" fill="none" stroke="#141414" stroke-width="1.25"/>
<path d="M388.4,818.7L401.7,828.5 411.8,834.9 422,840.9 432.3,846.5 442.6,851.6 453.1,856.2 463.6,860.3 474.1,864 484.7,867.2 495.3,870 505.9,872.2 516.5,874 527,875.2 537.5,876 548,876.3 558.4,876.1 568.8,875.4 579,874.3 589.1,872.6 599.2,870.4" fill="none" stroke="#141414" stroke-width="1.25"/>
<path d="M318.1,839.4L388.4,818.7" fill="none" stroke="#8a8a8a" stroke-width="0.8"/>
<path d="M528.8,891.1L599.2,870.4" fill="none" stroke="#141414" stroke-width="1.25"/>
<path d="M380.4,648.3L381.3,779.9 451.7,759.2 450.8,627.6Z" fill="#fff"/>
<path d="M380.4,648.3L381.3,779.9" fill="none" stroke="#141414" stroke-width="1.25"/>
<path d="M450.8,627.6L451.7,759.2" fill="none" stroke="#141414" stroke-width="1.25"/>
<path d="M380.4,648.3L450.8,627.6" fill="none" stroke="#8a8a8a" stroke-width="0.8"/>
<path d="M381.3,779.9L451.7,759.2" fill="none" stroke="#8a8a8a" stroke-width="0.8"/>
<path d="M383.2,644.2L382.3,644.5 381.5,645.1 380.9,645.9 380.5,647 380.4,648.3 450.8,627.6 450.9,626.4 451.3,625.3 451.8,624.4 452.6,623.8 453.5,623.5Z" fill="#fff"/>
<path d="M383.2,644.2L382.3,644.5 381.5,645.1 380.9,645.9 380.5,647 380.4,648.3" fill="none" stroke="#141414" stroke-width="1.25"/>
<path d="M453.5,623.5L452.6,623.8 451.8,624.4 451.3,625.3 450.9,626.4 450.8,627.6" fill="none" stroke="#141414" stroke-width="1.25"/>
<path d="M383.2,644.2L453.5,623.5" fill="none" stroke="#141414" stroke-width="1.25"/>
<path d="M380.4,648.3L450.8,627.6" fill="none" stroke="#8a8a8a" stroke-width="0.8"/>
<path d="M524,805.8L513.5,809.3 583.9,788.7 594.4,785.1Z" fill="#fff"/>
<path d="M524,805.8L513.5,809.3" fill="none" stroke="#141414" stroke-width="1.25"/>
<path d="M594.4,785.1L583.9,788.7" fill="none" stroke="#141414" stroke-width="1.25"/>
<path d="M524,805.8L594.4,785.1" fill="none" stroke="#141414" stroke-width="1.25"/>
<path d="M513.5,809.3L583.9,788.7" fill="none" stroke="#141414" stroke-width="1.25"/>
<path d="M357.6,787.5L355.3,786.5 353,786.2 350.8,786.7 421.2,766.1 423.4,765.6 425.6,765.8 427.9,766.9Z" fill="#fff"/>
<path d="M357.6,787.5L355.3,786.5 353,786.2 350.8,786.7" fill="none" stroke="#141414" stroke-width="1.25"/>
<path d="M427.9,766.9L425.6,765.8 423.4,765.6 421.2,766.1" fill="none" stroke="#141414" stroke-width="1.25"/>
<path d="M357.6,787.5L427.9,766.9" fill="none" stroke="#8a8a8a" stroke-width="0.8"/>
<path d="M350.8,786.7L421.2,766.1" fill="none" stroke="#141414" stroke-width="1.25"/>
<path d="M501.6,818.1L493.5,819.7 485.2,820.7 476.8,821.2 468.3,821.4 459.8,821.2 451.2,820.6 442.6,819.6 434,818.1 425.4,816.3 416.8,814.1 408.2,811.4 399.6,808.4 391,805 382.5,801.2 374.1,797.1 365.7,792.5 357.6,787.5 427.9,766.9 436.1,771.9 444.4,776.4 452.9,780.6 461.4,784.4 469.9,787.8 478.5,790.8 487.1,793.4 495.7,795.6 504.4,797.5 513,798.9 521.6,799.9 530.2,800.6 538.7,800.8 547.2,800.6 555.6,800 563.9,799 572,797.4Z" fill="#fff"/>
<path d="M501.6,818.1L493.5,819.7 485.2,820.7 476.8,821.2 468.3,821.4 459.8,821.2 451.2,820.6 442.6,819.6 434,818.1 425.4,816.3 416.8,814.1 408.2,811.4 399.6,808.4 391,805 382.5,801.2 374.1,797.1 365.7,792.5 357.6,787.5" fill="none" stroke="#141414" stroke-width="1.25"/>
<path d="M572,797.4L563.9,799 555.6,800 547.2,800.6 538.7,800.8 530.2,800.6 521.6,799.9 513,798.9 504.4,797.5 495.7,795.6 487.1,793.4 478.5,790.8 469.9,787.8 461.4,784.4 452.9,780.6 444.4,776.4 436.1,771.9 427.9,766.9" fill="none" stroke="#141414" stroke-width="1.25"/>
<path d="M501.6,818.1L572,797.4" fill="none" stroke="#8a8a8a" stroke-width="0.8"/>
<path d="M357.6,787.5L427.9,766.9" fill="none" stroke="#8a8a8a" stroke-width="0.8"/>
<path d="M516.2,886.4L519.1,885.2 521.5,883.1 523.3,880 524.3,876.3 524.5,872.2 523.8,868.1 594.1,847.4 594.8,851.6 594.7,855.7 593.6,859.4 591.9,862.4 589.4,864.6 586.5,865.7Z" fill="#fff"/>
<path d="M516.2,886.4L519.1,885.2 521.5,883.1 523.3,880 524.3,876.3 524.5,872.2 523.8,868.1" fill="none" stroke="#141414" stroke-width="1.25"/>
<path d="M586.5,865.7L589.4,864.6 591.9,862.4 593.6,859.4 594.7,855.7 594.8,851.6 594.1,847.4" fill="none" stroke="#141414" stroke-width="1.25"/>
<path d="M516.2,886.4L586.5,865.7" fill="none" stroke="#141414" stroke-width="1.25"/>
<path d="M523.8,868.1L594.1,847.4" fill="none" stroke="#8a8a8a" stroke-width="0.8"/>
<path d="M512.9,827.7L511.9,824.8 510.3,822.2 508.4,820.2 506.2,818.8 503.9,818 501.6,818.1 572,797.4 574.3,797.4 576.6,798.1 578.8,799.5 580.7,801.6 582.2,804.1 583.3,807Z" fill="#fff"/>
<path d="M512.9,827.7L511.9,824.8 510.3,822.2 508.4,820.2 506.2,818.8 503.9,818 501.6,818.1" fill="none" stroke="#141414" stroke-width="1.25"/>
<path d="M583.3,807L582.2,804.1 580.7,801.6 578.8,799.5 576.6,798.1 574.3,797.4 572,797.4" fill="none" stroke="#141414" stroke-width="1.25"/>
<path d="M512.9,827.7L583.3,807" fill="none" stroke="#8a8a8a" stroke-width="0.8"/>
<path d="M501.6,818.1L572,797.4" fill="none" stroke="#8a8a8a" stroke-width="0.8"/>
<path d="M523.8,868.1L512.9,827.7 583.3,807 594.1,847.4Z" fill="#fff"/>
<path d="M523.8,868.1L512.9,827.7" fill="none" stroke="#141414" stroke-width="1.25"/>
<path d="M594.1,847.4L583.3,807" fill="none" stroke="#141414" stroke-width="1.25"/>
<path d="M523.8,868.1L594.1,847.4" fill="none" stroke="#8a8a8a" stroke-width="0.8"/>
<path d="M512.9,827.7L583.3,807" fill="none" stroke="#8a8a8a" stroke-width="0.8"/>
<path d="M336.1,828.2L335.4,832.1 335.6,836.3 336.7,840.4 338.5,844.2 341,847.4 343.9,849.8 352.1,854.9 362.3,860.4 372.6,865.5 383,870.1 393.4,874.2 403.9,877.9 414.4,881.1 424.9,883.8 435.4,886.1 445.9,887.8 456.4,889.1 466.9,889.8 477.3,890.1 487.6,889.9 497.9,889.2 508,888 516.2,886.4 519.1,885.2 521.5,883.1 523.3,880 524.3,876.3 524.5,872.2 523.8,868.1 512.9,827.7 511.9,824.8 510.3,822.2 508.4,820.2 506.2,818.8 503.9,818 501.6,818.1 493.5,819.7 485.2,820.7 476.8,821.2 468.3,821.4 459.8,821.2 451.2,820.6 442.6,819.6 434,818.1 425.4,816.3 416.8,814.1 408.2,811.4 399.6,808.4 391,805 382.5,801.2 374.1,797.1 365.7,792.5 357.6,787.5 355.3,786.5 353,786.2 350.8,786.7 348.9,788 347.4,789.9 346.4,792.3Z" fill="#fff" stroke="#141414" stroke-width="1.25"/>
<path d="M413.1,641L414.1,787.2 445,778.2 444,632Z" fill="#fff"/>
<path d="M413.1,641L414.1,787.2 445,778.2 444,632 413.1,641" fill="none" stroke="#141414" stroke-width="1.25"/>
<path d="M398.8,638L399.8,784.2 414.1,787.2 413.1,641Z" fill="#fff"/>
<path d="M398.8,638L399.8,784.2 414.1,787.2 413.1,641 398.8,638" fill="none" stroke="#141414" stroke-width="1.25"/>
<path d="M398.8,638L413.1,641 444,632 429.7,628.9Z" fill="#fff"/>
<path d="M398.8,638L413.1,641 444,632 429.7,628.9 398.8,638" fill="none" stroke="#141414" stroke-width="1.25"/>
<path d="M418.4,639.5L419.4,785.7" fill="none" stroke="#141414" stroke-width="1"/>
<path d="M495.2,658.5L496.2,804.7 527.1,795.6 526.1,649.4Z" fill="#fff"/>
<path d="M495.2,658.5L496.2,804.7 527.1,795.6 526.1,649.4 495.2,658.5" fill="none" stroke="#141414" stroke-width="1.25"/>
<path d="M480.9,655.4L481.9,801.6 496.2,804.7 495.2,658.5Z" fill="#fff"/>
<path d="M480.9,655.4L481.9,801.6 496.2,804.7 495.2,658.5 480.9,655.4" fill="none" stroke="#141414" stroke-width="1.25"/>
<path d="M480.9,655.4L495.2,658.5 526.1,649.4 511.8,646.4Z" fill="#fff"/>
<path d="M480.9,655.4L495.2,658.5 526.1,649.4 511.8,646.4 480.9,655.4" fill="none" stroke="#141414" stroke-width="1.25"/>
<path d="M430.1,671L429,671.2 427.9,671.1 426.8,670.6 425.9,670 425,669 424.4,667.8 423.9,666.4 423.6,664.9 423.5,663.2 423.6,661.5 423.8,659.8 424.3,658.1 425,656.6 425.8,655.1 426.7,653.9 427.7,652.9 428.8,652.1 430,651.6 431.1,651.4 432.2,651.5 433.3,651.9 434.2,652.6 435,653.6 435.7,654.8 436.2,656.2 436.5,657.7 436.6,659.4 436.5,661.1 436.2,662.8 435.8,664.5 435.1,666 434.3,667.5 433.4,668.7 432.3,669.7 431.2,670.5 430.1,671" fill="none" stroke="#141414" stroke-width="1"/>
<path d="M430.7,755.2L429.5,755.4 428.4,755.3 427.4,754.9 426.4,754.2 425.6,753.2 425,752 424.5,750.6 424.1,749.1 424,747.5 424.1,745.7 424.4,744 424.9,742.4 425.5,740.8 426.3,739.3 427.3,738.1 428.3,737.1 429.4,736.3 430.5,735.8 431.7,735.7 432.8,735.8 433.8,736.2 434.8,736.9 435.6,737.8 436.3,739 436.8,740.4 437.1,741.9 437.2,743.6 437.1,745.3 436.8,747 436.3,748.7 435.7,750.3 434.9,751.7 434,752.9 432.9,754 431.8,754.7 430.7,755.2" fill="none" stroke="#141414" stroke-width="1"/>
<path d="M435.5,808.6L435,807.6 434.9,806.6 434.4,722.4 434.9,721.4 435.9,720.5 437.4,719.6 439.3,718.7 441.7,717.9 444.5,717.2 447.6,716.6 451,716.1 454.6,715.7 458.4,715.4 462.3,715.2 466.2,715.2 470.1,715.3 473.9,715.5 477.5,715.9 480.9,716.3 484,716.9 486.8,717.6 489.2,718.4 491.2,719.2 492.7,720.1 493.7,721 494.2,722 494.2,723 494.8,807.2 494.3,808.2 493.3,809.1 491.8,810.1 489.9,810.9 487.5,811.7 484.7,812.4 481.6,813.1 478.2,813.6 474.6,814 470.8,814.3 466.9,814.4 463,814.4 459.1,814.3 455.3,814.1 451.7,813.8 448.3,813.3 445.2,812.7 442.4,812 440,811.3 438,810.4 436.5,809.5Z" fill="#fff"/>
<path d="M494.3,722.5L494.9,806.7" fill="none" stroke="#141414" stroke-width="1.25"/>
<path d="M434.3,722.9L434.9,807.1" fill="none" stroke="#141414" stroke-width="1.25"/>
<path d="M441.7,717.9L444.5,717.2 447.6,716.6 451,716.1 454.6,715.7 458.4,715.4 462.3,715.2 466.2,715.2 470.1,715.3 473.9,715.5 477.5,715.9 480.9,716.3 484,716.9 486.8,717.6 489.2,718.4 491.2,719.2 492.7,720.1 493.7,721 494.2,722 494.2,723 493.7,724 492.7,724.9 491.2,725.8 489.3,726.7 486.9,727.5 484.1,728.2 481,728.8 477.6,729.4 474,729.8 470.2,730 466.3,730.2 462.4,730.2 458.5,730.1 454.7,729.9 451.1,729.5 447.7,729.1 444.6,728.5 441.8,727.8 439.4,727.1 437.4,726.2 435.9,725.3 434.9,724.4 434.4,723.4 434.4,722.4 434.9,721.4 435.9,720.5 437.4,719.6 439.3,718.7 441.7,717.9" fill="none" stroke="#141414" stroke-width="1.2"/>
<path d="M494.9,806.7L494.6,807.7 493.9,808.7 492.6,809.6 490.9,810.5 488.7,811.3 486.1,812.1 483.2,812.8 479.9,813.3 476.4,813.8 472.7,814.1 468.8,814.4 464.9,814.4 461,814.4 457.2,814.2 453.4,814 449.9,813.5 446.7,813 443.7,812.4 441.1,811.7 438.9,810.9 437.2,810 435.9,809.1 435.1,808.1 434.9,807.1" fill="none" stroke="#141414" stroke-width="1.2"/>
<path d="M494.3,726.7L494.1,727.7 493.3,728.7 492.1,729.6 490.3,730.5 488.2,731.3 485.6,732.1 482.6,732.8 479.4,733.3 475.9,733.8 472.1,734.1 468.3,734.3 464.4,734.4 460.5,734.4 456.6,734.2 452.9,733.9 449.4,733.5 446.1,733 443.2,732.4 440.6,731.7 438.4,730.9 436.6,730 435.4,729.1 434.6,728.1 434.3,727.1" fill="none" stroke="#141414" stroke-width="1.2"/>
<path d="M494.4,730.9L494.1,731.9 493.4,732.9 492.1,733.8 490.4,734.7 488.2,735.5 485.6,736.3 482.7,737 479.4,737.5 475.9,738 472.2,738.3 468.3,738.6 464.4,738.6 460.5,738.6 456.6,738.4 452.9,738.2 449.4,737.7 446.1,737.2 443.2,736.6 440.6,735.9 438.4,735.1 436.7,734.2 435.4,733.3 434.6,732.3 434.4,731.3" fill="none" stroke="#141414" stroke-width="1.2"/>
<path d="M494.4,735.1L494.1,736.1 493.4,737.1 492.1,738 490.4,738.9 488.2,739.8 485.6,740.5 482.7,741.2 479.4,741.7 475.9,742.2 472.2,742.5 468.4,742.8 464.4,742.9 460.5,742.8 456.7,742.7 453,742.4 449.4,742 446.2,741.4 443.2,740.8 440.6,740.1 438.4,739.3 436.7,738.4 435.4,737.5 434.7,736.5 434.4,735.5" fill="none" stroke="#141414" stroke-width="1.2"/>
<path d="M494.4,739.3L494.2,740.3 493.4,741.3 492.2,742.2 490.4,743.1 488.3,744 485.7,744.7 482.7,745.4 479.5,746 475.9,746.4 472.2,746.8 468.4,747 464.5,747.1 460.6,747 456.7,746.9 453,746.6 449.5,746.2 446.2,745.6 443.2,745 440.7,744.3 438.5,743.5 436.7,742.6 435.5,741.7 434.7,740.7 434.4,739.8" fill="none" stroke="#141414" stroke-width="1.2"/>
<path d="M494.4,743.6L494.2,744.5 493.4,745.5 492.2,746.4 490.5,747.3 488.3,748.2 485.7,748.9 482.8,749.6 479.5,750.2 476,750.6 472.3,751 468.4,751.2 464.5,751.3 460.6,751.2 456.7,751.1 453,750.8 449.5,750.4 446.2,749.9 443.3,749.2 440.7,748.5 438.5,747.7 436.8,746.8 435.5,745.9 434.7,744.9 434.5,744" fill="none" stroke="#141414" stroke-width="1.2"/>
<path d="M494.5,747.8L494.2,748.7 493.5,749.7 492.2,750.7 490.5,751.6 488.3,752.4 485.7,753.1 482.8,753.8 479.5,754.4 476,754.8 472.3,755.2 468.4,755.4 464.5,755.5 460.6,755.5 456.8,755.3 453,755 449.5,754.6 446.3,754.1 443.3,753.4 440.7,752.7 438.5,751.9 436.8,751 435.5,750.1 434.7,749.2 434.5,748.2" fill="none" stroke="#141414" stroke-width="1.2"/>
<path d="M494.5,752L494.3,753 493.5,753.9 492.2,754.9 490.5,755.8 488.3,756.6 485.8,757.4 482.8,758 479.6,758.6 476,759 472.3,759.4 468.5,759.6 464.6,759.7 460.6,759.7 456.8,759.5 453.1,759.2 449.6,758.8 446.3,758.3 443.3,757.6 440.7,756.9 438.6,756.1 436.8,755.3 435.5,754.3 434.8,753.4 434.5,752.4" fill="none" stroke="#141414" stroke-width="1.2"/>
<path d="M494.5,756.2L494.3,757.2 493.5,758.1 492.3,759.1 490.5,760 488.4,760.8 485.8,761.6 482.8,762.2 479.6,762.8 476.1,763.3 472.3,763.6 468.5,763.8 464.6,763.9 460.7,763.9 456.8,763.7 453.1,763.4 449.6,763 446.3,762.5 443.4,761.9 440.8,761.1 438.6,760.3 436.8,759.5 435.6,758.5 434.8,757.6 434.5,756.6" fill="none" stroke="#141414" stroke-width="1.2"/>
<path d="M494.6,760.4L494.3,761.4 493.6,762.4 492.3,763.3 490.6,764.2 488.4,765 485.8,765.8 482.9,766.4 479.6,767 476.1,767.5 472.4,767.8 468.5,768 464.6,768.1 460.7,768.1 456.8,767.9 453.1,767.6 449.6,767.2 446.3,766.7 443.4,766.1 440.8,765.3 438.6,764.5 436.9,763.7 435.6,762.8 434.8,761.8 434.6,760.8" fill="none" stroke="#141414" stroke-width="1.2"/>
<path d="M494.6,764.6L494.3,765.6 493.6,766.6 492.3,767.5 490.6,768.4 488.4,769.2 485.8,770 482.9,770.7 479.6,771.2 476.1,771.7 472.4,772 468.6,772.2 464.6,772.3 460.7,772.3 456.9,772.1 453.2,771.8 449.6,771.4 446.4,770.9 443.4,770.3 440.8,769.6 438.6,768.8 436.9,767.9 435.6,767 434.9,766 434.6,765" fill="none" stroke="#141414" stroke-width="1.2"/>
<path d="M494.6,768.8L494.4,769.8 493.6,770.8 492.4,771.7 490.6,772.6 488.5,773.4 485.9,774.2 482.9,774.9 479.7,775.4 476.1,775.9 472.4,776.2 468.6,776.5 464.7,776.5 460.8,776.5 456.9,776.3 453.2,776.1 449.7,775.6 446.4,775.1 443.4,774.5 440.9,773.8 438.7,773 436.9,772.1 435.7,771.2 434.9,770.2 434.6,769.2" fill="none" stroke="#141414" stroke-width="1.2"/>
<path d="M494.6,773L494.4,774 493.6,775 492.4,775.9 490.7,776.8 488.5,777.7 485.9,778.4 483,779.1 479.7,779.6 476.2,780.1 472.5,780.4 468.6,780.7 464.7,780.8 460.8,780.7 456.9,780.6 453.2,780.3 449.7,779.9 446.4,779.3 443.5,778.7 440.9,778 438.7,777.2 437,776.3 435.7,775.4 434.9,774.4 434.7,773.4" fill="none" stroke="#141414" stroke-width="1.2"/>
<path d="M494.7,777.2L494.4,778.2 493.7,779.2 492.4,780.1 490.7,781 488.5,781.9 485.9,782.6 483,783.3 479.7,783.9 476.2,784.3 472.5,784.7 468.6,784.9 464.7,785 460.8,784.9 457,784.8 453.2,784.5 449.7,784.1 446.5,783.5 443.5,782.9 440.9,782.2 438.7,781.4 437,780.5 435.7,779.6 434.9,778.6 434.7,777.7" fill="none" stroke="#141414" stroke-width="1.2"/>
<path d="M494.7,781.5L494.5,782.4 493.7,783.4 492.4,784.3 490.7,785.2 488.5,786.1 486,786.8 483,787.5 479.8,788.1 476.2,788.5 472.5,788.9 468.7,789.1 464.8,789.2 460.8,789.1 457,789 453.3,788.7 449.8,788.3 446.5,787.8 443.5,787.1 440.9,786.4 438.8,785.6 437,784.7 435.7,783.8 435,782.8 434.7,781.9" fill="none" stroke="#141414" stroke-width="1.2"/>
<path d="M494.7,785.7L494.5,786.7 493.7,787.6 492.5,788.6 490.7,789.5 488.6,790.3 486,791 483,791.7 479.8,792.3 476.3,792.7 472.6,793.1 468.7,793.3 464.8,793.4 460.9,793.4 457,793.2 453.3,792.9 449.8,792.5 446.5,792 443.6,791.3 441,790.6 438.8,789.8 437,788.9 435.8,788 435,787.1 434.7,786.1" fill="none" stroke="#141414" stroke-width="1.2"/>
<path d="M494.8,789.9L494.5,790.9 493.8,791.8 492.5,792.8 490.8,793.7 488.6,794.5 486,795.3 483.1,795.9 479.8,796.5 476.3,797 472.6,797.3 468.7,797.5 464.8,797.6 460.9,797.6 457.1,797.4 453.3,797.1 449.8,796.7 446.5,796.2 443.6,795.5 441,794.8 438.8,794 437.1,793.2 435.8,792.2 435,791.3 434.8,790.3" fill="none" stroke="#141414" stroke-width="1.2"/>
<path d="M494.8,794.1L494.5,795.1 493.8,796 492.5,797 490.8,797.9 488.6,798.7 486,799.5 483.1,800.1 479.8,800.7 476.3,801.2 472.6,801.5 468.8,801.7 464.8,801.8 460.9,801.8 457.1,801.6 453.4,801.3 449.8,800.9 446.6,800.4 443.6,799.8 441,799 438.8,798.2 437.1,797.4 435.8,796.4 435.1,795.5 434.8,794.5" fill="none" stroke="#141414" stroke-width="1.2"/>
<path d="M494.8,798.3L494.6,799.3 493.8,800.3 492.6,801.2 490.8,802.1 488.7,802.9 486.1,803.7 483.1,804.3 479.9,804.9 476.4,805.4 472.6,805.7 468.8,805.9 464.9,806 461,806 457.1,805.8 453.4,805.5 449.9,805.1 446.6,804.6 443.6,804 441.1,803.2 438.9,802.4 437.1,801.6 435.9,800.7 435.1,799.7 434.8,798.7" fill="none" stroke="#141414" stroke-width="1.2"/>
<path d="M494.9,802.5L494.6,803.5 493.8,804.5 492.6,805.4 490.9,806.3 488.7,807.1 486.1,807.9 483.2,808.6 479.9,809.1 476.4,809.6 472.7,809.9 468.8,810.1 464.9,810.2 461,810.2 457.1,810 453.4,809.7 449.9,809.3 446.6,808.8 443.7,808.2 441.1,807.5 438.9,806.7 437.2,805.8 435.9,804.9 435.1,803.9 434.9,802.9" fill="none" stroke="#141414" stroke-width="1.2"/>
<path d="M434.6,686.6L434.1,685.7 434.1,684.7 433.8,643 434.3,642.1 435.3,641.1 436.8,640.2 438.8,639.3 441.2,638.5 443.9,637.8 447,637.2 450.4,636.7 454.1,636.3 457.8,636 461.7,635.8 465.7,635.8 469.6,635.9 473.3,636.1 477,636.5 480.4,637 483.5,637.5 486.3,638.2 488.7,639 490.6,639.8 492.1,640.7 493.2,641.6 493.7,642.6 493.7,643.6 494,685.2 493.5,686.2 492.5,687.2 491,688.1 489,688.9 486.6,689.7 483.9,690.5 480.8,691.1 477.4,691.6 473.8,692 470,692.3 466.1,692.4 462.2,692.5 458.3,692.4 454.5,692.1 450.8,691.8 447.4,691.3 444.3,690.7 441.5,690.1 439.1,689.3 437.2,688.5 435.7,687.6Z" fill="#fff"/>
<path d="M493.8,643.1L494,684.7" fill="none" stroke="#141414" stroke-width="1.25"/>
<path d="M433.8,643.5L434.1,685.2" fill="none" stroke="#141414" stroke-width="1.25"/>
<path d="M441.2,638.5L443.9,637.8 447,637.2 450.4,636.7 454.1,636.3 457.8,636 461.7,635.8 465.7,635.8 469.6,635.9 473.3,636.1 477,636.5 480.4,637 483.5,637.5 486.3,638.2 488.7,639 490.6,639.8 492.1,640.7 493.2,641.6 493.7,642.6 493.7,643.6 493.2,644.6 492.2,645.5 490.7,646.5 488.7,647.3 486.4,648.1 483.6,648.8 480.5,649.5 477.1,650 473.5,650.4 469.7,650.7 465.8,650.8 461.9,650.8 458,650.7 454.2,650.5 450.6,650.2 447.2,649.7 444,649.1 441.3,648.4 438.9,647.7 436.9,646.8 435.4,645.9 434.4,645 433.8,644 433.8,643 434.3,642.1 435.3,641.1 436.8,640.2 438.8,639.3 441.2,638.5" fill="none" stroke="#141414" stroke-width="1.2"/>
<path d="M494,684.7L493.8,685.7 493,686.7 491.8,687.6 490.1,688.5 487.9,689.4 485.3,690.1 482.4,690.8 479.1,691.4 475.6,691.8 471.9,692.2 468,692.4 464.1,692.5 460.2,692.4 456.3,692.3 452.6,692 449.1,691.6 445.8,691 442.9,690.4 440.3,689.7 438.1,688.9 436.4,688 435.1,687.1 434.3,686.1 434.1,685.2" fill="none" stroke="#141414" stroke-width="1.2"/>
<path d="M493.8,647.3L493.5,648.3 492.8,649.2 491.5,650.2 489.8,651.1 487.6,651.9 485,652.7 482.1,653.3 478.8,653.9 475.3,654.3 471.6,654.7 467.8,654.9 463.8,655 459.9,655 456.1,654.8 452.4,654.5 448.8,654.1 445.6,653.6 442.6,652.9 440,652.2 437.8,651.4 436.1,650.6 434.8,649.6 434.1,648.7 433.8,647.7" fill="none" stroke="#141414" stroke-width="1.2"/>
<path d="M493.8,651.4L493.6,652.4 492.8,653.4 491.6,654.3 489.8,655.2 487.7,656.1 485.1,656.8 482.1,657.5 478.9,658.1 475.3,658.5 471.6,658.9 467.8,659.1 463.9,659.2 460,659.1 456.1,659 452.4,658.7 448.9,658.3 445.6,657.7 442.6,657.1 440.1,656.4 437.9,655.6 436.1,654.7 434.9,653.8 434.1,652.8 433.8,651.9" fill="none" stroke="#141414" stroke-width="1.2"/>
<path d="M493.8,655.6L493.6,656.6 492.8,657.6 491.6,658.5 489.9,659.4 487.7,660.2 485.1,661 482.2,661.6 478.9,662.2 475.4,662.7 471.7,663 467.8,663.2 463.9,663.3 460,663.3 456.1,663.1 452.4,662.8 448.9,662.4 445.6,661.9 442.7,661.3 440.1,660.5 437.9,659.7 436.2,658.9 434.9,658 434.1,657 433.9,656" fill="none" stroke="#141414" stroke-width="1.2"/>
<path d="M493.9,659.8L493.6,660.7 492.9,661.7 491.6,662.7 489.9,663.6 487.7,664.4 485.1,665.1 482.2,665.8 478.9,666.4 475.4,666.8 471.7,667.2 467.8,667.4 463.9,667.5 460,667.5 456.2,667.3 452.4,667 448.9,666.6 445.7,666.1 442.7,665.4 440.1,664.7 437.9,663.9 436.2,663 434.9,662.1 434.1,661.2 433.9,660.2" fill="none" stroke="#141414" stroke-width="1.2"/>
<path d="M493.9,663.9L493.7,664.9 492.9,665.9 491.6,666.8 489.9,667.7 487.7,668.5 485.2,669.3 482.2,670 479,670.5 475.4,671 471.7,671.3 467.9,671.6 464,671.7 460,671.6 456.2,671.4 452.5,671.2 449,670.7 445.7,670.2 442.7,669.6 440.1,668.9 438,668.1 436.2,667.2 434.9,666.3 434.2,665.3 433.9,664.3" fill="none" stroke="#141414" stroke-width="1.2"/>
<path d="M493.9,668.1L493.7,669.1 492.9,670 491.7,671 489.9,671.9 487.8,672.7 485.2,673.5 482.2,674.1 479,674.7 475.5,675.2 471.7,675.5 467.9,675.7 464,675.8 460.1,675.8 456.2,675.6 452.5,675.3 449,674.9 445.7,674.4 442.8,673.8 440.2,673 438,672.2 436.2,671.4 435,670.4 434.2,669.5 433.9,668.5" fill="none" stroke="#141414" stroke-width="1.2"/>
<path d="M494,672.3L493.7,673.2 493,674.2 491.7,675.1 490,676 487.8,676.9 485.2,677.6 482.3,678.3 479,678.9 475.5,679.3 471.8,679.7 467.9,679.9 464,680 460.1,679.9 456.2,679.8 452.5,679.5 449,679.1 445.7,678.6 442.8,677.9 440.2,677.2 438,676.4 436.3,675.5 435,674.6 434.2,673.6 434,672.7" fill="none" stroke="#141414" stroke-width="1.2"/>
<path d="M494,676.4L493.7,677.4 493,678.4 491.7,679.3 490,680.2 487.8,681 485.2,681.8 482.3,682.5 479,683 475.5,683.5 471.8,683.8 468,684 464,684.1 460.1,684.1 456.3,683.9 452.6,683.6 449,683.2 445.8,682.7 442.8,682.1 440.2,681.4 438,680.6 436.3,679.7 435,678.8 434.3,677.8 434,676.8" fill="none" stroke="#141414" stroke-width="1.2"/>
<path d="M494,680.6L493.8,681.6 493,682.5 491.8,683.5 490,684.4 487.9,685.2 485.3,686 482.3,686.6 479.1,687.2 475.5,687.7 471.8,688 468,688.2 464.1,688.3 460.2,688.3 456.3,688.1 452.6,687.8 449.1,687.4 445.8,686.9 442.8,686.2 440.3,685.5 438.1,684.7 436.3,683.9 435.1,682.9 434.3,682 434,681" fill="none" stroke="#141414" stroke-width="1.2"/>
<path d="M403.5,688.2L401.6,687.6 400.8,686.9 401.1,724.6 401.9,725.4 403.8,726Z" fill="#fff"/>
<path d="M403.5,688.2L401.6,687.6 400.8,686.9" fill="none" stroke="#141414" stroke-width="1.25"/>
<path d="M403.8,726L401.9,725.4 401.1,724.6" fill="none" stroke="#141414" stroke-width="1.25"/>
<path d="M403.5,688.2L403.8,726" fill="none" stroke="#141414" stroke-width="1.25"/>
<path d="M400.8,686.9L401.1,724.6" fill="none" stroke="#141414" stroke-width="1.25"/>
<path d="M460.8,700.4L403.5,688.2 403.8,726 461,738.1Z" fill="#fff"/>
<path d="M460.8,700.4L403.5,688.2" fill="none" stroke="#141414" stroke-width="1.25"/>
<path d="M461,738.1L403.8,726" fill="none" stroke="#141414" stroke-width="1.25"/>
<path d="M460.8,700.4L461,738.1" fill="none" stroke="#141414" stroke-width="1.25"/>
<path d="M403.5,688.2L403.8,726" fill="none" stroke="#141414" stroke-width="1.25"/>
<path d="M481.9,696.3L481.5,697.1 480,697.8 480.2,735.6 481.8,734.9 482.2,734.1Z" fill="#fff"/>
<path d="M481.9,696.3L481.5,697.1 480,697.8" fill="none" stroke="#141414" stroke-width="1.25"/>
<path d="M482.2,734.1L481.8,734.9 480.2,735.6" fill="none" stroke="#141414" stroke-width="1.25"/>
<path d="M481.9,696.3L482.2,734.1" fill="none" stroke="#141414" stroke-width="1.25"/>
<path d="M480,697.8L480.2,735.6" fill="none" stroke="#141414" stroke-width="1.25"/>
<path d="M480,697.8L472.1,700.1 472.3,737.9 480.2,735.6Z" fill="#fff"/>
<path d="M480,697.8L472.1,700.1" fill="none" stroke="#141414" stroke-width="1.25"/>
<path d="M480.2,735.6L472.3,737.9" fill="none" stroke="#141414" stroke-width="1.25"/>
<path d="M480,697.8L480.2,735.6" fill="none" stroke="#141414" stroke-width="1.25"/>
<path d="M472.1,700.1L472.3,737.9" fill="none" stroke="#141414" stroke-width="1.25"/>
<path d="M472.1,700.1L469.6,700.6 466.6,700.8 463.5,700.8 460.8,700.4 461,738.1 463.7,738.5 466.8,738.6 469.9,738.4 472.3,737.9Z" fill="#fff"/>
<path d="M472.1,700.1L469.6,700.6 466.6,700.8 463.5,700.8 460.8,700.4" fill="none" stroke="#141414" stroke-width="1.25"/>
<path d="M472.3,737.9L469.9,738.4 466.8,738.6 463.7,738.5 461,738.1" fill="none" stroke="#141414" stroke-width="1.25"/>
<path d="M472.1,700.1L472.3,737.9" fill="none" stroke="#141414" stroke-width="1.25"/>
<path d="M460.8,700.4L461,738.1" fill="none" stroke="#141414" stroke-width="1.25"/>
<path d="M410.7,683.1L413.1,682.6 416.1,682.4 419.2,682.5 421.9,682.8 479.2,695 481.1,695.6 481.9,696.3 481.5,697.1 480,697.8 472.1,700.1 469.6,700.6 466.6,700.8 463.5,700.8 460.8,700.4 403.5,688.2 401.6,687.6 400.8,686.9 401.2,686.1 402.8,685.4Z" fill="#fff"/>
<path d="M410.7,683.1L413.1,682.6 416.1,682.4 419.2,682.5 421.9,682.8 479.2,695 481.1,695.6 481.9,696.3 481.5,697.1 480,697.8 472.1,700.1 469.6,700.6 466.6,700.8 463.5,700.8 460.8,700.4 403.5,688.2 401.6,687.6 400.8,686.9 401.2,686.1 402.8,685.4 410.7,683.1" fill="none" stroke="#141414" stroke-width="1.25"/>
<path d="M153.3,594.8L155.6,600.3 158.9,605 162.8,608.6 167.2,610.8 171.6,611.5 175.9,610.7 246.2,590 242,590.9 237.5,590.2 233.2,587.9 229.2,584.3 226,579.6 223.7,574.2Z" fill="#fff"/>
<path d="M153.3,594.8L155.6,600.3 158.9,605 162.8,608.6 167.2,610.8 171.6,611.5 175.9,610.7" fill="none" stroke="#141414" stroke-width="1.25"/>
<path d="M223.7,574.2L226,579.6 229.2,584.3 233.2,587.9 237.5,590.2 242,590.9 246.2,590" fill="none" stroke="#141414" stroke-width="1.25"/>
<path d="M153.3,594.8L223.7,574.2" fill="none" stroke="#8a8a8a" stroke-width="0.8"/>
<path d="M175.9,610.7L246.2,590" fill="none" stroke="#141414" stroke-width="1.25"/>
<path d="M151.4,307.1L146,322.9 142.8,335.1 139.9,347.6 137.4,360.2 135.2,373 133.4,386 132,399.2 131,412.5 130.3,425.9 130,439.4 130.1,453.1 130.6,466.7 131.5,480.5 132.7,494.3 134.3,508.1 136.2,521.9 138.6,535.6 141.3,549.4 144.3,563.1 147.8,576.7 153.3,594.8 223.7,574.2 218.1,556.1 214.7,542.4 211.6,528.7 208.9,515 206.6,501.2 204.6,487.4 203,473.6 201.8,459.8 201,446.1 200.5,432.4 200.4,418.8 200.7,405.3 201.4,391.8 202.4,378.5 203.8,365.4 205.6,352.4 207.7,339.6 210.3,326.9 213.2,314.5 216.4,302.3 221.7,286.5Z" fill="#fff"/>
<path d="M151.4,307.1L146,322.9 142.8,335.1 139.9,347.6 137.4,360.2 135.2,373 133.4,386 132,399.2 131,412.5 130.3,425.9 130,439.4 130.1,453.1 130.6,466.7 131.5,480.5 132.7,494.3 134.3,508.1 136.2,521.9 138.6,535.6 141.3,549.4 144.3,563.1 147.8,576.7 153.3,594.8" fill="none" stroke="#141414" stroke-width="1.25"/>
<path d="M221.7,286.5L216.4,302.3 213.2,314.5 210.3,326.9 207.7,339.6 205.6,352.4 203.8,365.4 202.4,378.5 201.4,391.8 200.7,405.3 200.4,418.8 200.5,432.4 201,446.1 201.8,459.8 203,473.6 204.6,487.4 206.6,501.2 208.9,515 211.6,528.7 214.7,542.4 218.1,556.1 223.7,574.2" fill="none" stroke="#141414" stroke-width="1.25"/>
<path d="M151.4,307.1L221.7,286.5" fill="none" stroke="#8a8a8a" stroke-width="0.8"/>
<path d="M153.3,594.8L223.7,574.2" fill="none" stroke="#8a8a8a" stroke-width="0.8"/>
<path d="M206.9,524.9L209.6,525 279.9,504.3 277.3,504.3Z" fill="#fff"/>
<path d="M206.9,524.9L209.6,525" fill="none" stroke="#141414" stroke-width="1.25"/>
<path d="M277.3,504.3L279.9,504.3" fill="none" stroke="#141414" stroke-width="1.25"/>
<path d="M206.9,524.9L277.3,504.3" fill="none" stroke="#141414" stroke-width="1.25"/>
<path d="M209.6,525L279.9,504.3" fill="none" stroke="#8a8a8a" stroke-width="0.8"/>
<path d="M160.7,297.4L156.8,299.3 153.6,302.6 151.4,307.1 221.7,286.5 224,282 227.1,278.6 231,276.7Z" fill="#fff"/>
<path d="M160.7,297.4L156.8,299.3 153.6,302.6 151.4,307.1" fill="none" stroke="#141414" stroke-width="1.25"/>
<path d="M231,276.7L227.1,278.6 224,282 221.7,286.5" fill="none" stroke="#141414" stroke-width="1.25"/>
<path d="M160.7,297.4L231,276.7" fill="none" stroke="#141414" stroke-width="1.25"/>
<path d="M151.4,307.1L221.7,286.5" fill="none" stroke="#8a8a8a" stroke-width="0.8"/>
<path d="M209.6,525L312,546.7 382.4,526.1 279.9,504.3Z" fill="#fff"/>
<path d="M209.6,525L312,546.7" fill="none" stroke="#141414" stroke-width="1.25"/>
<path d="M279.9,504.3L382.4,526.1" fill="none" stroke="#141414" stroke-width="1.25"/>
<path d="M209.6,525L279.9,504.3" fill="none" stroke="#8a8a8a" stroke-width="0.8"/>
<path d="M312,546.7L382.4,526.1" fill="none" stroke="#8a8a8a" stroke-width="0.8"/>
<path d="M312,546.7L313,546.8 383.4,526.1 382.4,526.1Z" fill="#fff"/>
<path d="M312,546.7L313,546.8" fill="none" stroke="#141414" stroke-width="1.25"/>
<path d="M382.4,526.1L383.4,526.1" fill="none" stroke="#141414" stroke-width="1.25"/>
<path d="M312,546.7L382.4,526.1" fill="none" stroke="#8a8a8a" stroke-width="0.8"/>
<path d="M313,546.8L383.4,526.1" fill="none" stroke="#141414" stroke-width="1.25"/>
<path d="M194.4,566.8L196.5,565.9 198.2,564.3 199.5,562.1 200.2,559.4 200.4,556.5 199.9,553.5 270.3,532.9 270.7,535.9 270.6,538.8 269.8,541.4 268.6,543.6 266.9,545.2 264.8,546.1Z" fill="#fff"/>
<path d="M194.4,566.8L196.5,565.9 198.2,564.3 199.5,562.1 200.2,559.4 200.4,556.5 199.9,553.5" fill="none" stroke="#141414" stroke-width="1.25"/>
<path d="M264.8,546.1L266.9,545.2 268.6,543.6 269.8,541.4 270.6,538.8 270.7,535.9 270.3,532.9" fill="none" stroke="#141414" stroke-width="1.25"/>
<path d="M194.4,566.8L264.8,546.1" fill="none" stroke="#141414" stroke-width="1.25"/>
<path d="M199.9,553.5L270.3,532.9" fill="none" stroke="#8a8a8a" stroke-width="0.8"/>
<path d="M199.9,553.5L197.3,542.5 195.1,531.3 193.1,520.1 191.5,508.9 190.2,497.7 189.2,486.4 188.5,475.2 188.1,464.1 188.1,453 188.3,442 188.8,431.1 189.7,420.3 190.9,409.6 192.3,399 194.1,388.5 196.2,378.3 198.7,368.4 269,347.7 266.5,357.6 264.5,367.9 262.7,378.3 261.2,388.9 260,399.6 259.2,410.4 258.6,421.4 258.4,432.4 258.5,443.5 258.9,454.6 259.6,465.8 260.6,477 261.9,488.2 263.5,499.5 265.4,510.7 267.7,521.9 270.3,532.9Z" fill="#fff"/>
<path d="M199.9,553.5L197.3,542.5 195.1,531.3 193.1,520.1 191.5,508.9 190.2,497.7 189.2,486.4 188.5,475.2 188.1,464.1 188.1,453 188.3,442 188.8,431.1 189.7,420.3 190.9,409.6 192.3,399 194.1,388.5 196.2,378.3 198.7,368.4" fill="none" stroke="#141414" stroke-width="1.25"/>
<path d="M270.3,532.9L267.7,521.9 265.4,510.7 263.5,499.5 261.9,488.2 260.6,477 259.6,465.8 258.9,454.6 258.5,443.5 258.4,432.4 258.6,421.4 259.2,410.4 260,399.6 261.2,388.9 262.7,378.3 264.5,367.9 266.5,357.6 269,347.7" fill="none" stroke="#141414" stroke-width="1.25"/>
<path d="M199.9,553.5L270.3,532.9" fill="none" stroke="#8a8a8a" stroke-width="0.8"/>
<path d="M198.7,368.4L269,347.7" fill="none" stroke="#8a8a8a" stroke-width="0.8"/>
<path d="M163.2,332.8L160,331.3 156.8,330.9 153.8,331.6 224.2,310.9 227.2,310.2 230.4,310.7 233.6,312.2Z" fill="#fff"/>
<path d="M163.2,332.8L160,331.3 156.8,330.9 153.8,331.6" fill="none" stroke="#141414" stroke-width="1.25"/>
<path d="M233.6,312.2L230.4,310.7 227.2,310.2 224.2,310.9" fill="none" stroke="#141414" stroke-width="1.25"/>
<path d="M163.2,332.8L233.6,312.2" fill="none" stroke="#8a8a8a" stroke-width="0.8"/>
<path d="M153.8,331.6L224.2,310.9" fill="none" stroke="#141414" stroke-width="1.25"/>
<path d="M193,352.7L163.2,332.8 233.6,312.2 263.3,332.1Z" fill="#fff"/>
<path d="M193,352.7L163.2,332.8" fill="none" stroke="#141414" stroke-width="1.25"/>
<path d="M263.3,332.1L233.6,312.2" fill="none" stroke="#141414" stroke-width="1.25"/>
<path d="M193,352.7L263.3,332.1" fill="none" stroke="#8a8a8a" stroke-width="0.8"/>
<path d="M163.2,332.8L233.6,312.2" fill="none" stroke="#8a8a8a" stroke-width="0.8"/>
<path d="M198.7,368.4L199.1,365.5 198.9,362.5 198.1,359.6 196.8,356.8 195.1,354.5 193,352.7 263.3,332.1 265.4,333.9 267.2,336.2 268.5,338.9 269.2,341.9 269.4,344.9 269,347.7Z" fill="#fff"/>
<path d="M198.7,368.4L199.1,365.5 198.9,362.5 198.1,359.6 196.8,356.8 195.1,354.5 193,352.7" fill="none" stroke="#141414" stroke-width="1.25"/>
<path d="M269,347.7L269.4,344.9 269.2,341.9 268.5,338.9 267.2,336.2 265.4,333.9 263.3,332.1" fill="none" stroke="#141414" stroke-width="1.25"/>
<path d="M198.7,368.4L269,347.7" fill="none" stroke="#8a8a8a" stroke-width="0.8"/>
<path d="M193,352.7L263.3,332.1" fill="none" stroke="#8a8a8a" stroke-width="0.8"/>
<path d="M163.2,332.8L160,331.3 156.8,330.9 153.8,331.6 151.2,333.3 149.1,336 147.7,339.5 145.2,349.4 142.7,361.9 140.5,374.7 138.7,387.6 137.3,400.6 136.3,413.8 135.6,427.2 135.3,440.6 135.4,454.1 135.9,467.7 136.7,481.4 138,495.1 139.6,508.8 141.5,522.5 143.9,536.2 146.6,549.8 149.2,560.8 150.6,564.9 152.8,568.5 155.4,571.4 158.5,573.3 161.7,574.3 164.8,574.1 194.4,566.8 196.5,565.9 198.2,564.3 199.5,562.1 200.2,559.4 200.4,556.5 199.9,553.5 197.3,542.5 195.1,531.3 193.1,520.1 191.5,508.9 190.2,497.7 189.2,486.4 188.5,475.2 188.1,464.1 188.1,453 188.3,442 188.8,431.1 189.7,420.3 190.9,409.6 192.3,399 194.1,388.5 196.2,378.3 198.7,368.4 199.1,365.5 198.9,362.5 198.1,359.6 196.8,356.8 195.1,354.5 193,352.7Z" fill="#fff" stroke="#141414" stroke-width="1.25"/>
<path d="M334.1,523.7L220.3,499.6 251.2,490.5 365,514.7Z" fill="#fff"/>
<path d="M334.1,523.7L220.3,499.6 251.2,490.5 365,514.7 334.1,523.7" fill="none" stroke="#141414" stroke-width="1.25"/>
<path d="M334.1,523.7L220.3,499.6 220.4,518 334.2,542.1Z" fill="#fff"/>
<path d="M334.1,523.7L220.3,499.6 220.4,518 334.2,542.1 334.1,523.7" fill="none" stroke="#141414" stroke-width="1.25"/>
<path d="M334.1,523.7L334.2,542.1 365.1,533.1 365,514.7Z" fill="#fff"/>
<path d="M334.1,523.7L334.2,542.1 365.1,533.1 365,514.7 334.1,523.7" fill="none" stroke="#141414" stroke-width="1.25"/>
<path d="M339.3,522.2L225.6,498" fill="none" stroke="#141414" stroke-width="1"/>
<path d="M333.3,418.2L219.6,394.1 250.5,385 364.3,409.1Z" fill="#fff"/>
<path d="M333.3,418.2L219.6,394.1 250.5,385 364.3,409.1 333.3,418.2" fill="none" stroke="#141414" stroke-width="1.25"/>
<path d="M333.3,418.2L219.6,394.1 219.7,412.5 333.5,436.6Z" fill="#fff"/>
<path d="M333.3,418.2L219.6,394.1 219.7,412.5 333.5,436.6 333.3,418.2" fill="none" stroke="#141414" stroke-width="1.25"/>
<path d="M333.3,418.2L333.5,436.6 364.4,427.5 364.3,409.1Z" fill="#fff"/>
<path d="M333.3,418.2L333.5,436.6 364.4,427.5 364.3,409.1 333.3,418.2" fill="none" stroke="#141414" stroke-width="1.25"/>
<path d="M323.7,513.1L322.7,513.4 321.9,513.8 321.4,514.2 321.3,514.7 321.4,515.1 321.8,515.5 322.5,515.9 323.5,516.3 324.7,516.6 326.1,516.8 327.6,517 329.3,517.1 331.1,517.2 332.8,517.1 334.5,517 336.1,516.8 337.5,516.6 338.8,516.3 339.8,515.9 340.6,515.5 341.1,515.1 341.2,514.6 341.1,514.2 340.7,513.8 340,513.4 339,513 337.8,512.7 336.4,512.5 334.9,512.3 333.2,512.2 331.4,512.2 329.7,512.2 328,512.3 326.4,512.5 325,512.7 323.7,513.1" fill="none" stroke="#141414" stroke-width="1"/>
<path d="M258.2,499.1L257.2,499.5 256.4,499.9 255.9,500.3 255.7,500.8 255.8,501.2 256.3,501.6 257,502 257.9,502.4 259.1,502.7 260.5,502.9 262.1,503.1 263.8,503.2 265.5,503.3 267.3,503.2 268.9,503.1 270.5,502.9 272,502.7 273.2,502.3 274.3,502 275,501.6 275.5,501.2 275.7,500.7 275.6,500.3 275.2,499.9 274.5,499.5 273.5,499.1 272.3,498.8 270.9,498.6 269.3,498.4 267.6,498.3 265.9,498.2 264.2,498.3 262.5,498.4 260.9,498.6 259.4,498.8 258.2,499.1" fill="none" stroke="#141414" stroke-width="1"/>
<path d="M297.3,433.3L299.6,434.3 301.8,435.8 303.7,437.7 305.4,440.1 306.9,442.8 308,445.9 308.9,449.3 309.4,452.8 309.6,456.6 309.5,460.4 309,464.3 308.2,468.1 307.1,471.9 305.7,475.5 304,478.8 302.1,481.9 299.9,484.6 297.6,487 295.2,488.9 292.7,490.4 290.1,491.4 287.5,491.9 285,491.9 282.5,491.4 215.9,477.3 213.5,476.3 211.4,474.8 209.4,472.9 207.7,470.5 206.2,467.8 205.1,464.7 204.2,461.3 203.7,457.8 203.5,454 203.6,450.2 204.1,446.3 204.9,442.5 206,438.7 207.5,435.1 209.1,431.8 211.1,428.7 213.2,426 215.5,423.6 217.9,421.7 220.5,420.2 223,419.2 225.6,418.7 228.1,418.7 230.6,419.2Z" fill="#fff"/>
<path d="M283.7,491.7L217,477.6" fill="none" stroke="#141414" stroke-width="1.25"/>
<path d="M296.1,433L229.5,418.9" fill="none" stroke="#141414" stroke-width="1.25"/>
<path d="M289.7,433.3L292.3,432.8 294.8,432.8 297.3,433.3 299.6,434.3 301.8,435.8 303.7,437.7 305.4,440.1 306.9,442.8 308,445.9 308.9,449.3 309.4,452.8 309.6,456.6 309.5,460.4 309,464.3 308.2,468.1 307.1,471.9 305.7,475.5 304,478.8 302.1,481.9 299.9,484.6 297.6,487 295.2,488.9 292.7,490.4 290.1,491.4 287.5,491.9 285,491.9 282.5,491.4 280.2,490.4 278,488.9 276.1,487 274.4,484.7 272.9,481.9 271.7,478.8 270.9,475.5 270.4,471.9 270.2,468.2 270.3,464.3 270.8,460.5 271.6,456.6 272.7,452.9 274.1,449.3 275.8,445.9 277.7,442.9 279.9,440.1 282.2,437.8 284.6,435.8 287.1,434.3 289.7,433.3" fill="none" stroke="#141414" stroke-width="1.2"/>
<path d="M217,477.6L214.6,476.8 212.4,475.5 210.3,473.8 208.5,471.7 206.9,469.1 205.6,466.2 204.6,462.9 203.9,459.5 203.6,455.8 203.5,452 203.9,448.1 204.5,444.3 205.5,440.5 206.8,436.8 208.3,433.3 210.1,430.1 212.2,427.2 214.4,424.7 216.8,422.5 219.3,420.8 221.8,419.6 224.4,418.9 227,418.6 229.5,418.9" fill="none" stroke="#141414" stroke-width="1.2"/>
<path d="M280.3,491L277.9,490.2 275.7,489 273.6,487.3 271.8,485.1 270.2,482.5 268.9,479.6 267.9,476.4 267.2,472.9 266.9,469.2 266.9,465.4 267.2,461.6 267.8,457.7 268.8,453.9 270.1,450.2 271.7,446.8 273.5,443.6 275.5,440.7 277.7,438.1 280.1,436 282.6,434.3 285.2,433 287.7,432.3 290.3,432.1 292.8,432.3" fill="none" stroke="#141414" stroke-width="1.2"/>
<path d="M277,490.3L274.6,489.5 272.4,488.3 270.3,486.6 268.5,484.4 266.9,481.8 265.6,478.9 264.6,475.7 263.9,472.2 263.6,468.5 263.5,464.7 263.9,460.9 264.5,457 265.5,453.2 266.8,449.5 268.3,446.1 270.1,442.8 272.2,439.9 274.4,437.4 276.8,435.3 279.3,433.6 281.8,432.3 284.4,431.6 287,431.3 289.5,431.6" fill="none" stroke="#141414" stroke-width="1.2"/>
<path d="M273.7,489.6L271.3,488.8 269,487.6 267,485.8 265.1,483.7 263.6,481.1 262.3,478.2 261.3,475 260.6,471.5 260.2,467.8 260.2,464 260.5,460.1 261.2,456.3 262.2,452.5 263.4,448.8 265,445.4 266.8,442.1 268.8,439.2 271.1,436.7 273.4,434.6 275.9,432.9 278.5,431.6 281.1,430.9 283.6,430.6 286.1,430.9" fill="none" stroke="#141414" stroke-width="1.2"/>
<path d="M270.3,488.9L267.9,488.1 265.7,486.9 263.6,485.1 261.8,483 260.2,480.4 258.9,477.5 257.9,474.3 257.2,470.8 256.9,467.1 256.9,463.3 257.2,459.4 257.8,455.6 258.8,451.8 260.1,448.1 261.7,444.6 263.5,441.4 265.5,438.5 267.7,436 270.1,433.8 272.6,432.1 275.2,430.9 277.7,430.2 280.3,429.9 282.8,430.2" fill="none" stroke="#141414" stroke-width="1.2"/>
<path d="M267,488.2L264.6,487.4 262.4,486.2 260.3,484.4 258.5,482.3 256.9,479.7 255.6,476.8 254.6,473.6 253.9,470.1 253.6,466.4 253.5,462.6 253.9,458.7 254.5,454.9 255.5,451.1 256.8,447.4 258.3,443.9 260.1,440.7 262.2,437.8 264.4,435.3 266.8,433.1 269.3,431.4 271.8,430.2 274.4,429.5 277,429.2 279.5,429.5" fill="none" stroke="#141414" stroke-width="1.2"/>
<path d="M263.7,487.5L261.3,486.7 259,485.5 257,483.7 255.1,481.6 253.6,479 252.3,476.1 251.3,472.8 250.6,469.4 250.2,465.7 250.2,461.9 250.5,458 251.2,454.2 252.2,450.4 253.4,446.7 255,443.2 256.8,440 258.8,437.1 261.1,434.6 263.4,432.4 265.9,430.7 268.5,429.5 271.1,428.8 273.6,428.5 276.1,428.8" fill="none" stroke="#141414" stroke-width="1.2"/>
<path d="M260.3,486.8L257.9,486 255.7,484.7 253.6,483 251.8,480.9 250.2,478.3 248.9,475.4 247.9,472.1 247.2,468.7 246.9,465 246.9,461.2 247.2,457.3 247.8,453.5 248.8,449.7 250.1,446 251.7,442.5 253.5,439.3 255.5,436.4 257.7,433.9 260.1,431.7 262.6,430 265.2,428.8 267.7,428 270.3,427.8 272.8,428.1" fill="none" stroke="#141414" stroke-width="1.2"/>
<path d="M257,486.1L254.6,485.3 252.4,484 250.3,482.3 248.5,480.1 246.9,477.6 245.6,474.7 244.6,471.4 243.9,467.9 243.6,464.3 243.5,460.5 243.9,456.6 244.5,452.7 245.5,448.9 246.8,445.3 248.3,441.8 250.1,438.6 252.2,435.7 254.4,433.2 256.8,431 259.3,429.3 261.8,428.1 264.4,427.3 267,427.1 269.5,427.4" fill="none" stroke="#141414" stroke-width="1.2"/>
<path d="M253.7,485.4L251.3,484.6 249,483.3 247,481.6 245.1,479.4 243.6,476.9 242.3,474 241.3,470.7 240.6,467.2 240.2,463.6 240.2,459.8 240.5,455.9 241.2,452 242.2,448.2 243.4,444.6 245,441.1 246.8,437.9 248.8,435 251.1,432.4 253.4,430.3 255.9,428.6 258.5,427.4 261.1,426.6 263.6,426.4 266.1,426.7" fill="none" stroke="#141414" stroke-width="1.2"/>
<path d="M250.3,484.6L247.9,483.9 245.7,482.6 243.6,480.9 241.8,478.7 240.2,476.2 238.9,473.2 237.9,470 237.2,466.5 236.9,462.9 236.9,459.1 237.2,455.2 237.8,451.3 238.8,447.5 240.1,443.9 241.7,440.4 243.5,437.2 245.5,434.3 247.7,431.7 250.1,429.6 252.6,427.9 255.2,426.7 257.7,425.9 260.3,425.7 262.8,426" fill="none" stroke="#141414" stroke-width="1.2"/>
<path d="M247,483.9L244.6,483.2 242.4,481.9 240.3,480.2 238.5,478 236.9,475.5 235.6,472.5 234.6,469.3 233.9,465.8 233.6,462.2 233.5,458.4 233.9,454.5 234.5,450.6 235.5,446.8 236.8,443.2 238.3,439.7 240.1,436.5 242.2,433.6 244.4,431 246.8,428.9 249.3,427.2 251.8,426 254.4,425.2 257,425 259.5,425.2" fill="none" stroke="#141414" stroke-width="1.2"/>
<path d="M243.7,483.2L241.3,482.5 239,481.2 237,479.5 235.1,477.3 233.6,474.8 232.3,471.8 231.3,468.6 230.6,465.1 230.2,461.4 230.2,457.6 230.5,453.8 231.2,449.9 232.2,446.1 233.4,442.5 235,439 236.8,435.8 238.8,432.9 241.1,430.3 243.4,428.2 245.9,426.5 248.5,425.3 251.1,424.5 253.6,424.3 256.1,424.5" fill="none" stroke="#141414" stroke-width="1.2"/>
<path d="M240.3,482.5L237.9,481.8 235.7,480.5 233.6,478.8 231.8,476.6 230.2,474 228.9,471.1 227.9,467.9 227.2,464.4 226.9,460.7 226.9,456.9 227.2,453.1 227.8,449.2 228.8,445.4 230.1,441.7 231.7,438.3 233.5,435.1 235.5,432.2 237.7,429.6 240.1,427.5 242.6,425.8 245.2,424.5 247.7,423.8 250.3,423.6 252.8,423.8" fill="none" stroke="#141414" stroke-width="1.2"/>
<path d="M237,481.8L234.6,481 232.4,479.8 230.3,478.1 228.5,475.9 226.9,473.3 225.6,470.4 224.6,467.2 223.9,463.7 223.6,460 223.5,456.2 223.9,452.4 224.5,448.5 225.5,444.7 226.8,441 228.3,437.6 230.1,434.4 232.2,431.5 234.4,428.9 236.8,426.8 239.3,425.1 241.8,423.8 244.4,423.1 247,422.9 249.5,423.1" fill="none" stroke="#141414" stroke-width="1.2"/>
<path d="M233.7,481.1L231.3,480.3 229,479.1 227,477.4 225.1,475.2 223.6,472.6 222.3,469.7 221.3,466.5 220.6,463 220.2,459.3 220.2,455.5 220.5,451.7 221.2,447.8 222.2,444 223.4,440.3 225,436.9 226.8,433.6 228.8,430.7 231.1,428.2 233.4,426.1 235.9,424.4 238.5,423.1 241.1,422.4 243.6,422.1 246.1,422.4" fill="none" stroke="#141414" stroke-width="1.2"/>
<path d="M230.3,480.4L227.9,479.6 225.7,478.4 223.6,476.6 221.8,474.5 220.2,471.9 218.9,469 217.9,465.8 217.2,462.3 216.9,458.6 216.9,454.8 217.2,450.9 217.8,447.1 218.8,443.3 220.1,439.6 221.7,436.2 223.5,432.9 225.5,430 227.7,427.5 230.1,425.4 232.6,423.7 235.2,422.4 237.7,421.7 240.3,421.4 242.8,421.7" fill="none" stroke="#141414" stroke-width="1.2"/>
<path d="M227,479.7L224.6,478.9 222.4,477.7 220.3,475.9 218.5,473.8 216.9,471.2 215.6,468.3 214.6,465.1 213.9,461.6 213.6,457.9 213.5,454.1 213.9,450.2 214.5,446.4 215.5,442.6 216.8,438.9 218.3,435.4 220.1,432.2 222.2,429.3 224.4,426.8 226.8,424.6 229.3,422.9 231.8,421.7 234.4,421 237,420.7 239.5,421" fill="none" stroke="#141414" stroke-width="1.2"/>
<path d="M223.7,479L221.3,478.2 219,477 217,475.2 215.1,473.1 213.6,470.5 212.3,467.6 211.3,464.4 210.6,460.9 210.2,457.2 210.2,453.4 210.5,449.5 211.2,445.7 212.2,441.9 213.4,438.2 215,434.7 216.8,431.5 218.8,428.6 221.1,426.1 223.4,423.9 225.9,422.2 228.5,421 231.1,420.3 233.6,420 236.1,420.3" fill="none" stroke="#141414" stroke-width="1.2"/>
<path d="M220.3,478.3L217.9,477.5 215.7,476.3 213.6,474.5 211.8,472.4 210.2,469.8 208.9,466.9 207.9,463.6 207.2,460.2 206.9,456.5 206.9,452.7 207.2,448.8 207.8,445 208.8,441.2 210.1,437.5 211.7,434 213.5,430.8 215.5,427.9 217.7,425.4 220.1,423.2 222.6,421.5 225.2,420.3 227.7,419.6 230.3,419.3 232.8,419.6" fill="none" stroke="#141414" stroke-width="1.2"/>
<path d="M357.9,446.2L360.2,447.2 362.4,448.7 364.3,450.6 366.1,453 367.5,455.7 368.7,458.8 369.5,462.1 370.1,465.7 370.3,469.5 370.1,473.3 369.6,477.2 368.8,481 367.7,484.8 366.3,488.3 364.6,491.7 362.7,494.8 360.6,497.5 358.3,499.9 355.8,501.8 353.3,503.3 350.7,504.3 348.2,504.8 345.6,504.8 343.2,504.3 311.5,497.6 309.2,496.6 307,495.1 305.1,493.2 303.4,490.8 301.9,488.1 300.8,485 299.9,481.6 299.4,478.1 299.2,474.3 299.3,470.5 299.8,466.6 300.6,462.8 301.7,459 303.1,455.4 304.8,452.1 306.7,449 308.9,446.3 311.2,443.9 313.6,442 316.1,440.5 318.7,439.5 321.3,439 323.8,439 326.3,439.5Z" fill="#fff"/>
<path d="M344.3,504.6L312.7,497.9" fill="none" stroke="#141414" stroke-width="1.25"/>
<path d="M356.8,445.9L325.1,439.2" fill="none" stroke="#141414" stroke-width="1.25"/>
<path d="M350.3,446.2L352.9,445.7 355.5,445.7 357.9,446.2 360.2,447.2 362.4,448.7 364.3,450.6 366.1,453 367.5,455.7 368.7,458.8 369.5,462.1 370.1,465.7 370.3,469.5 370.1,473.3 369.6,477.2 368.8,481 367.7,484.8 366.3,488.3 364.6,491.7 362.7,494.8 360.6,497.5 358.3,499.9 355.8,501.8 353.3,503.3 350.7,504.3 348.2,504.8 345.6,504.8 343.2,504.3 340.8,503.3 338.7,501.8 336.7,499.9 335,497.5 333.6,494.8 332.4,491.7 331.5,488.4 331,484.8 330.8,481 331,477.2 331.4,473.3 332.2,469.5 333.4,465.7 334.8,462.2 336.5,458.8 338.4,455.7 340.5,453 342.8,450.6 345.2,448.7 347.8,447.2 350.3,446.2" fill="none" stroke="#141414" stroke-width="1.2"/>
<path d="M312.7,497.9L310.3,497.1 308,495.9 306,494.1 304.1,492 302.6,489.4 301.3,486.5 300.3,483.2 299.6,479.8 299.2,476.1 299.2,472.3 299.5,468.4 300.2,464.6 301.2,460.8 302.4,457.1 304,453.6 305.8,450.4 307.8,447.5 310.1,445 312.4,442.8 314.9,441.1 317.5,439.9 320.1,439.2 322.6,438.9 325.1,439.2" fill="none" stroke="#141414" stroke-width="1.2"/>
<path d="M341.1,503.9L338.8,503.2 336.5,501.9 334.5,500.2 332.6,498 331,495.4 329.7,492.5 328.7,489.3 328,485.8 327.7,482.1 327.7,478.3 328,474.5 328.7,470.6 329.6,466.8 330.9,463.1 332.5,459.7 334.3,456.5 336.3,453.6 338.5,451 340.9,448.9 343.4,447.2 346,445.9 348.5,445.2 351.1,445 353.6,445.2" fill="none" stroke="#141414" stroke-width="1.2"/>
<path d="M338,503.3L335.6,502.5 333.3,501.2 331.3,499.5 329.5,497.3 327.9,494.8 326.6,491.8 325.6,488.6 324.9,485.1 324.5,481.5 324.5,477.7 324.8,473.8 325.5,469.9 326.5,466.1 327.7,462.5 329.3,459 331.1,455.8 333.2,452.9 335.4,450.3 337.8,448.2 340.2,446.5 342.8,445.3 345.4,444.5 347.9,444.3 350.4,444.6" fill="none" stroke="#141414" stroke-width="1.2"/>
<path d="M334.8,502.6L332.4,501.8 330.2,500.6 328.1,498.8 326.3,496.7 324.7,494.1 323.4,491.2 322.4,487.9 321.7,484.5 321.4,480.8 321.4,477 321.7,473.1 322.3,469.3 323.3,465.5 324.6,461.8 326.1,458.3 328,455.1 330,452.2 332.2,449.7 334.6,447.5 337.1,445.8 339.6,444.6 342.2,443.9 344.8,443.6 347.3,443.9" fill="none" stroke="#141414" stroke-width="1.2"/>
<path d="M331.7,501.9L329.3,501.1 327,499.9 325,498.2 323.1,496 321.5,493.4 320.2,490.5 319.2,487.3 318.6,483.8 318.2,480.1 318.2,476.3 318.5,472.5 319.2,468.6 320.1,464.8 321.4,461.1 323,457.7 324.8,454.4 326.8,451.5 329.1,449 331.4,446.9 333.9,445.2 336.5,443.9 339.1,443.2 341.6,442.9 344.1,443.2" fill="none" stroke="#141414" stroke-width="1.2"/>
<path d="M328.5,501.2L326.1,500.5 323.9,499.2 321.8,497.5 320,495.3 318.4,492.8 317.1,489.8 316.1,486.6 315.4,483.1 315,479.5 315,475.6 315.3,471.8 316,467.9 317,464.1 318.3,460.5 319.8,457 321.6,453.8 323.7,450.9 325.9,448.3 328.3,446.2 330.8,444.5 333.3,443.3 335.9,442.5 338.5,442.3 341,442.5" fill="none" stroke="#141414" stroke-width="1.2"/>
<path d="M325.3,500.6L322.9,499.8 320.7,498.5 318.6,496.8 316.8,494.6 315.2,492.1 313.9,489.2 312.9,485.9 312.2,482.5 311.9,478.8 311.9,475 312.2,471.1 312.8,467.2 313.8,463.4 315.1,459.8 316.6,456.3 318.5,453.1 320.5,450.2 322.7,447.7 325.1,445.5 327.6,443.8 330.1,442.6 332.7,441.8 335.3,441.6 337.8,441.9" fill="none" stroke="#141414" stroke-width="1.2"/>
<path d="M322.2,499.9L319.8,499.1 317.5,497.9 315.5,496.1 313.6,494 312.1,491.4 310.8,488.5 309.7,485.3 309.1,481.8 308.7,478.1 308.7,474.3 309,470.4 309.7,466.6 310.6,462.8 311.9,459.1 313.5,455.6 315.3,452.4 317.3,449.5 319.6,447 321.9,444.8 324.4,443.1 327,441.9 329.6,441.2 332.1,440.9 334.6,441.2" fill="none" stroke="#141414" stroke-width="1.2"/>
<path d="M319,499.2L316.6,498.5 314.4,497.2 312.3,495.5 310.5,493.3 308.9,490.7 307.6,487.8 306.6,484.6 305.9,481.1 305.6,477.4 305.5,473.6 305.9,469.8 306.5,465.9 307.5,462.1 308.8,458.4 310.3,455 312.1,451.8 314.2,448.9 316.4,446.3 318.8,444.2 321.3,442.5 323.8,441.2 326.4,440.5 329,440.3 331.5,440.5" fill="none" stroke="#141414" stroke-width="1.2"/>
<path d="M315.8,498.6L313.4,497.8 311.2,496.5 309.1,494.8 307.3,492.6 305.7,490.1 304.4,487.1 303.4,483.9 302.7,480.4 302.4,476.8 302.4,473 302.7,469.1 303.3,465.2 304.3,461.4 305.6,457.8 307.2,454.3 309,451.1 311,448.2 313.2,445.6 315.6,443.5 318.1,441.8 320.7,440.6 323.2,439.8 325.8,439.6 328.3,439.9" fill="none" stroke="#141414" stroke-width="1.2"/>
<path d="M290.6,520.9L288.8,519.7 287.7,517.5 287.3,514.7 258.3,508.5 258.7,511.4 259.8,513.5 261.6,514.7Z" fill="#fff"/>
<path d="M290.6,520.9L288.8,519.7 287.7,517.5 287.3,514.7" fill="none" stroke="#141414" stroke-width="1.25"/>
<path d="M261.6,514.7L259.8,513.5 258.7,511.4 258.3,508.5" fill="none" stroke="#141414" stroke-width="1.25"/>
<path d="M290.6,520.9L261.6,514.7" fill="none" stroke="#141414" stroke-width="1.25"/>
<path d="M287.3,514.7L258.3,508.5" fill="none" stroke="#141414" stroke-width="1.25"/>
<path d="M299.9,429.5L301.9,429.5 272.9,423.3 270.9,423.3Z" fill="#fff"/>
<path d="M299.9,429.5L301.9,429.5" fill="none" stroke="#141414" stroke-width="1.25"/>
<path d="M270.9,423.3L272.9,423.3" fill="none" stroke="#141414" stroke-width="1.25"/>
<path d="M299.9,429.5L270.9,423.3" fill="none" stroke="#141414" stroke-width="1.25"/>
<path d="M301.9,429.5L272.9,423.3" fill="none" stroke="#141414" stroke-width="1.25"/>
<path d="M287.3,514.7L286.8,441.1 257.8,435 258.3,508.5Z" fill="#fff"/>
<path d="M287.3,514.7L286.8,441.1" fill="none" stroke="#141414" stroke-width="1.25"/>
<path d="M258.3,508.5L257.8,435" fill="none" stroke="#141414" stroke-width="1.25"/>
<path d="M287.3,514.7L258.3,508.5" fill="none" stroke="#141414" stroke-width="1.25"/>
<path d="M286.8,441.1L257.8,435" fill="none" stroke="#141414" stroke-width="1.25"/>
<path d="M292,431.8L299.9,429.5 270.9,423.3 263,425.7Z" fill="#fff"/>
<path d="M292,431.8L299.9,429.5" fill="none" stroke="#141414" stroke-width="1.25"/>
<path d="M263,425.7L270.9,423.3" fill="none" stroke="#141414" stroke-width="1.25"/>
<path d="M292,431.8L263,425.7" fill="none" stroke="#141414" stroke-width="1.25"/>
<path d="M299.9,429.5L270.9,423.3" fill="none" stroke="#141414" stroke-width="1.25"/>
<path d="M286.8,441.1L287.1,438 288.3,435.2 290,433 292,431.8 263,425.7 261,426.8 259.3,429 258.1,431.9 257.8,435Z" fill="#fff"/>
<path d="M286.8,441.1L287.1,438 288.3,435.2 290,433 292,431.8" fill="none" stroke="#141414" stroke-width="1.25"/>
<path d="M257.8,435L258.1,431.9 259.3,429 261,426.8 263,425.7" fill="none" stroke="#141414" stroke-width="1.25"/>
<path d="M286.8,441.1L257.8,435" fill="none" stroke="#141414" stroke-width="1.25"/>
<path d="M292,431.8L263,425.7" fill="none" stroke="#141414" stroke-width="1.25"/>
<path d="M299.9,429.5L301.9,429.5 303.6,430.7 304.7,432.9 305.2,435.7 305.7,509.3 305.3,512.4 304.2,515.2 302.5,517.4 300.5,518.6 292.6,520.9 290.6,520.9 288.8,519.7 287.7,517.5 287.3,514.7 286.8,441.1 287.1,438 288.3,435.2 290,433 292,431.8Z" fill="#fff"/>
<path d="M299.9,429.5L301.9,429.5 303.6,430.7 304.7,432.9 305.2,435.7 305.7,509.3 305.3,512.4 304.2,515.2 302.5,517.4 300.5,518.6 292.6,520.9 290.6,520.9 288.8,519.7 287.7,517.5 287.3,514.7 286.8,441.1 287.1,438 288.3,435.2 290,433 292,431.8 299.9,429.5" fill="none" stroke="#141414" stroke-width="1.25"/>
<path d="M771.8,577.8L776.8,577.5 782.1,576.9 786.7,576.2 790.5,575.1 793,574 794.5,572.2 794.1,561.5 792.4,559.2 789.8,557.3 785.8,555 781.1,552.8 775.8,550.6 770.6,548.6 770.2,542.4 775.1,541.5 780.2,540.4 784.7,539.2 788.4,537.7 790.8,536.3 792.2,534.4 791.1,523.5 789.3,521.4 786.6,519.7 782.5,517.9 777.8,516.1 772.4,514.4 767.2,513 766.4,506.8 771.2,505.4 776.2,503.7 780.5,502 784,500.1 786.3,498.5 787.5,496.3 785.8,485.5 783.9,483.5 781.1,482.1 777,480.7 772.3,479.4 766.8,478.3 761.7,477.4 760.5,471.1 765.1,469.2 769.9,467 774,464.8 777.4,462.6 779.5,460.7 780.6,458.4 778.2,447.6 776.2,445.8 773.4,444.7 769.3,443.7 764.5,442.9 759.1,442.3 754,442 752.5,435.8 756.9,433.4 761.5,430.6 765.3,428 768.6,425.3 770.5,423.2 771.5,420.8 768.4,410.1 766.4,408.5 763.6,407.7 759.4,407.1 754.7,406.8 749.4,406.8 744.3,406.9 742.4,400.9 746.6,398 750.9,394.7 754.6,391.6 757.5,388.6 759.3,386.2 760.1,383.7 756.5,373.3 754.3,371.9 751.5,371.3 747.5,371.1 742.8,371.3 737.5,371.9 732.6,372.6 730.3,366.6 734.3,363.3 738.3,359.5 741.7,356 744.5,352.7 746.1,350.1 746.7,347.4 742.5,337.3 740.3,336.1 737.5,335.8 733.5,336 728.9,336.7 723.7,337.8 718.9,339.1 716.3,333.3 720,329.5 723.7,325.3 726.9,321.4 729.4,317.7 730.8,314.9 731.2,312.2 726.5,302.3 724.2,301.4 721.5,301.4 717.5,302.1 713.1,303.3 708.1,304.9 703.4,306.7 700.5,301.1 703.9,296.9 707.3,292.2 710.1,287.9 712.4,284 713.6,281 713.9,278.2 708.6,268.7 706.3,268 703.6,268.3 699.8,269.4 695.4,271.1 690.7,273.3 686.2,275.5 683,270.2 686,265.6 689.1,260.5 691.6,255.9 693.6,251.6 694.6,248.5 694.7,245.6 688.9,236.7 686.6,236.1 684,236.8 680.3,238.3 676.1,240.4 671.6,243.1 667.3,245.9 663.8,240.8 666.5,235.8 669.2,230.4 671.4,225.4 673.1,220.9 673.9,217.7 673.8,214.8 667.6,206.3 665.3,206 662.7,206.9 659.2,208.8 655.3,211.4 650.9,214.6 646.9,217.9 643.2,213.2 645.5,207.8 647.9,202 649.7,196.8 651.1,192.1 651.7,188.7 651.4,185.8 644.7,177.8 642.5,177.8 640,179 636.6,181.3 632.9,184.3 628.9,188 625.1,191.7 621.2,187.3 623.2,181.7 625.1,175.6 626.6,170.1 627.6,165.2 628,161.7 627.5,158.8 620.5,151.5 618.3,151.7 615.9,153.1 612.8,155.8 609.3,159.3 605.6,163.5 602.1,167.6 597.9,163.6 599.5,157.6 601.1,151.3 602.2,145.6 602.9,140.5 603.1,137 602.4,134.1 595.1,127.4 592.9,127.8 590.7,129.6 587.7,132.6 584.5,136.4 581.1,141.1 578,145.6 573.6,142 574.8,135.8 575.9,129.3 576.7,123.4 577.1,118.2 577,114.6 576.2,111.7 568.6,105.8 566.5,106.4 564.4,108.4 561.7,111.7 558.8,116 555.7,121 552.9,125.9 548.4,122.7 549.2,116.4 549.9,109.6 550.3,103.6 550.3,98.3 550,94.7 549.1,91.8 541.2,86.6 539.2,87.5 537.2,89.7 534.8,93.4 532.2,98 529.5,103.4 527,108.7 522.4,105.9 522.8,99.4 523.1,92.5 523.1,86.4 522.8,81 522.3,77.4 521.1,74.6 513.1,70.2 511.1,71.3 509.4,73.7 507.2,77.7 504.9,82.6 502.6,88.4 500.5,94 495.8,91.6 495.8,85 495.6,78 495.2,71.8 494.6,66.5 493.9,62.8 492.6,60.1 484.4,56.5 482.6,57.8 481,60.5 479.1,64.7 477.2,69.9 475.3,76 473.6,81.9 468.8,80 468.4,73.3 467.7,66.3 467,60.1 466.1,54.7 465.1,51.1 463.7,48.5 455.4,45.7 453.7,47.2 452.3,50.1 450.7,54.6 449.2,60 447.6,66.4 446.3,72.5 441.5,71.1 440.7,64.4 439.6,57.3 438.5,51.1 437.3,45.8 436.1,42.2 434.6,39.8 426.2,37.8 424.6,39.6 423.5,42.6 422.2,47.3 421,53 419.8,59.5 418.9,65.8 414.1,65 412.9,58.3 411.4,51.2 409.9,45.1 408.4,39.8 407,36.4 405.4,34 397.1,33 395.6,34.9 394.6,38 393.6,42.9 392.8,48.8 392.1,55.5 391.6,62 386.8,61.6 385.2,55 383.3,48 381.5,42 379.6,36.8 378.1,33.5 376.3,31.3 368.1,31.1 366.8,33.2 366,36.4 365.3,41.5 364.9,47.5 364.6,54.4 364.5,61 359.8,61.1 357.8,54.6 355.5,47.8 353.3,41.8 351.2,36.8 349.5,33.6 347.6,31.6 339.5,32.2 338.3,34.5 337.8,37.9 337.4,43.1 337.4,49.2 337.5,56.2 337.8,62.9 333.2,63.5 330.8,57.1 328.2,50.4 325.7,44.6 323.2,39.8 321.4,36.7 319.4,34.9 311.4,36.4 310.4,38.8 310.1,42.3 310.1,47.6 310.4,53.7 311,60.8 311.7,67.5 307.2,68.6 304.5,62.4 301.4,55.9 298.6,50.4 295.9,45.7 293.9,42.8 291.8,41.2 284.1,43.5 283.3,46.1 283.2,49.6 283.5,55 284.2,61.2 285.2,68.3 286.3,75 282,76.6 278.9,70.6 275.5,64.4 272.4,59 269.5,54.6 267.3,51.9 265.1,50.5 257.7,53.6 257,56.3 257.2,59.9 257.8,65.3 258.9,71.5 260.3,78.5 261.8,85.2 257.6,87.2 254.2,81.5 250.5,75.6 247.1,70.5 244,66.4 241.7,63.8 239.5,62.6 232.4,66.6 231.9,69.3 232.2,73 233.2,78.4 234.6,84.5 236.5,91.5 238.4,98.1 234.4,100.6 230.7,95.1 226.7,89.5 223,84.8 219.7,80.9 217.2,78.6 215,77.6 208.3,82.4 208,85.2 208.5,88.9 209.8,94.2 211.6,100.3 213.8,107.1 216.1,113.5 212.4,116.5 208.4,111.4 204.1,106.2 200.2,101.8 196.7,98.2 194.2,96.1 191.9,95.3 185.6,100.9 185.4,103.7 186.2,107.4 187.8,112.6 189.9,118.6 192.6,125.2 195.2,131.5 191.7,134.9 187.5,130.2 182.9,125.3 178.8,121.3 175.2,118.1 172.5,116.2 170.3,115.7 164.4,121.9 164.4,124.9 165.4,128.4 167.3,133.6 169.8,139.4 172.8,145.8 175.8,151.9 172.5,155.7 168.1,151.4 163.3,146.9 159,143.3 155.2,140.4 152.5,138.8 150.3,138.5 144.9,145.4 145.1,148.4 146.3,151.9 148.5,156.9 151.2,162.5 154.6,168.7 157.9,174.5 154.9,178.7 150.3,174.8 145.4,170.8 140.9,167.6 137,165.1 134.3,163.8 132,163.7 127.1,171.3 127.5,174.2 128.9,177.6 131.4,182.5 134.5,187.8 138.1,193.8 141.8,199.3 139.1,203.8 134.3,200.3 129.2,196.9 124.6,194 120.6,191.9 117.8,190.9 115.6,191 111.3,199.2 111.9,202.1 113.5,205.5 116.2,210.1 119.5,215.2 123.5,220.8 127.4,226 125.1,230.9 120.2,227.9 114.9,224.9 110.3,222.5 106.2,220.8 103.4,220 101.2,220.4 97.5,229.1 98.2,232 100,235.2 102.9,239.6 106.6,244.4 110.8,249.7 115,254.5 113,259.7 108,257.1 102.6,254.7 97.9,252.8 93.8,251.5 91,251 88.9,251.6 85.7,260.8 86.7,263.7 88.6,266.7 91.8,270.8 95.6,275.3 100.1,280.2 104.5,284.6 102.9,290.1 97.8,288 92.4,286.1 87.6,284.7 83.5,283.8 80.7,283.6 78.7,284.4 76.2,294.1 77.2,296.9 79.3,299.7 82.7,303.6 86.8,307.7 91.5,312.1 96.1,316.2 94.8,321.8 89.7,320.3 84.2,318.9 79.5,318 75.4,317.5 72.6,317.6 70.7,318.7 68.8,328.7 70,331.4 72.3,334.1 75.8,337.6 80.1,341.3 85,345.3 89.8,348.9 88.9,354.8 83.7,353.8 78.3,352.9 73.5,352.5 69.5,352.5 66.8,352.9 64.9,354.1 63.7,364.4 65.1,367 67.4,369.5 71.2,372.7 75.6,376 80.7,379.5 85.6,382.7 85.1,388.7 79.9,388.2 74.5,388 69.8,388 65.8,388.4 63.2,389.1 61.5,390.6 60.9,401.1 62.4,403.6 64.9,405.9 68.7,408.7 73.3,411.6 78.5,414.6 83.5,417.3 83.4,423.4 78.3,423.5 73,423.8 68.4,424.3 64.5,425.1 62,426.1 60.4,427.8 60.5,438.5 62.1,440.8 64.7,442.9 68.6,445.3 73.3,447.8 78.6,450.3 83.7,452.4 83.9,458.6 78.9,459.2 73.7,460.1 69.2,461.1 65.4,462.3 63,463.6 61.5,465.5 62.3,476.3 64.1,478.5 66.7,480.3 70.7,482.3 75.5,484.3 80.9,486.3 86,487.9 86.6,494.2 81.8,495.3 76.7,496.7 72.4,498.2 68.7,499.9 66.4,501.4 65,503.4 66.5,514.3 68.3,516.3 71,517.9 75.1,519.5 79.9,521 85.3,522.5 90.5,523.6 91.5,529.9 86.8,531.5 81.9,533.5 77.7,535.4 74.2,537.5 72,539.3 70.8,541.5 72.9,552.3 74.9,554.2 77.6,555.4 81.8,556.7 86.5,557.7 91.9,558.6 97.1,559.2 98.5,565.4 93.9,567.5 89.3,570 85.3,572.5 82,574.9 79.9,576.9 78.9,579.3 81.6,590 83.6,591.7 86.4,592.7 90.6,593.5 95.3,594 100.7,594.3 105.8,594.4 107.5,600.6 103.2,603.2 98.8,606.2 95,609.1 91.9,611.9 90,614.2 89.1,616.7 92.5,627.2 94.6,628.7 97.4,629.4 101.5,629.8 106.2,629.8 111.5,629.6 116.5,629.1 118.6,635.2 114.5,638.3 110.3,641.8 106.8,645.1 103.9,648.3 102.2,650.7 101.5,653.4 105.5,663.7 107.6,665 110.4,665.4 114.5,665.3 119.1,664.9 124.3,664.1 129.2,663.1 131.7,668.9 127.8,672.6 123.9,676.5 120.7,680.2 118,683.8 116.5,686.4 116,689.1 120.5,699.2 122.7,700.2 125.5,700.3 129.5,699.9 134,699 139.1,697.6 143.8,696.1 146.6,701.7 143,705.8 139.4,710.2 136.5,714.3 134.1,718.1 132.8,721 132.4,723.8 137.5,733.4 139.7,734.3 142.4,734.1 146.3,733.2 150.7,731.8 155.6,729.9 160.2,727.9 163.2,733.3 160,737.8 156.8,742.6 154.1,747.1 152,751.2 150.9,754.2 150.7,757.1 156.3,766.3 158.5,766.9 161.2,766.5 165,765.2 169.2,763.3 173.9,760.8 178.3,758.3 181.6,763.5 178.7,768.3 175.8,773.6 173.5,778.3 171.7,782.7 170.7,785.9 170.8,788.8 176.8,797.6 179,797.9 181.6,797.2 185.3,795.5 189.3,793.1 193.8,790.2 197.9,787.1 201.5,792 199,797.2 196.5,802.8 194.4,807.9 192.9,812.5 192.2,815.8 192.4,818.8 198.9,827 201.1,827.1 203.6,826.1 207.1,824 210.9,821.2 215.1,817.7 219,814.2 222.9,818.8 220.7,824.3 218.6,830.2 216.9,835.6 215.7,840.4 215.2,843.8 215.6,846.8 222.4,854.4 224.7,854.3 227.1,853 230.3,850.5 233.9,847.3 237.8,843.3 241.4,839.4 245.5,843.6 243.7,849.4 242,855.6 240.7,861.2 239.8,866.2 239.5,869.7 240.1,872.7 247.3,879.6 249.5,879.3 251.7,877.7 254.8,874.9 258.1,871.2 261.7,866.8 265,862.5 269.3,866.3 267.9,872.4 266.6,878.8 265.6,884.6 265.1,889.7 265,893.3 265.8,896.2 273.3,902.5 275.4,902 277.5,900.2 280.4,896.9 283.4,892.9 286.7,888.1 289.7,883.3 294.1,886.7 293.1,893 292.2,899.7 291.6,905.6 291.4,910.9 291.6,914.5 292.5,917.4 300.2,922.9 302.3,922.2 304.3,920.1 306.9,916.5 309.6,912.1 312.5,906.9 315.2,901.8 319.7,904.8 319.1,911.2 318.6,918.1 318.5,924.1 318.6,929.5 319,933.1 320,935.9 328,940.7 330,939.7 331.8,937.4 334.1,933.6 336.6,928.8 339.1,923.2 341.4,917.8 346,920.4 345.8,926.9 345.8,933.9 346,940 346.4,945.4 347,949.1 348.2,951.8 356.4,955.8 358.3,954.6 359.9,952.1 362,947.9 364.1,942.9 366.2,937 368.1,931.2 372.9,933.3 373.1,940 373.5,947 374,953.2 374.8,958.6 375.6,962.2 377,964.8 385.3,968 387,966.6 388.5,963.9 390.3,959.5 392,954.2 393.7,948 395.2,942 400,943.6 400.7,950.3 401.5,957.4 402.4,963.6 403.5,968.9 404.6,972.5 406,975 414.4,977.4 416,975.8 417.3,972.9 418.8,968.2 420.1,962.7 421.5,956.2 422.6,950 427.4,951.1 428.4,957.8 429.7,964.9 431,971.1 432.4,976.4 433.6,979.9 435.2,982.3 443.6,983.8 445.1,982 446.2,978.9 447.3,974 448.3,968.3 449.2,961.6 449.9,955.2 454.7,955.9 456.2,962.5 457.8,969.5 459.5,975.6 461.2,980.9 462.6,984.3 464.4,986.5 472.7,987.2 474.1,985.2 474.9,981.9 475.8,976.9 476.4,971 476.9,964.2 477.2,957.6 481.9,957.8 483.7,964.4 485.8,971.3 487.8,977.3 489.8,982.4 491.5,985.6 493.3,987.7 501.5,987.5 502.7,985.4 503.4,982 503.9,976.9 504.1,970.8 504.2,963.9 504.1,957.2 508.8,956.9 511,963.3 513.4,970.1 515.8,975.9 518.1,980.9 519.9,984 521.8,985.9 529.8,984.9 530.9,982.6 531.4,979.1 531.5,973.8 531.4,967.7 531,960.7 530.5,954 535.1,953.1 537.6,959.4 540.5,966 543.2,971.7 545.7,976.4 547.7,979.4 549.7,981.1 557.5,979.2 558.5,976.8 558.7,973.2 558.5,967.9 558,961.7 557.2,954.6 556.3,947.9 560.7,946.6 563.6,952.7 566.8,959 569.8,964.5 572.6,969 574.7,971.8 576.8,973.3 584.4,970.6 585.2,968 585.2,964.4 584.7,959 583.8,952.8 582.6,945.8 581.2,939.1 585.5,937.2 588.8,943.1 592.3,949.2 595.6,954.4 598.6,958.7 600.9,961.3 603,962.6 610.3,959 610.9,956.3 610.7,952.7 609.9,947.3 608.6,941.1 607,934.1 605.2,927.5 609.3,925.2 612.9,930.8 616.7,936.6 620.3,941.5 623.5,945.5 625.9,947.9 628.1,949 635,944.6 635.4,941.9 635,938.2 633.9,932.9 632.3,926.7 630.2,919.8 628.1,913.3 632,910.6 635.8,915.9 640,921.3 643.7,925.9 647.2,929.6 649.7,931.8 651.9,932.7 658.5,927.5 658.7,924.7 658,921 656.6,915.7 654.6,909.7 652.2,902.9 649.7,896.6 653.4,893.4 657.5,898.3 661.9,903.4 665.9,907.6 669.5,911 672.1,912.9 674.3,913.6 680.4,907.7 680.5,904.8 679.6,901.2 677.8,896 675.5,890.1 672.7,883.6 669.9,877.4 673.3,873.8 677.6,878.3 682.3,883 686.5,886.8 690.2,889.9 692.9,891.6 695.1,892 700.8,885.4 700.6,882.5 699.6,878.9 697.5,873.8 694.9,868.1 691.7,861.8 688.6,855.9 691.7,851.8 696.2,856 701.1,860.2 705.4,863.7 709.3,866.3 712,867.8 714.3,868 719.4,860.7 719.1,857.8 717.8,854.3 715.5,849.4 712.6,843.9 709.1,837.8 705.6,832.1 708.4,827.8 713.1,831.5 718.1,835.2 722.6,838.3 726.6,840.6 729.4,841.7 731.6,841.7 736.2,833.8 735.7,830.9 734.2,827.5 731.7,822.8 728.4,817.5 724.6,811.8 720.8,806.4 723.3,801.7 728.2,804.9 733.4,808.2 738,810.8 742,812.7 744.8,813.6 747,813.3 751.1,804.9 750.4,801.9 748.7,798.7 745.9,794.2 742.4,789.2 738.3,783.8 734.2,778.8 736.4,773.7 741.4,776.5 746.7,779.2 751.4,781.4 755.5,782.9 758.3,783.5 760.4,783 763.8,774 763,771.2 761.2,768 758.1,763.8 754.4,759.1 750,754.1 745.7,749.4 747.5,744.1 752.6,746.4 758,748.6 762.7,750.3 766.8,751.4 769.6,751.7 771.7,751 774.5,741.6 773.5,738.7 771.5,735.8 768.2,731.8 764.3,727.5 759.7,722.8 755.2,718.6 756.6,713 761.7,714.8 767.2,716.5 771.9,717.7 776.1,718.3 778.8,718.4 780.8,717.4 783,707.6 781.8,704.8 779.7,702.1 776.2,698.4 772.1,694.5 767.2,690.2 762.5,686.4 763.6,680.6 768.8,681.9 774.2,683 779,683.7 783.1,684 785.8,683.7 787.7,682.5 789.2,672.4 787.9,669.7 785.6,667.1 782,663.8 777.7,660.2 772.6,656.5 767.8,653.1 768.5,647.2 773.7,647.9 779.1,648.5 783.8,648.7 787.8,648.5 790.5,647.9 792.3,646.6 793.2,636.1 791.7,633.6 789.3,631.2 785.5,628.2 781.1,625.1 775.9,621.8 770.9,618.9 771.2,612.8 776.4,613 781.7,613 786.4,612.7 790.3,612.1 792.9,611.3 794.6,609.7 794.8,599.1 793.2,596.7 790.7,594.5 786.8,591.9 782.2,589.2 776.9,586.4 771.9,584ZM473.9,238.9L474.3,235.5 475.5,232.6 477.3,230.5 479.7,229.3 482.3,229.1 485.1,230 491.9,233.7 500.9,239.2 509.7,245.1 520.2,253.2 522.1,254.2 524,254.7 525.9,254.5 527.6,253.7 529,252.4 530,250.5 546,210.1 547.3,204.9 547.4,199.2 546.4,193.4 544.2,187.9 541,183.1 537.1,179.4 523.9,169.6 513.8,163.2 503.6,157.2 493.3,151.7 482.9,146.6 472.5,142 462,137.8 451.5,134.1 440.9,130.9 430.3,128.2 419.7,125.9 409.1,124.2 398.6,122.9 388,122.1 377.6,121.8 367.1,122 356.8,122.7 346.6,123.9 336.4,125.6 326.4,127.7 313.2,131.9 309.4,134 306.3,137.4 304.2,142 303.2,147.4 303.4,153.2 304.8,158.9 321.4,206.2 322.4,208.5 323.9,210.5 325.6,212 327.4,213 329.3,213.3 331.2,213 341.7,209.5 350.4,207.3 359.3,205.6 366.2,204.8 368.9,205 371.5,206.3 373.9,208.5 375.8,211.5 377,214.9 377.5,218.4 378.4,350.1 378.5,351.4 378.9,352.6 379.5,353.7 380.3,354.7 381.2,355.3 382.2,355.7 471.1,374.6 472,374.6 472.9,374.3 473.7,373.7 474.3,372.9 474.7,371.8 474.8,370.5ZM646.5,617.7L649.2,618.8 651.6,620.9 653.6,623.7 655,627.1 655.6,630.6 655.3,634 653.7,642.5 650.9,653.3 647.8,664 643.4,676.5 642.9,678.8 642.9,681.2 643.3,683.7 644.3,686.1 645.6,688.2 647.2,689.9 681.4,718 685.7,720.7 690.2,721.8 694.5,721.4 698.4,719.5 701.6,716.2 703.8,711.7 709.2,695.9 712.4,683.7 715.3,671.2 717.8,658.6 720,645.8 721.8,632.8 723.2,619.6 724.2,606.3 724.9,592.9 725.2,579.4 725.1,565.7 724.6,552.1 723.7,538.3 722.5,524.5 720.9,510.7 719,496.9 716.6,483.2 713.9,469.4 710.9,455.7 707.4,442.1 701.9,424 699.6,418.5 696.3,413.8 692.4,410.2 688,408 683.6,407.3 679.3,408.1 645.4,421.8 643.8,422.8 642.5,424.3 641.6,426.3 641.2,428.6 641.2,431.1 641.8,433.6 646.4,448 649.6,460 652.5,472 654.3,481.2 654.6,484.8 654,488.1 652.7,490.8 650.7,492.8 648.3,493.9 645.6,493.8 543.2,472.1 542.2,472 541.3,472.3 540.5,472.9 539.9,473.8 539.6,474.9 539.5,476.1 540.2,590.3 540.4,591.6 540.8,592.9 541.4,594 542.1,594.9 543.1,595.6 544,596ZM381.3,779.9L380.9,783.3 379.7,786.2 377.9,788.3 375.5,789.5 372.9,789.7 370.1,788.8 363.3,785.1 354.3,779.6 345.5,773.7 335,765.6 333.1,764.6 331.2,764.1 329.3,764.3 327.6,765.1 326.2,766.4 325.2,768.3 309.2,808.7 307.9,813.9 307.8,819.6 308.8,825.4 311,830.9 314.2,835.7 318.1,839.4 331.3,849.2 341.4,855.6 351.6,861.6 361.9,867.1 372.3,872.2 382.7,876.8 393.2,881 403.7,884.7 414.3,887.9 424.9,890.6 435.5,892.9 446.1,894.6 456.6,895.9 467.2,896.7 477.6,897 488.1,896.8 498.4,896.1 508.6,894.9 518.8,893.2 528.8,891.1 542,886.9 545.8,884.8 548.9,881.4 551,876.8 552,871.4 551.8,865.6 550.4,859.9 533.8,812.6 532.8,810.3 531.3,808.3 529.6,806.8 527.8,805.8 525.9,805.5 524,805.8 513.5,809.3 504.8,811.5 495.9,813.2 489,814 486.3,813.8 483.7,812.5 481.3,810.3 479.4,807.3 478.2,803.9 477.7,800.4 476.8,668.7 476.7,667.4 476.3,666.2 475.7,665.1 474.9,664.1 474,663.5 473,663.1 384.1,644.2 383.2,644.2 382.3,644.5 381.5,645.1 380.9,645.9 380.5,647 380.4,648.3ZM208.7,401.1L206,400 203.6,397.9 201.6,395.1 200.2,391.7 199.6,388.2 199.9,384.8 201.5,376.3 204.3,365.5 207.4,354.8 211.8,342.3 212.3,340 212.3,337.6 211.9,335.1 210.9,332.7 209.6,330.6 208,328.9 173.8,300.8 169.5,298.1 165,297 160.7,297.4 156.8,299.3 153.6,302.6 151.4,307.1 146,322.9 142.8,335.1 139.9,347.6 137.4,360.2 135.2,373 133.4,386 132,399.2 131,412.5 130.3,425.9 130,439.4 130.1,453.1 130.6,466.7 131.5,480.5 132.7,494.3 134.3,508.1 136.2,521.9 138.6,535.6 141.3,549.4 144.3,563.1 147.8,576.7 153.3,594.8 155.6,600.3 158.9,605 162.8,608.6 167.2,610.8 171.6,611.5 175.9,610.7 209.8,597 211.4,596 212.7,594.5 213.6,592.5 214,590.2 214,587.7 213.4,585.2 208.8,570.8 205.6,558.8 202.7,546.8 200.9,537.6 200.6,534 201.2,530.7 202.5,528 204.5,526 206.9,524.9 209.6,525 312,546.7 313,546.8 313.9,546.5 314.7,545.9 315.3,545 315.6,543.9 315.7,542.7 315,428.5 314.8,427.2 314.4,425.9 313.8,424.8 313.1,423.9 312.1,423.2 311.2,422.8Z" fill="#fff" fill-rule="evenodd" stroke="#141414" stroke-width="1.25"/>
<path d="M434.4,410.5L434.3,408.8 434,407.1 433.4,405.5 432.6,403.9 431.7,402.5 430.6,401.3 429.4,400.4 428.2,399.7 426.8,399.2 425.5,399.1 424.3,399.3 423.1,399.7 422,400.5 421.1,401.5 420.4,402.7 419.8,404.1 419.5,405.7 419.4,407.3 419.5,409 419.9,410.7 420.4,412.4 421.2,413.9 422.1,415.3 423.2,416.5 424.4,417.5 425.7,418.2 427,418.6 428.3,418.7 429.6,418.6 430.7,418.1 431.8,417.4 432.7,416.4 433.5,415.1 434,413.7 434.3,412.2 434.4,410.5Z" fill="#fff" stroke="#141414" stroke-width="1.5"/>
<path d="M432.2,410L432.1,408.8 431.9,407.6 431.5,406.5 430.9,405.4 430.3,404.4 429.5,403.6 428.7,402.9 427.8,402.4 426.9,402.1 426,402 425.1,402.2 424.2,402.5 423.5,403 422.8,403.7 422.3,404.6 421.9,405.5 421.7,406.6 421.6,407.8 421.7,409 422,410.2 422.4,411.3 422.9,412.4 423.6,413.4 424.3,414.2 425.2,414.9 426,415.4 427,415.7 427.9,415.8 428.8,415.7 429.6,415.3 430.3,414.8 431,414.1 431.5,413.3 431.9,412.3 432.1,411.2 432.2,410" fill="none" stroke="#141414" stroke-width="1.5"/>
<path d="M513.3,527.6L513.2,525.9 512.8,524.2 512.3,522.5 511.5,521 510.6,519.6 509.5,518.4 508.3,517.4 507,516.7 505.7,516.3 504.4,516.2 503.2,516.4 502,516.8 500.9,517.6 500,518.5 499.2,519.8 498.7,521.2 498.4,522.7 498.3,524.4 498.4,526.1 498.7,527.8 499.3,529.5 500.1,531 501,532.4 502.1,533.6 503.3,534.5 504.5,535.3 505.9,535.7 507.2,535.8 508.4,535.6 509.6,535.2 510.7,534.4 511.6,533.4 512.3,532.2 512.9,530.8 513.2,529.3 513.3,527.6Z" fill="#fff" stroke="#141414" stroke-width="1.5"/>
<path d="M511.1,527.1L511,525.9 510.7,524.7 510.3,523.6 509.8,522.5 509.1,521.5 508.4,520.7 507.6,520 506.7,519.5 505.7,519.2 504.8,519.1 503.9,519.2 503.1,519.6 502.4,520.1 501.7,520.8 501.2,521.6 500.8,522.6 500.6,523.7 500.5,524.9 500.6,526.1 500.9,527.3 501.2,528.4 501.8,529.5 502.4,530.5 503.2,531.3 504,532 504.9,532.5 505.8,532.8 506.8,532.9 507.6,532.7 508.5,532.4 509.2,531.9 509.9,531.2 510.4,530.4 510.8,529.4 511,528.3 511.1,527.1" fill="none" stroke="#141414" stroke-width="1.5"/>
<path d="M435.8,611.5L435.7,609.8 435.3,608.1 434.8,606.4 434,604.9 433.1,603.5 432,602.3 430.8,601.3 429.5,600.6 428.2,600.2 426.9,600.1 425.6,600.2 424.5,600.7 423.4,601.4 422.5,602.4 421.7,603.7 421.2,605.1 420.9,606.6 420.8,608.3 420.9,610 421.2,611.7 421.8,613.3 422.6,614.9 423.5,616.3 424.6,617.5 425.8,618.4 427,619.1 428.4,619.6 429.7,619.7 430.9,619.5 432.1,619.1 433.2,618.3 434.1,617.3 434.8,616.1 435.4,614.7 435.7,613.1 435.8,611.5Z" fill="#fff" stroke="#141414" stroke-width="1.5"/>
<path d="M433.6,611L433.5,609.8 433.2,608.6 432.8,607.5 432.3,606.4 431.6,605.4 430.9,604.6 430,603.9 429.2,603.4 428.2,603.1 427.3,603 426.4,603.1 425.6,603.5 424.9,604 424.2,604.7 423.7,605.5 423.3,606.5 423.1,607.6 423,608.8 423.1,610 423.3,611.2 423.7,612.3 424.3,613.4 424.9,614.4 425.7,615.2 426.5,615.9 427.4,616.4 428.3,616.7 429.2,616.8 430.1,616.6 431,616.3 431.7,615.8 432.4,615.1 432.9,614.2 433.3,613.3 433.5,612.2 433.6,611" fill="none" stroke="#141414" stroke-width="1.5"/>
<path d="M356.9,494.4L356.8,492.7 356.5,491 355.9,489.3 355.1,487.8 354.2,486.4 353.1,485.2 351.9,484.3 350.7,483.5 349.3,483.1 348,483 346.8,483.2 345.6,483.6 344.5,484.4 343.6,485.4 342.9,486.6 342.3,488 342,489.5 341.9,491.2 342,492.9 342.4,494.6 342.9,496.3 343.7,497.8 344.6,499.2 345.7,500.4 346.9,501.4 348.2,502.1 349.5,502.5 350.8,502.6 352,502.4 353.2,502 354.3,501.2 355.2,500.3 356,499 356.5,497.6 356.8,496.1 356.9,494.4Z" fill="#fff" stroke="#141414" stroke-width="1.5"/>
<path d="M354.7,493.9L354.6,492.7 354.3,491.5 354,490.4 353.4,489.3 352.8,488.3 352,487.5 351.2,486.8 350.3,486.3 349.4,486 348.4,485.9 347.6,486.1 346.7,486.4 346,486.9 345.3,487.6 344.8,488.4 344.4,489.4 344.2,490.5 344.1,491.7 344.2,492.9 344.5,494.1 344.9,495.2 345.4,496.3 346.1,497.3 346.8,498.1 347.6,498.8 348.5,499.3 349.5,499.6 350.4,499.7 351.3,499.6 352.1,499.2 352.8,498.7 353.5,498 354,497.2 354.4,496.2 354.6,495.1 354.7,493.9" fill="none" stroke="#141414" stroke-width="1.5"/>
<path d="M73.4,678.3L69.5,679 65.5,679.3 61.5,679.1 57.4,678.5 53.3,677.4 49.2,675.8 45.2,673.9 41.3,671.4 37.5,668.6 33.9,665.4 30.4,661.9 27.1,658 24.1,653.8 21.3,649.3 18.8,644.6 16.5,639.7 14.6,634.6 13,629.4 11.8,624.2 10.8,618.8 10.3,613.5 10,608.2 10.2,603 10.7,597.9 11.5,592.9 12.7,588.2 14.3,583.7 16.1,579.4 18.3,575.4 20.8,571.8 23.5,568.5 26.5,565.6 29.7,563.1 33.2,561 36.8,559.3 40.5,558.1 410.2,445.7 414.3,445 418.5,444.6 422.8,444.8 427.2,445.5 431.5,446.7 435.8,448.3 440,450.4 444.2,453 448.2,456 452.1,459.3 455.8,463.1 459.2,467.2 462.4,471.7 465.4,476.4 468.1,481.4 470.4,486.6 472.5,492 474.2,497.5 475.5,503.1 476.5,508.7 477.1,514.3 477.3,520 477.2,525.5 476.6,530.9 475.7,536.1 474.5,541.2 472.8,546 470.9,550.5 468.6,554.7 466,558.6 463.1,562 459.9,565.1 456.5,567.8 452.8,570 449,571.8 445,573.1Z" fill="#fff"/>
<path d="M447.6,568.8L74.5,678" fill="none" stroke="#141414" stroke-width="1.25"/>
<path d="M412.4,448.6L39.4,558.4" fill="none" stroke="#141414" stroke-width="1.25"/>
<path d="M447.6,568.8L450.4,567.8 453.2,566.6 455.8,565.1 458.3,563.4 460.7,561.5 463,559.3 465.1,556.9 467.1,554.3 468.9,551.5 470.6,548.5 472.1,545.4 473.4,542.1 474.5,538.7 475.4,535.1 476.1,531.4 476.7,527.6 477,523.8 477.1,519.8 477.1,515.9 476.8,511.8 476.3,507.8 475.6,503.8 474.8,499.8 473.7,495.9 472.5,492 471,488.1 469.4,484.4 467.7,480.8 465.7,477.2 463.6,473.9 461.4,470.6 459,467.6 456.6,464.7 453.9,462 451.2,459.4 448.4,457.2 445.6,455.1 442.6,453.2 439.6,451.6 436.6,450.3 433.5,449.2 430.4,448.3 427.3,447.7 424.3,447.4 421.2,447.3 418.2,447.5 415.3,447.9 412.4,448.6" fill="none" stroke="#141414" stroke-width="1.25"/>
<path d="M431,573.8L434.1,574.1 437.2,574.1 440.3,573.9 443.2,573.5 446.2,572.7 449,571.8 451.8,570.5 454.5,569.1 457.1,567.4 459.5,565.4 461.9,563.3 464,560.9 466.1,558.4 468,555.6 469.7,552.7 471.3,549.6 472.7,546.3 473.9,542.9 475,539.3 475.8,535.7 476.5,531.9 477,528 477.2,524.1 477.3,520.1 477.2,516.1 476.9,512 476.4,508 475.7,503.9 474.8,499.9 473.7,495.9 472.5,491.9 471,488 469.4,484.2 467.6,480.5 465.7,477 463.6,473.5 461.4,470.2 459.1,467 456.6,464 454,461.2 451.3,458.6 448.5,456.2 445.6,454 442.7,452 439.7,450.2 436.6,448.7 433.5,447.4 430.4,446.3 427.3,445.5 424.2,445 421.1,444.7 418,444.7 414.9,444.9 412,445.3 409,446.1 406.2,447 403.4,448.3 400.7,449.7 398.1,451.4 395.7,453.4" fill="none" stroke="#141414" stroke-width="1.25"/>
<path d="M103.9,628.1L103.7,622.8 103.1,617.5 102.2,612.2 100.9,606.9 99.3,601.7 97.4,596.6 95.2,591.7 92.7,587 89.9,582.6 86.8,578.4 83.6,574.5 80.1,570.9 76.4,567.7 72.6,564.9 68.7,562.5 64.7,560.5 60.7,559 56.6,557.9 52.5,557.2 48.4,557 44.4,557.3 40.5,558.1 36.8,559.3 33.2,561 29.7,563.1 26.5,565.6 23.5,568.5 20.8,571.8 18.3,575.4 16.1,579.4 14.3,583.7 12.7,588.2 11.5,592.9 10.7,597.9 10.2,603 10,608.2 10.3,613.5 10.8,618.8 11.8,624.2 13,629.4 14.6,634.6 16.5,639.7 18.8,644.6 21.3,649.3 24.1,653.8 27.1,658 30.4,661.9 33.9,665.4 37.5,668.6 41.3,671.4 45.2,673.9 49.2,675.8 53.3,677.4 57.4,678.5 61.5,679.1 65.5,679.3 69.5,679 73.4,678.3 77.2,677 80.8,675.4 84.2,673.3 87.5,670.8 90.5,667.9 93.2,664.6 95.7,660.9 97.8,657 99.7,652.7 101.2,648.2 102.4,643.4 103.3,638.5 103.8,633.4 103.9,628.1Z" fill="none" stroke="#141414" stroke-width="1.25"/>
<path d="M92.8,628.2L92.6,623.6 92.1,619 91.3,614.4 90.2,609.8 88.8,605.3 87.2,600.9 85.2,596.7 83,592.6 80.6,588.7 78,585.1 75.2,581.7 72.1,578.6 69,575.9 65.7,573.4 62.3,571.3 58.8,569.6 55.3,568.3 51.8,567.3 48.2,566.8 44.7,566.6 41.2,566.9 37.9,567.5 34.6,568.6 31.5,570 28.5,571.8 25.7,574 23.1,576.5 20.7,579.4 18.6,582.5 16.7,586 15.1,589.7 13.8,593.6 12.7,597.7 12,602 11.6,606.4 11.4,611 11.6,615.6 12.1,620.2 12.9,624.8 14,629.4 15.4,633.9 17.1,638.3 19,642.5 21.2,646.6 23.6,650.5 26.2,654.1 29.1,657.5 32.1,660.6 35.2,663.3 38.5,665.8 41.9,667.9 45.4,669.6 48.9,670.9 52.5,671.9 56,672.4 59.5,672.6 63,672.3 66.4,671.7 69.6,670.6 72.8,669.2 75.7,667.4 78.5,665.2 81.1,662.7 83.5,659.8 85.6,656.7 87.5,653.2 89.1,649.5 90.5,645.6 91.5,641.5 92.2,637.2 92.7,632.8 92.8,628.2Z" fill="none" stroke="#141414" stroke-width="1.25"/>
<path d="M835.5,176.4 Q721.5,231.5 665.8,297.2" fill="none" stroke="#141414" stroke-width="1.1"/>
<path d="M259.4,191.5 Q303,172 345.6,167.5" fill="none" stroke="#141414" stroke-width="1.1"/>
<path d="M341.4,245.3 Q386,244 430.4,246.6" fill="none" stroke="#141414" stroke-width="1.1"/>
<path d="M362.7,290.5 Q392,289 415.3,296.7" fill="none" stroke="#141414" stroke-width="1.1"/>
<path d="M338.9,339.3 Q384,336 429,335.6" fill="none" stroke="#141414" stroke-width="1.1"/>
<path d="M345.6,387.9 Q383,395 420.3,404.3" fill="none" stroke="#141414" stroke-width="1.1"/>
<path d="M486,387.7 Q458,399 430,408.6" fill="none" stroke="#141414" stroke-width="1.1"/>
<path d="M511.3,299.6 Q488,304.5 466.2,304" fill="none" stroke="#141414" stroke-width="1.1"/>
<path d="M500.3,448.2 Q475,459.5 449.7,473" fill="none" stroke="#141414" stroke-width="1.1"/>
<text transform="translate(858.5,183.8) scale(0.84,1)" font-family="'Liberation Serif',serif" font-size="66" text-anchor="middle" fill="#0a0a0a" stroke="#0a0a0a" stroke-width="0.5">1</text>
<text transform="translate(238,209.6) scale(0.84,1)" font-family="'Liberation Serif',serif" font-size="66" text-anchor="middle" fill="#0a0a0a" stroke="#0a0a0a" stroke-width="0.5">2</text>
<text transform="translate(322,265.8) scale(0.84,1)" font-family="'Liberation Serif',serif" font-size="66" text-anchor="middle" fill="#0a0a0a" stroke="#0a0a0a" stroke-width="0.5">3</text>
<text transform="translate(331,310) scale(0.84,1)" font-family="'Liberation Serif',serif" font-size="66" text-anchor="middle" fill="#0a0a0a" stroke="#0a0a0a" stroke-width="0.5">10</text>
<text transform="translate(318,354) scale(0.84,1)" font-family="'Liberation Serif',serif" font-size="66" text-anchor="middle" fill="#0a0a0a" stroke="#0a0a0a" stroke-width="0.5">4</text>
<text transform="translate(322.5,405.5) scale(0.84,1)" font-family="'Liberation Serif',serif" font-size="66" text-anchor="middle" fill="#0a0a0a" stroke="#0a0a0a" stroke-width="0.5">8</text>
<text transform="translate(498.7,403.8) scale(0.84,1)" font-family="'Liberation Serif',serif" font-size="66" text-anchor="middle" fill="#0a0a0a" stroke="#0a0a0a" stroke-width="0.5">9</text>
<text transform="translate(524,318) scale(0.84,1)" font-family="'Liberation Serif',serif" font-size="66" text-anchor="middle" fill="#0a0a0a" stroke="#0a0a0a" stroke-width="0.5">5</text>
<text transform="translate(519.6,465.3) scale(0.84,1)" font-family="'Liberation Serif',serif" font-size="66" text-anchor="middle" fill="#0a0a0a" stroke="#0a0a0a" stroke-width="0.5">6</text></svg></body></html>
